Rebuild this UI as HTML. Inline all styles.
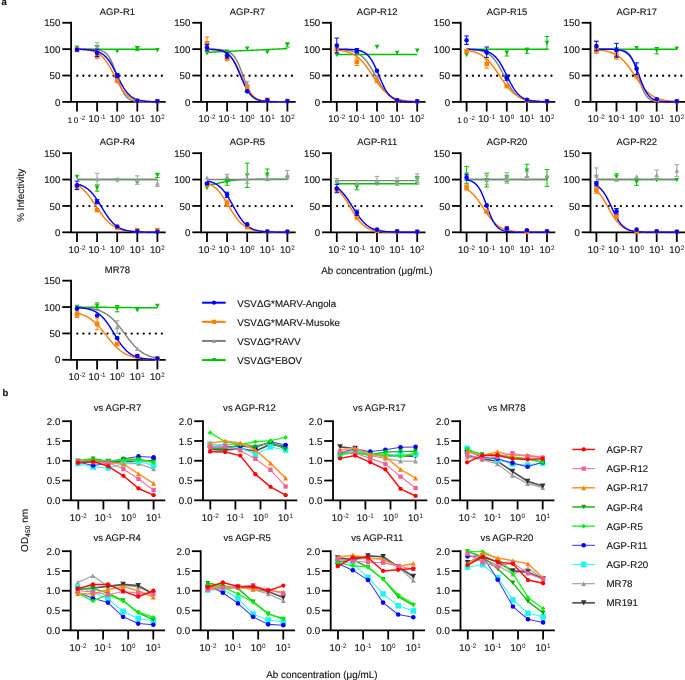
<!DOCTYPE html>
<html><head><meta charset="utf-8"><style>
html,body{margin:0;padding:0;background:#fff;width:685px;height:680px;overflow:hidden}
svg{display:block;font-family:"Liberation Sans", sans-serif;will-change:transform} text{fill:#111}
</style></head><body>
<svg width="685" height="680" viewBox="0 0 685 680">
<rect width="685" height="680" fill="#fff"/>
<g>
<text transform="translate(117.40,14.70) skewX(0.5)" text-anchor="middle" font-size="9.5" stroke="#111" stroke-width="0.12">AGP-R1</text>
<path d="M71.10,21.80V101.90H165.70" stroke="#000" stroke-width="1.8" fill="none"/>
<path d="M62.30,101.90H71.10" stroke="#000" stroke-width="1.8"/>
<text transform="translate(60.50,105.50) skewX(0.5)" text-anchor="end" font-size="9.8" stroke="#111" stroke-width="0.12">0</text>
<path d="M62.30,75.53H71.10" stroke="#000" stroke-width="1.8"/>
<text transform="translate(60.50,79.12) skewX(0.5)" text-anchor="end" font-size="9.8" stroke="#111" stroke-width="0.12">50</text>
<path d="M62.30,49.15H71.10" stroke="#000" stroke-width="1.8"/>
<text transform="translate(60.50,52.75) skewX(0.5)" text-anchor="end" font-size="9.8" stroke="#111" stroke-width="0.12">100</text>
<path d="M62.30,22.78H71.10" stroke="#000" stroke-width="1.8"/>
<text transform="translate(60.50,26.38) skewX(0.5)" text-anchor="end" font-size="9.8" stroke="#111" stroke-width="0.12">150</text>
<path d="M77.00,101.90V111.50" stroke="#000" stroke-width="1.8"/>
<text transform="translate(76.50,123.10) skewX(0.5)" text-anchor="middle" font-size="8.0" stroke="#111" stroke-width="0.12">1<tspan dx="1.7">0</tspan><tspan font-size="6.2" dx="1.6" dy="-3.6" stroke-width="0">-2</tspan></text>
<path d="M97.10,101.90V111.50" stroke="#000" stroke-width="1.8"/>
<text transform="translate(97.10,122.40) skewX(0.5)" text-anchor="middle" font-size="9.8" stroke="#111" stroke-width="0.12">10<tspan font-size="6.4" dx="0.5" dy="-3.2" stroke-width="0">-1</tspan></text>
<path d="M117.20,101.90V111.50" stroke="#000" stroke-width="1.8"/>
<text transform="translate(117.20,122.40) skewX(0.5)" text-anchor="middle" font-size="9.8" stroke="#111" stroke-width="0.12">10<tspan font-size="6.4" dx="0.5" dy="-3.2" stroke-width="0">0</tspan></text>
<path d="M137.30,101.90V111.50" stroke="#000" stroke-width="1.8"/>
<text transform="translate(137.30,122.40) skewX(0.5)" text-anchor="middle" font-size="9.8" stroke="#111" stroke-width="0.12">10<tspan font-size="6.4" dx="0.5" dy="-3.2" stroke-width="0">1</tspan></text>
<path d="M157.40,101.90V111.50" stroke="#000" stroke-width="1.8"/>
<text transform="translate(157.40,122.40) skewX(0.5)" text-anchor="middle" font-size="9.8" stroke="#111" stroke-width="0.12">10<tspan font-size="6.4" dx="0.5" dy="-3.2" stroke-width="0">2</tspan></text>
<circle cx="77.30" cy="75.73" r="1.15" fill="#000"/>
<circle cx="83.34" cy="75.73" r="1.15" fill="#000"/>
<circle cx="89.38" cy="75.73" r="1.15" fill="#000"/>
<circle cx="95.42" cy="75.73" r="1.15" fill="#000"/>
<circle cx="101.46" cy="75.73" r="1.15" fill="#000"/>
<circle cx="107.50" cy="75.73" r="1.15" fill="#000"/>
<circle cx="113.54" cy="75.73" r="1.15" fill="#000"/>
<circle cx="119.58" cy="75.73" r="1.15" fill="#000"/>
<circle cx="125.62" cy="75.73" r="1.15" fill="#000"/>
<circle cx="131.66" cy="75.73" r="1.15" fill="#000"/>
<circle cx="137.70" cy="75.73" r="1.15" fill="#000"/>
<circle cx="143.74" cy="75.73" r="1.15" fill="#000"/>
<circle cx="149.78" cy="75.73" r="1.15" fill="#000"/>
<circle cx="155.82" cy="75.73" r="1.15" fill="#000"/>
<circle cx="161.86" cy="75.73" r="1.15" fill="#000"/>
<polyline points="77.00,49.15 77.67,49.15 78.34,49.15 79.01,49.15 79.68,49.15 80.35,49.15 81.02,49.15 81.69,49.15 82.36,49.15 83.03,49.15 83.70,49.15 84.37,49.15 85.04,49.15 85.71,49.15 86.38,49.15 87.05,49.15 87.72,49.15 88.39,49.15 89.06,49.15 89.73,49.15 90.40,49.15 91.07,49.15 91.74,49.15 92.41,49.15 93.08,49.15 93.75,49.15 94.42,49.15 95.09,49.15 95.76,49.15 96.43,49.15 97.10,49.15 97.77,49.15 98.44,49.15 99.11,49.15 99.78,49.15 100.45,49.15 101.12,49.15 101.79,49.15 102.46,49.15 103.13,49.15 103.80,49.15 104.47,49.15 105.14,49.15 105.81,49.15 106.48,49.15 107.15,49.15 107.82,49.15 108.49,49.15 109.16,49.15 109.83,49.15 110.50,49.15 111.17,49.15 111.84,49.15 112.51,49.15 113.18,49.15 113.85,49.15 114.52,49.15 115.19,49.15 115.86,49.15 116.53,49.15 117.20,49.15 117.87,49.15 118.54,49.15 119.21,49.15 119.88,49.15 120.55,49.15 121.22,49.15 121.89,49.15 122.56,49.15 123.23,49.15 123.90,49.15 124.57,49.15 125.24,49.15 125.91,49.15 126.58,49.15 127.25,49.15 127.92,49.15 128.59,49.15 129.26,49.15 129.93,49.15 130.60,49.15 131.27,49.15 131.94,49.15 132.61,49.15 133.28,49.15 133.95,49.15 134.62,49.15 135.29,49.15 135.96,49.15 136.63,49.15 137.30,49.15 137.97,49.15 138.64,49.15 139.31,49.15 139.98,49.15 140.65,49.15 141.32,49.15 141.99,49.15 142.66,49.15 143.33,49.15 144.00,49.15 144.67,49.15 145.34,49.15 146.01,49.15 146.68,49.15 147.35,49.15 148.02,49.15 148.69,49.15 149.36,49.15 150.03,49.15 150.70,49.15 151.37,49.15 152.04,49.15 152.71,49.15 153.38,49.15 154.05,49.15 154.72,49.15 155.39,49.15 156.06,49.15 156.73,49.15 157.40,49.15" fill="none" stroke="#00c000" stroke-width="1.45"/>
<polyline points="77.00,49.16 77.67,49.16 78.34,49.16 79.01,49.16 79.68,49.16 80.35,49.16 81.02,49.16 81.69,49.17 82.36,49.17 83.03,49.17 83.70,49.18 84.37,49.18 85.04,49.19 85.71,49.19 86.38,49.20 87.05,49.21 87.72,49.22 88.39,49.23 89.06,49.24 89.73,49.26 90.40,49.28 91.07,49.30 91.74,49.32 92.41,49.35 93.08,49.38 93.75,49.42 94.42,49.46 95.09,49.52 95.76,49.58 96.43,49.65 97.10,49.73 97.77,49.82 98.44,49.93 99.11,50.06 99.78,50.21 100.45,50.38 101.12,50.58 101.79,50.81 102.46,51.07 103.13,51.38 103.80,51.73 104.47,52.13 105.14,52.60 105.81,53.13 106.48,53.73 107.15,54.41 107.82,55.18 108.49,56.06 109.16,57.03 109.83,58.11 110.50,59.32 111.17,60.64 111.84,62.07 112.51,63.63 113.18,65.30 113.85,67.07 114.52,68.92 115.19,70.85 115.86,72.84 116.53,74.85 117.20,76.88 117.87,78.88 118.54,80.85 119.21,82.76 119.88,84.59 120.55,86.33 121.22,87.96 121.89,89.47 122.56,90.87 123.23,92.15 123.90,93.31 124.57,94.36 125.24,95.30 125.91,96.14 126.58,96.88 127.25,97.53 127.92,98.11 128.59,98.62 129.26,99.06 129.93,99.44 130.60,99.78 131.27,100.07 131.94,100.32 132.61,100.54 133.28,100.73 133.95,100.89 134.62,101.03 135.29,101.16 135.96,101.26 136.63,101.35 137.30,101.43 137.97,101.49 138.64,101.55 139.31,101.60 139.98,101.64 140.65,101.68 141.32,101.71 141.99,101.74 142.66,101.76 143.33,101.78 144.00,101.80 144.67,101.81 145.34,101.82 146.01,101.84 146.68,101.84 147.35,101.85 148.02,101.86 148.69,101.87 149.36,101.87 150.03,101.87 150.70,101.88 151.37,101.88 152.04,101.88 152.71,101.89 153.38,101.89 154.05,101.89 154.72,101.89 155.39,101.89 156.06,101.89 156.73,101.89 157.40,101.90" fill="none" stroke="#808080" stroke-width="1.45"/>
<polyline points="77.00,49.35 77.67,49.37 78.34,49.40 79.01,49.42 79.68,49.45 80.35,49.48 81.02,49.52 81.69,49.56 82.36,49.60 83.03,49.64 83.70,49.70 84.37,49.75 85.04,49.81 85.71,49.88 86.38,49.96 87.05,50.04 87.72,50.13 88.39,50.23 89.06,50.35 89.73,50.47 90.40,50.60 91.07,50.75 91.74,50.91 92.41,51.09 93.08,51.29 93.75,51.50 94.42,51.74 95.09,51.99 95.76,52.27 96.43,52.58 97.10,52.91 97.77,53.28 98.44,53.67 99.11,54.10 99.78,54.57 100.45,55.07 101.12,55.62 101.79,56.21 102.46,56.84 103.13,57.52 103.80,58.25 104.47,59.02 105.14,59.85 105.81,60.72 106.48,61.65 107.15,62.63 107.82,63.65 108.49,64.72 109.16,65.84 109.83,67.00 110.50,68.20 111.17,69.43 111.84,70.69 112.51,71.97 113.18,73.27 113.85,74.58 114.52,75.89 115.19,77.21 115.86,78.51 116.53,79.80 117.20,81.07 117.87,82.32 118.54,83.53 119.21,84.70 119.88,85.84 120.55,86.93 121.22,87.98 121.89,88.98 122.56,89.93 123.23,90.82 123.90,91.67 124.57,92.47 125.24,93.22 125.91,93.92 126.58,94.57 127.25,95.18 127.92,95.74 128.59,96.26 129.26,96.75 129.93,97.19 130.60,97.60 131.27,97.98 131.94,98.33 132.61,98.65 133.28,98.94 133.95,99.20 134.62,99.45 135.29,99.67 135.96,99.88 136.63,100.06 137.30,100.23 137.97,100.38 138.64,100.52 139.31,100.65 139.98,100.77 140.65,100.87 141.32,100.97 141.99,101.06 142.66,101.13 143.33,101.21 144.00,101.27 144.67,101.33 145.34,101.38 146.01,101.43 146.68,101.48 147.35,101.52 148.02,101.55 148.69,101.59 149.36,101.62 150.03,101.64 150.70,101.67 151.37,101.69 152.04,101.71 152.71,101.73 153.38,101.74 154.05,101.76 154.72,101.77 155.39,101.78 156.06,101.79 156.73,101.80 157.40,101.81" fill="none" stroke="#ff7f00" stroke-width="1.45"/>
<polyline points="77.00,49.26 77.67,49.27 78.34,49.28 79.01,49.29 79.68,49.31 80.35,49.33 81.02,49.35 81.69,49.37 82.36,49.39 83.03,49.42 83.70,49.44 84.37,49.48 85.04,49.51 85.71,49.55 86.38,49.60 87.05,49.64 87.72,49.70 88.39,49.76 89.06,49.82 89.73,49.89 90.40,49.97 91.07,50.06 91.74,50.16 92.41,50.27 93.08,50.39 93.75,50.52 94.42,50.66 95.09,50.82 95.76,51.00 96.43,51.19 97.10,51.41 97.77,51.64 98.44,51.90 99.11,52.18 99.78,52.49 100.45,52.83 101.12,53.20 101.79,53.61 102.46,54.05 103.13,54.53 103.80,55.05 104.47,55.61 105.14,56.22 105.81,56.88 106.48,57.59 107.15,58.35 107.82,59.17 108.49,60.04 109.16,60.96 109.83,61.93 110.50,62.96 111.17,64.05 111.84,65.18 112.51,66.36 113.18,67.58 113.85,68.84 114.52,70.14 115.19,71.46 115.86,72.80 116.53,74.16 117.20,75.53 117.87,76.89 118.54,78.25 119.21,79.59 119.88,80.91 120.55,82.21 121.22,83.47 121.89,84.69 122.56,85.87 123.23,87.00 123.90,88.09 124.57,89.12 125.24,90.09 125.91,91.01 126.58,91.88 127.25,92.70 127.92,93.46 128.59,94.17 129.26,94.83 129.93,95.44 130.60,96.00 131.27,96.52 131.94,97.00 132.61,97.44 133.28,97.85 133.95,98.22 134.62,98.56 135.29,98.87 135.96,99.15 136.63,99.41 137.30,99.64 137.97,99.86 138.64,100.05 139.31,100.23 139.98,100.39 140.65,100.53 141.32,100.66 141.99,100.78 142.66,100.89 143.33,100.99 144.00,101.08 144.67,101.16 145.34,101.23 146.01,101.29 146.68,101.35 147.35,101.41 148.02,101.45 148.69,101.50 149.36,101.54 150.03,101.57 150.70,101.61 151.37,101.63 152.04,101.66 152.71,101.68 153.38,101.70 154.05,101.72 154.72,101.74 155.39,101.76 156.06,101.77 156.73,101.78 157.40,101.79" fill="none" stroke="#0000ff" stroke-width="1.45"/>
<path d="M74.70,45.38L79.30,45.38L77.00,49.75Z" fill="#00c000"/>
<path d="M97.10,45.46V49.68M94.80,45.46H99.40M94.80,49.68H99.40" stroke="#00c000" stroke-width="1" fill="none"/>
<path d="M94.80,45.38L99.40,45.38L97.10,49.75Z" fill="#00c000"/>
<path d="M114.90,49.08L119.50,49.08L117.20,53.45Z" fill="#00c000"/>
<path d="M137.30,46.51V50.73M135.00,46.51H139.60M135.00,50.73H139.60" stroke="#00c000" stroke-width="1" fill="none"/>
<path d="M135.00,46.44L139.60,46.44L137.30,50.81Z" fill="#00c000"/>
<path d="M155.10,48.02L159.70,48.02L157.40,52.39Z" fill="#00c000"/>
<path d="M77.00,47.57V51.79M74.70,47.57H79.30M74.70,51.79H79.30" stroke="#a0a0a0" stroke-width="1" fill="none"/>
<path d="M74.70,51.86L79.30,51.86L77.00,47.49Z" fill="#a0a0a0"/>
<path d="M97.10,42.82V51.26M94.80,42.82H99.40M94.80,51.26H99.40" stroke="#a0a0a0" stroke-width="1" fill="none"/>
<path d="M94.80,49.23L99.40,49.23L97.10,44.86Z" fill="#a0a0a0"/>
<rect x="74.70" y="47.38" width="4.60" height="4.60" fill="#ff7f00"/>
<path d="M97.10,52.32V58.65M94.80,52.32H99.40M94.80,58.65H99.40" stroke="#ff7f00" stroke-width="1" fill="none"/>
<rect x="94.80" y="53.18" width="4.60" height="4.60" fill="#ff7f00"/>
<rect x="114.90" y="78.50" width="4.60" height="4.60" fill="#ff7f00"/>
<rect x="135.00" y="98.55" width="4.60" height="4.60" fill="#ff7f00"/>
<rect x="155.10" y="99.07" width="4.60" height="4.60" fill="#ff7f00"/>
<circle cx="77.00" cy="49.68" r="2.30" fill="#0000ff"/>
<path d="M97.10,49.15V56.54M94.80,49.15H99.40M94.80,56.54H99.40" stroke="#0000ff" stroke-width="1" fill="none"/>
<circle cx="97.10" cy="52.84" r="2.30" fill="#0000ff"/>
<path d="M117.20,73.42V77.64M114.90,73.42H119.50M114.90,77.64H119.50" stroke="#0000ff" stroke-width="1" fill="none"/>
<circle cx="117.20" cy="75.53" r="2.30" fill="#0000ff"/>
<circle cx="137.30" cy="100.84" r="2.30" fill="#0000ff"/>
<circle cx="157.40" cy="101.37" r="2.30" fill="#0000ff"/>
</g>
<g>
<text transform="translate(247.40,14.70) skewX(0.5)" text-anchor="middle" font-size="9.5" stroke="#111" stroke-width="0.12">AGP-R7</text>
<path d="M201.10,21.80V101.90H295.70" stroke="#000" stroke-width="1.8" fill="none"/>
<path d="M192.30,101.90H201.10" stroke="#000" stroke-width="1.8"/>
<text transform="translate(190.50,105.50) skewX(0.5)" text-anchor="end" font-size="9.8" stroke="#111" stroke-width="0.12">0</text>
<path d="M192.30,75.53H201.10" stroke="#000" stroke-width="1.8"/>
<text transform="translate(190.50,79.12) skewX(0.5)" text-anchor="end" font-size="9.8" stroke="#111" stroke-width="0.12">50</text>
<path d="M192.30,49.15H201.10" stroke="#000" stroke-width="1.8"/>
<text transform="translate(190.50,52.75) skewX(0.5)" text-anchor="end" font-size="9.8" stroke="#111" stroke-width="0.12">100</text>
<path d="M192.30,22.78H201.10" stroke="#000" stroke-width="1.8"/>
<text transform="translate(190.50,26.38) skewX(0.5)" text-anchor="end" font-size="9.8" stroke="#111" stroke-width="0.12">150</text>
<path d="M207.00,101.90V111.50" stroke="#000" stroke-width="1.8"/>
<text transform="translate(207.00,122.40) skewX(0.5)" text-anchor="middle" font-size="9.8" stroke="#111" stroke-width="0.12">10<tspan font-size="6.4" dx="0.5" dy="-3.2" stroke-width="0">-2</tspan></text>
<path d="M227.10,101.90V111.50" stroke="#000" stroke-width="1.8"/>
<text transform="translate(227.10,122.40) skewX(0.5)" text-anchor="middle" font-size="9.8" stroke="#111" stroke-width="0.12">10<tspan font-size="6.4" dx="0.5" dy="-3.2" stroke-width="0">-1</tspan></text>
<path d="M247.20,101.90V111.50" stroke="#000" stroke-width="1.8"/>
<text transform="translate(247.20,122.40) skewX(0.5)" text-anchor="middle" font-size="9.8" stroke="#111" stroke-width="0.12">10<tspan font-size="6.4" dx="0.5" dy="-3.2" stroke-width="0">0</tspan></text>
<path d="M267.30,101.90V111.50" stroke="#000" stroke-width="1.8"/>
<text transform="translate(267.30,122.40) skewX(0.5)" text-anchor="middle" font-size="9.8" stroke="#111" stroke-width="0.12">10<tspan font-size="6.4" dx="0.5" dy="-3.2" stroke-width="0">1</tspan></text>
<path d="M287.40,101.90V111.50" stroke="#000" stroke-width="1.8"/>
<text transform="translate(287.40,122.40) skewX(0.5)" text-anchor="middle" font-size="9.8" stroke="#111" stroke-width="0.12">10<tspan font-size="6.4" dx="0.5" dy="-3.2" stroke-width="0">2</tspan></text>
<circle cx="207.30" cy="75.73" r="1.15" fill="#000"/>
<circle cx="213.34" cy="75.73" r="1.15" fill="#000"/>
<circle cx="219.38" cy="75.73" r="1.15" fill="#000"/>
<circle cx="225.42" cy="75.73" r="1.15" fill="#000"/>
<circle cx="231.46" cy="75.73" r="1.15" fill="#000"/>
<circle cx="237.50" cy="75.73" r="1.15" fill="#000"/>
<circle cx="243.54" cy="75.73" r="1.15" fill="#000"/>
<circle cx="249.58" cy="75.73" r="1.15" fill="#000"/>
<circle cx="255.62" cy="75.73" r="1.15" fill="#000"/>
<circle cx="261.66" cy="75.73" r="1.15" fill="#000"/>
<circle cx="267.70" cy="75.73" r="1.15" fill="#000"/>
<circle cx="273.74" cy="75.73" r="1.15" fill="#000"/>
<circle cx="279.78" cy="75.73" r="1.15" fill="#000"/>
<circle cx="285.82" cy="75.73" r="1.15" fill="#000"/>
<circle cx="291.86" cy="75.73" r="1.15" fill="#000"/>
<polyline points="207.00,52.32 207.67,52.28 208.34,52.25 209.01,52.22 209.68,52.19 210.35,52.16 211.02,52.13 211.69,52.10 212.36,52.07 213.03,52.04 213.70,52.01 214.37,51.98 215.04,51.95 215.71,51.91 216.38,51.88 217.05,51.85 217.72,51.82 218.39,51.79 219.06,51.76 219.73,51.73 220.40,51.70 221.07,51.67 221.74,51.64 222.41,51.61 223.08,51.58 223.75,51.55 224.42,51.51 225.09,51.48 225.76,51.45 226.43,51.42 227.10,51.39 227.77,51.36 228.44,51.33 229.11,51.30 229.78,51.27 230.45,51.24 231.12,51.21 231.79,51.18 232.46,51.15 233.13,51.11 233.80,51.08 234.47,51.05 235.14,51.02 235.81,50.99 236.48,50.96 237.15,50.93 237.82,50.90 238.49,50.87 239.16,50.84 239.83,50.81 240.50,50.78 241.17,50.75 241.84,50.71 242.51,50.68 243.18,50.65 243.85,50.62 244.52,50.59 245.19,50.56 245.86,50.53 246.53,50.50 247.20,50.47 247.87,50.44 248.54,50.41 249.21,50.38 249.88,50.35 250.55,50.31 251.22,50.28 251.89,50.25 252.56,50.22 253.23,50.19 253.90,50.16 254.57,50.13 255.24,50.10 255.91,50.07 256.58,50.04 257.25,50.01 257.92,49.98 258.59,49.95 259.26,49.91 259.93,49.88 260.60,49.85 261.27,49.82 261.94,49.79 262.61,49.76 263.28,49.73 263.95,49.70 264.62,49.67 265.29,49.64 265.96,49.61 266.63,49.58 267.30,49.55 267.97,49.51 268.64,49.48 269.31,49.45 269.98,49.42 270.65,49.39 271.32,49.36 271.99,49.33 272.66,49.30 273.33,49.27 274.00,49.24 274.67,49.21 275.34,49.18 276.01,49.15 276.68,49.11 277.35,49.08 278.02,49.05 278.69,49.02 279.36,48.99 280.03,48.96 280.70,48.93 281.37,48.90 282.04,48.87 282.71,48.84 283.38,48.81 284.05,48.78 284.72,48.75 285.39,48.71 286.06,48.68 286.73,48.65 287.40,48.62" fill="none" stroke="#00c000" stroke-width="1.45"/>
<polyline points="207.00,49.18 207.67,49.19 208.34,49.19 209.01,49.20 209.68,49.20 210.35,49.21 211.02,49.22 211.69,49.23 212.36,49.24 213.03,49.26 213.70,49.27 214.37,49.29 215.04,49.31 215.71,49.34 216.38,49.37 217.05,49.40 217.72,49.43 218.39,49.48 219.06,49.52 219.73,49.58 220.40,49.64 221.07,49.71 221.74,49.80 222.41,49.89 223.08,50.00 223.75,50.12 224.42,50.26 225.09,50.42 225.76,50.61 226.43,50.82 227.10,51.06 227.77,51.33 228.44,51.63 229.11,51.98 229.78,52.37 230.45,52.82 231.12,53.32 231.79,53.88 232.46,54.51 233.13,55.22 233.80,56.00 234.47,56.86 235.14,57.82 235.81,58.87 236.48,60.01 237.15,61.25 237.82,62.59 238.49,64.01 239.16,65.53 239.83,67.13 240.50,68.80 241.17,70.54 241.84,72.31 242.51,74.12 243.18,75.94 243.85,77.76 244.52,79.55 245.19,81.31 245.86,83.02 246.53,84.66 247.20,86.22 247.87,87.70 248.54,89.09 249.21,90.38 249.88,91.57 250.55,92.67 251.22,93.68 251.89,94.59 252.56,95.42 253.23,96.16 253.90,96.83 254.57,97.43 255.24,97.97 255.91,98.44 256.58,98.86 257.25,99.23 257.92,99.56 258.59,99.85 259.26,100.11 259.93,100.33 260.60,100.53 261.27,100.70 261.94,100.85 262.61,100.99 263.28,101.10 263.95,101.20 264.62,101.29 265.29,101.37 265.96,101.44 266.63,101.50 267.30,101.55 267.97,101.59 268.64,101.63 269.31,101.67 269.98,101.70 270.65,101.72 271.32,101.75 271.99,101.77 272.66,101.78 273.33,101.80 274.00,101.81 274.67,101.82 275.34,101.83 276.01,101.84 276.68,101.85 277.35,101.86 278.02,101.86 278.69,101.87 279.36,101.87 280.03,101.87 280.70,101.88 281.37,101.88 282.04,101.88 282.71,101.89 283.38,101.89 284.05,101.89 284.72,101.89 285.39,101.89 286.06,101.89 286.73,101.89 287.40,101.89" fill="none" stroke="#808080" stroke-width="1.45"/>
<polyline points="207.00,49.30 207.67,49.32 208.34,49.34 209.01,49.36 209.68,49.39 210.35,49.41 211.02,49.45 211.69,49.48 212.36,49.52 213.03,49.57 213.70,49.62 214.37,49.67 215.04,49.74 215.71,49.81 216.38,49.89 217.05,49.98 217.72,50.07 218.39,50.19 219.06,50.31 219.73,50.45 220.40,50.60 221.07,50.77 221.74,50.96 222.41,51.18 223.08,51.41 223.75,51.68 224.42,51.97 225.09,52.29 225.76,52.65 226.43,53.04 227.10,53.48 227.77,53.96 228.44,54.49 229.11,55.07 229.78,55.70 230.45,56.39 231.12,57.14 231.79,57.95 232.46,58.83 233.13,59.77 233.80,60.78 234.47,61.86 235.14,63.00 235.81,64.21 236.48,65.48 237.15,66.80 237.82,68.18 238.49,69.60 239.16,71.06 239.83,72.55 240.50,74.06 241.17,75.57 241.84,77.09 242.51,78.59 243.18,80.08 243.85,81.54 244.52,82.96 245.19,84.33 245.86,85.65 246.53,86.92 247.20,88.12 247.87,89.26 248.54,90.33 249.21,91.34 249.88,92.28 250.55,93.15 251.22,93.96 251.89,94.71 252.56,95.39 253.23,96.02 253.90,96.60 254.57,97.12 255.24,97.60 255.91,98.03 256.58,98.42 257.25,98.78 257.92,99.10 258.59,99.39 259.26,99.65 259.93,99.89 260.60,100.10 261.27,100.29 261.94,100.46 262.61,100.61 263.28,100.75 263.95,100.87 264.62,100.98 265.29,101.08 265.96,101.17 266.63,101.25 267.30,101.32 267.97,101.38 268.64,101.44 269.31,101.49 269.98,101.53 270.65,101.57 271.32,101.61 271.99,101.64 272.66,101.67 273.33,101.69 274.00,101.71 274.67,101.73 275.34,101.75 276.01,101.77 276.68,101.78 277.35,101.80 278.02,101.81 278.69,101.82 279.36,101.83 280.03,101.83 280.70,101.84 281.37,101.85 282.04,101.85 282.71,101.86 283.38,101.86 284.05,101.87 284.72,101.87 285.39,101.87 286.06,101.88 286.73,101.88 287.40,101.88" fill="none" stroke="#ff7f00" stroke-width="1.45"/>
<polyline points="207.00,49.27 207.67,49.28 208.34,49.30 209.01,49.32 209.68,49.34 210.35,49.36 211.02,49.39 211.69,49.42 212.36,49.46 213.03,49.50 213.70,49.54 214.37,49.59 215.04,49.65 215.71,49.71 216.38,49.79 217.05,49.87 217.72,49.96 218.39,50.06 219.06,50.18 219.73,50.31 220.40,50.46 221.07,50.63 221.74,50.81 222.41,51.02 223.08,51.26 223.75,51.52 224.42,51.82 225.09,52.15 225.76,52.51 226.43,52.92 227.10,53.37 227.77,53.87 228.44,54.43 229.11,55.04 229.78,55.72 230.45,56.46 231.12,57.26 231.79,58.14 232.46,59.10 233.13,60.13 233.80,61.23 234.47,62.41 235.14,63.67 235.81,65.00 236.48,66.39 237.15,67.85 237.82,69.35 238.49,70.90 239.16,72.49 239.83,74.10 240.50,75.71 241.17,77.33 241.84,78.93 242.51,80.51 243.18,82.05 243.85,83.55 244.52,84.99 245.19,86.37 245.86,87.68 246.53,88.92 247.20,90.08 247.87,91.17 248.54,92.18 249.21,93.12 249.88,93.98 250.55,94.77 251.22,95.50 251.89,96.16 252.56,96.75 253.23,97.30 253.90,97.79 254.57,98.23 255.24,98.63 255.91,98.99 256.58,99.31 257.25,99.59 257.92,99.85 258.59,100.08 259.26,100.28 259.93,100.46 260.60,100.63 261.27,100.77 261.94,100.90 262.61,101.01 263.28,101.11 263.95,101.20 264.62,101.28 265.29,101.35 265.96,101.42 266.63,101.47 267.30,101.52 267.97,101.56 268.64,101.60 269.31,101.64 269.98,101.67 270.65,101.69 271.32,101.72 271.99,101.74 272.66,101.76 273.33,101.77 274.00,101.79 274.67,101.80 275.34,101.81 276.01,101.82 276.68,101.83 277.35,101.84 278.02,101.85 278.69,101.85 279.36,101.86 280.03,101.86 280.70,101.87 281.37,101.87 282.04,101.87 282.71,101.88 283.38,101.88 284.05,101.88 284.72,101.88 285.39,101.89 286.06,101.89 286.73,101.89 287.40,101.89" fill="none" stroke="#0000ff" stroke-width="1.45"/>
<path d="M204.70,51.19L209.30,51.19L207.00,55.56Z" fill="#00c000"/>
<path d="M224.80,49.60L229.40,49.60L227.10,53.97Z" fill="#00c000"/>
<path d="M244.90,46.44L249.50,46.44L247.20,50.81Z" fill="#00c000"/>
<path d="M265.00,50.13L269.60,50.13L267.30,54.50Z" fill="#00c000"/>
<path d="M287.40,42.82V47.04M285.10,42.82H289.70M285.10,47.04H289.70" stroke="#00c000" stroke-width="1" fill="none"/>
<path d="M285.10,42.75L289.70,42.75L287.40,47.12Z" fill="#00c000"/>
<path d="M247.20,81.33V85.55M244.90,81.33H249.50M244.90,85.55H249.50" stroke="#a0a0a0" stroke-width="1" fill="none"/>
<path d="M244.90,85.62L249.50,85.62L247.20,81.25Z" fill="#a0a0a0"/>
<path d="M207.00,37.02V49.68M204.70,37.02H209.30M204.70,49.68H209.30" stroke="#ff7f00" stroke-width="1" fill="none"/>
<rect x="204.70" y="41.05" width="4.60" height="4.60" fill="#ff7f00"/>
<path d="M227.10,55.48V60.76M224.80,55.48H229.40M224.80,60.76H229.40" stroke="#ff7f00" stroke-width="1" fill="none"/>
<rect x="224.80" y="55.82" width="4.60" height="4.60" fill="#ff7f00"/>
<rect x="244.90" y="85.36" width="4.60" height="4.60" fill="#ff7f00"/>
<rect x="265.00" y="97.49" width="4.60" height="4.60" fill="#ff7f00"/>
<rect x="285.10" y="98.55" width="4.60" height="4.60" fill="#ff7f00"/>
<path d="M207.00,44.40V50.73M204.70,44.40H209.30M204.70,50.73H209.30" stroke="#0000ff" stroke-width="1" fill="none"/>
<circle cx="207.00" cy="47.57" r="2.30" fill="#0000ff"/>
<path d="M227.10,52.84V58.12M224.80,52.84H229.40M224.80,58.12H229.40" stroke="#0000ff" stroke-width="1" fill="none"/>
<circle cx="227.10" cy="55.48" r="2.30" fill="#0000ff"/>
<circle cx="247.20" cy="91.35" r="2.30" fill="#0000ff"/>
<circle cx="267.30" cy="100.32" r="2.30" fill="#0000ff"/>
<circle cx="287.40" cy="101.37" r="2.30" fill="#0000ff"/>
</g>
<g>
<text transform="translate(377.20,14.70) skewX(0.5)" text-anchor="middle" font-size="9.5" stroke="#111" stroke-width="0.12">AGP-R12</text>
<path d="M330.90,21.80V101.90H425.50" stroke="#000" stroke-width="1.8" fill="none"/>
<path d="M322.10,101.90H330.90" stroke="#000" stroke-width="1.8"/>
<text transform="translate(320.30,105.50) skewX(0.5)" text-anchor="end" font-size="9.8" stroke="#111" stroke-width="0.12">0</text>
<path d="M322.10,75.53H330.90" stroke="#000" stroke-width="1.8"/>
<text transform="translate(320.30,79.12) skewX(0.5)" text-anchor="end" font-size="9.8" stroke="#111" stroke-width="0.12">50</text>
<path d="M322.10,49.15H330.90" stroke="#000" stroke-width="1.8"/>
<text transform="translate(320.30,52.75) skewX(0.5)" text-anchor="end" font-size="9.8" stroke="#111" stroke-width="0.12">100</text>
<path d="M322.10,22.78H330.90" stroke="#000" stroke-width="1.8"/>
<text transform="translate(320.30,26.38) skewX(0.5)" text-anchor="end" font-size="9.8" stroke="#111" stroke-width="0.12">150</text>
<path d="M336.80,101.90V111.50" stroke="#000" stroke-width="1.8"/>
<text transform="translate(336.80,122.40) skewX(0.5)" text-anchor="middle" font-size="9.8" stroke="#111" stroke-width="0.12">10<tspan font-size="6.4" dx="0.5" dy="-3.2" stroke-width="0">-2</tspan></text>
<path d="M356.90,101.90V111.50" stroke="#000" stroke-width="1.8"/>
<text transform="translate(356.90,122.40) skewX(0.5)" text-anchor="middle" font-size="9.8" stroke="#111" stroke-width="0.12">10<tspan font-size="6.4" dx="0.5" dy="-3.2" stroke-width="0">-1</tspan></text>
<path d="M377.00,101.90V111.50" stroke="#000" stroke-width="1.8"/>
<text transform="translate(377.00,122.40) skewX(0.5)" text-anchor="middle" font-size="9.8" stroke="#111" stroke-width="0.12">10<tspan font-size="6.4" dx="0.5" dy="-3.2" stroke-width="0">0</tspan></text>
<path d="M397.10,101.90V111.50" stroke="#000" stroke-width="1.8"/>
<text transform="translate(397.10,122.40) skewX(0.5)" text-anchor="middle" font-size="9.8" stroke="#111" stroke-width="0.12">10<tspan font-size="6.4" dx="0.5" dy="-3.2" stroke-width="0">1</tspan></text>
<path d="M417.20,101.90V111.50" stroke="#000" stroke-width="1.8"/>
<text transform="translate(417.20,122.40) skewX(0.5)" text-anchor="middle" font-size="9.8" stroke="#111" stroke-width="0.12">10<tspan font-size="6.4" dx="0.5" dy="-3.2" stroke-width="0">2</tspan></text>
<circle cx="337.10" cy="75.73" r="1.15" fill="#000"/>
<circle cx="343.14" cy="75.73" r="1.15" fill="#000"/>
<circle cx="349.18" cy="75.73" r="1.15" fill="#000"/>
<circle cx="355.22" cy="75.73" r="1.15" fill="#000"/>
<circle cx="361.26" cy="75.73" r="1.15" fill="#000"/>
<circle cx="367.30" cy="75.73" r="1.15" fill="#000"/>
<circle cx="373.34" cy="75.73" r="1.15" fill="#000"/>
<circle cx="379.38" cy="75.73" r="1.15" fill="#000"/>
<circle cx="385.42" cy="75.73" r="1.15" fill="#000"/>
<circle cx="391.46" cy="75.73" r="1.15" fill="#000"/>
<circle cx="397.50" cy="75.73" r="1.15" fill="#000"/>
<circle cx="403.54" cy="75.73" r="1.15" fill="#000"/>
<circle cx="409.58" cy="75.73" r="1.15" fill="#000"/>
<circle cx="415.62" cy="75.73" r="1.15" fill="#000"/>
<circle cx="421.66" cy="75.73" r="1.15" fill="#000"/>
<polyline points="336.80,54.43 337.47,54.43 338.14,54.43 338.81,54.43 339.48,54.43 340.15,54.43 340.82,54.43 341.49,54.43 342.16,54.43 342.83,54.43 343.50,54.43 344.17,54.43 344.84,54.43 345.51,54.43 346.18,54.43 346.85,54.43 347.52,54.43 348.19,54.43 348.86,54.43 349.53,54.43 350.20,54.43 350.87,54.43 351.54,54.43 352.21,54.43 352.88,54.43 353.55,54.43 354.22,54.43 354.89,54.43 355.56,54.43 356.23,54.43 356.90,54.43 357.57,54.43 358.24,54.43 358.91,54.43 359.58,54.43 360.25,54.43 360.92,54.43 361.59,54.43 362.26,54.43 362.93,54.43 363.60,54.43 364.27,54.43 364.94,54.43 365.61,54.43 366.28,54.43 366.95,54.43 367.62,54.43 368.29,54.43 368.96,54.43 369.63,54.43 370.30,54.43 370.97,54.43 371.64,54.43 372.31,54.43 372.98,54.43 373.65,54.43 374.32,54.43 374.99,54.43 375.66,54.43 376.33,54.43 377.00,54.43 377.67,54.43 378.34,54.43 379.01,54.43 379.68,54.43 380.35,54.43 381.02,54.43 381.69,54.43 382.36,54.43 383.03,54.43 383.70,54.43 384.37,54.43 385.04,54.43 385.71,54.43 386.38,54.43 387.05,54.43 387.72,54.43 388.39,54.43 389.06,54.43 389.73,54.43 390.40,54.43 391.07,54.43 391.74,54.43 392.41,54.43 393.08,54.43 393.75,54.43 394.42,54.43 395.09,54.43 395.76,54.43 396.43,54.43 397.10,54.43 397.77,54.43 398.44,54.43 399.11,54.43 399.78,54.43 400.45,54.43 401.12,54.43 401.79,54.43 402.46,54.43 403.13,54.43 403.80,54.43 404.47,54.43 405.14,54.43 405.81,54.43 406.48,54.43 407.15,54.43 407.82,54.43 408.49,54.43 409.16,54.43 409.83,54.43 410.50,54.43 411.17,54.43 411.84,54.43 412.51,54.43 413.18,54.43 413.85,54.43 414.52,54.43 415.19,54.43 415.86,54.43 416.53,54.43 417.20,54.43" fill="none" stroke="#00c000" stroke-width="1.45"/>
<polyline points="336.80,49.41 337.47,49.44 338.14,49.46 338.81,49.49 339.48,49.53 340.15,49.56 340.82,49.60 341.49,49.65 342.16,49.69 342.83,49.74 343.50,49.80 344.17,49.86 344.84,49.93 345.51,50.01 346.18,50.09 346.85,50.18 347.52,50.27 348.19,50.38 348.86,50.49 349.53,50.62 350.20,50.76 350.87,50.91 351.54,51.07 352.21,51.25 352.88,51.44 353.55,51.65 354.22,51.88 354.89,52.13 355.56,52.40 356.23,52.69 356.90,53.01 357.57,53.35 358.24,53.72 358.91,54.12 359.58,54.55 360.25,55.01 360.92,55.51 361.59,56.04 362.26,56.62 362.93,57.23 363.60,57.88 364.27,58.57 364.94,59.30 365.61,60.08 366.28,60.90 366.95,61.76 367.62,62.66 368.29,63.61 368.96,64.60 369.63,65.62 370.30,66.68 370.97,67.78 371.64,68.90 372.31,70.05 372.98,71.22 373.65,72.42 374.32,73.62 374.99,74.83 375.66,76.04 376.33,77.26 377.00,78.46 377.67,79.65 378.34,80.83 379.01,81.98 379.68,83.11 380.35,84.21 381.02,85.28 381.69,86.31 382.36,87.30 383.03,88.25 383.70,89.16 384.37,90.03 385.04,90.86 385.71,91.64 386.38,92.38 387.05,93.08 387.72,93.73 388.39,94.35 389.06,94.93 389.73,95.46 390.40,95.97 391.07,96.43 391.74,96.87 392.41,97.27 393.08,97.65 393.75,97.99 394.42,98.31 395.09,98.61 395.76,98.88 396.43,99.13 397.10,99.37 397.77,99.58 398.44,99.78 399.11,99.96 399.78,100.12 400.45,100.27 401.12,100.41 401.79,100.54 402.46,100.66 403.13,100.76 403.80,100.86 404.47,100.95 405.14,101.03 405.81,101.11 406.48,101.18 407.15,101.24 407.82,101.30 408.49,101.35 409.16,101.40 409.83,101.44 410.50,101.48 411.17,101.52 411.84,101.55 412.51,101.58 413.18,101.61 413.85,101.64 414.52,101.66 415.19,101.68 415.86,101.70 416.53,101.72 417.20,101.73" fill="none" stroke="#808080" stroke-width="1.45"/>
<polyline points="336.80,50.01 337.47,50.08 338.14,50.16 338.81,50.23 339.48,50.32 340.15,50.41 340.82,50.51 341.49,50.61 342.16,50.73 342.83,50.85 343.50,50.98 344.17,51.12 344.84,51.27 345.51,51.43 346.18,51.60 346.85,51.79 347.52,51.99 348.19,52.20 348.86,52.43 349.53,52.68 350.20,52.94 350.87,53.22 351.54,53.51 352.21,53.83 352.88,54.17 353.55,54.53 354.22,54.91 354.89,55.32 355.56,55.75 356.23,56.20 356.90,56.69 357.57,57.20 358.24,57.73 358.91,58.30 359.58,58.89 360.25,59.52 360.92,60.17 361.59,60.86 362.26,61.57 362.93,62.31 363.60,63.09 364.27,63.89 364.94,64.72 365.61,65.57 366.28,66.45 366.95,67.36 367.62,68.28 368.29,69.23 368.96,70.19 369.63,71.17 370.30,72.16 370.97,73.16 371.64,74.17 372.31,75.18 372.98,76.19 373.65,77.20 374.32,78.20 374.99,79.20 375.66,80.19 376.33,81.16 377.00,82.12 377.67,83.06 378.34,83.98 379.01,84.87 379.68,85.75 380.35,86.59 381.02,87.41 381.69,88.21 382.36,88.97 383.03,89.70 383.70,90.41 384.37,91.08 385.04,91.73 385.71,92.34 386.38,92.93 387.05,93.49 387.72,94.02 388.39,94.52 389.06,94.99 389.73,95.44 390.40,95.86 391.07,96.26 391.74,96.64 392.41,96.99 393.08,97.32 393.75,97.63 394.42,97.92 395.09,98.20 395.76,98.45 396.43,98.69 397.10,98.91 397.77,99.12 398.44,99.32 399.11,99.50 399.78,99.67 400.45,99.83 401.12,99.98 401.79,100.11 402.46,100.24 403.13,100.36 403.80,100.47 404.47,100.57 405.14,100.67 405.81,100.76 406.48,100.84 407.15,100.92 407.82,100.99 408.49,101.06 409.16,101.12 409.83,101.17 410.50,101.23 411.17,101.28 411.84,101.32 412.51,101.36 413.18,101.40 413.85,101.44 414.52,101.47 415.19,101.50 415.86,101.53 416.53,101.56 417.20,101.59" fill="none" stroke="#ff7f00" stroke-width="1.45"/>
<polyline points="336.80,49.17 337.47,49.18 338.14,49.18 338.81,49.18 339.48,49.19 340.15,49.19 340.82,49.20 341.49,49.20 342.16,49.21 342.83,49.22 343.50,49.23 344.17,49.24 344.84,49.25 345.51,49.26 346.18,49.28 346.85,49.30 347.52,49.32 348.19,49.34 348.86,49.36 349.53,49.39 350.20,49.42 350.87,49.46 351.54,49.49 352.21,49.54 352.88,49.59 353.55,49.65 354.22,49.71 354.89,49.78 355.56,49.87 356.23,49.96 356.90,50.06 357.57,50.18 358.24,50.31 358.91,50.46 359.58,50.62 360.25,50.81 360.92,51.02 361.59,51.25 362.26,51.52 362.93,51.81 363.60,52.14 364.27,52.50 364.94,52.91 365.61,53.36 366.28,53.86 366.95,54.42 367.62,55.03 368.29,55.70 368.96,56.44 369.63,57.24 370.30,58.12 370.97,59.07 371.64,60.10 372.31,61.20 372.98,62.38 373.65,63.64 374.32,64.96 374.99,66.36 375.66,67.81 376.33,69.32 377.00,70.87 377.67,72.45 378.34,74.06 379.01,75.68 379.68,77.29 380.35,78.90 381.02,80.47 381.69,82.02 382.36,83.51 383.03,84.96 383.70,86.34 384.37,87.65 385.04,88.89 385.71,90.06 386.38,91.15 387.05,92.16 387.72,93.10 388.39,93.96 389.06,94.75 389.73,95.48 390.40,96.14 391.07,96.74 391.74,97.28 392.41,97.78 393.08,98.22 393.75,98.62 394.42,98.98 395.09,99.30 395.76,99.59 396.43,99.84 397.10,100.07 397.77,100.28 398.44,100.46 399.11,100.62 399.78,100.77 400.45,100.89 401.12,101.01 401.79,101.11 402.46,101.20 403.13,101.28 403.80,101.35 404.47,101.41 405.14,101.47 405.81,101.52 406.48,101.56 407.15,101.60 407.82,101.64 408.49,101.67 409.16,101.69 409.83,101.72 410.50,101.74 411.17,101.76 411.84,101.77 412.51,101.79 413.18,101.80 413.85,101.81 414.52,101.82 415.19,101.83 415.86,101.84 416.53,101.85 417.20,101.85" fill="none" stroke="#0000ff" stroke-width="1.45"/>
<path d="M334.50,52.77L339.10,52.77L336.80,57.14Z" fill="#00c000"/>
<path d="M354.60,52.24L359.20,52.24L356.90,56.61Z" fill="#00c000"/>
<path d="M374.70,44.86L379.30,44.86L377.00,49.23Z" fill="#00c000"/>
<path d="M394.80,50.66L399.40,50.66L397.10,55.03Z" fill="#00c000"/>
<path d="M414.90,48.55L419.50,48.55L417.20,52.92Z" fill="#00c000"/>
<path d="M374.70,78.24L379.30,78.24L377.00,73.87Z" fill="#a0a0a0"/>
<rect x="334.50" y="46.85" width="4.60" height="4.60" fill="#ff7f00"/>
<path d="M356.90,58.12V65.50M354.60,58.12H359.20M354.60,65.50H359.20" stroke="#ff7f00" stroke-width="1" fill="none"/>
<rect x="354.60" y="59.51" width="4.60" height="4.60" fill="#ff7f00"/>
<rect x="374.70" y="78.50" width="4.60" height="4.60" fill="#ff7f00"/>
<rect x="394.80" y="98.02" width="4.60" height="4.60" fill="#ff7f00"/>
<rect x="414.90" y="99.07" width="4.60" height="4.60" fill="#ff7f00"/>
<path d="M336.80,38.07V52.84M334.50,38.07H339.10M334.50,52.84H339.10" stroke="#0000ff" stroke-width="1" fill="none"/>
<circle cx="336.80" cy="45.46" r="2.30" fill="#0000ff"/>
<path d="M356.90,48.62V52.84M354.60,48.62H359.20M354.60,52.84H359.20" stroke="#0000ff" stroke-width="1" fill="none"/>
<circle cx="356.90" cy="50.73" r="2.30" fill="#0000ff"/>
<circle cx="377.00" cy="70.78" r="2.30" fill="#0000ff"/>
<circle cx="397.10" cy="100.32" r="2.30" fill="#0000ff"/>
<circle cx="417.20" cy="101.37" r="2.30" fill="#0000ff"/>
</g>
<g>
<text transform="translate(507.00,14.70) skewX(0.5)" text-anchor="middle" font-size="9.5" stroke="#111" stroke-width="0.12">AGP-R15</text>
<path d="M460.70,21.80V101.90H555.30" stroke="#000" stroke-width="1.8" fill="none"/>
<path d="M451.90,101.90H460.70" stroke="#000" stroke-width="1.8"/>
<text transform="translate(450.10,105.50) skewX(0.5)" text-anchor="end" font-size="9.8" stroke="#111" stroke-width="0.12">0</text>
<path d="M451.90,75.53H460.70" stroke="#000" stroke-width="1.8"/>
<text transform="translate(450.10,79.12) skewX(0.5)" text-anchor="end" font-size="9.8" stroke="#111" stroke-width="0.12">50</text>
<path d="M451.90,49.15H460.70" stroke="#000" stroke-width="1.8"/>
<text transform="translate(450.10,52.75) skewX(0.5)" text-anchor="end" font-size="9.8" stroke="#111" stroke-width="0.12">100</text>
<path d="M451.90,22.78H460.70" stroke="#000" stroke-width="1.8"/>
<text transform="translate(450.10,26.38) skewX(0.5)" text-anchor="end" font-size="9.8" stroke="#111" stroke-width="0.12">150</text>
<path d="M466.60,101.90V111.50" stroke="#000" stroke-width="1.8"/>
<text transform="translate(466.10,123.10) skewX(0.5)" text-anchor="middle" font-size="8.0" stroke="#111" stroke-width="0.12">1<tspan dx="1.7">0</tspan><tspan font-size="6.2" dx="1.6" dy="-3.6" stroke-width="0">-2</tspan></text>
<path d="M486.70,101.90V111.50" stroke="#000" stroke-width="1.8"/>
<text transform="translate(486.70,122.40) skewX(0.5)" text-anchor="middle" font-size="9.8" stroke="#111" stroke-width="0.12">10<tspan font-size="6.4" dx="0.5" dy="-3.2" stroke-width="0">-1</tspan></text>
<path d="M506.80,101.90V111.50" stroke="#000" stroke-width="1.8"/>
<text transform="translate(506.80,122.40) skewX(0.5)" text-anchor="middle" font-size="9.8" stroke="#111" stroke-width="0.12">10<tspan font-size="6.4" dx="0.5" dy="-3.2" stroke-width="0">0</tspan></text>
<path d="M526.90,101.90V111.50" stroke="#000" stroke-width="1.8"/>
<text transform="translate(526.90,122.40) skewX(0.5)" text-anchor="middle" font-size="9.8" stroke="#111" stroke-width="0.12">10<tspan font-size="6.4" dx="0.5" dy="-3.2" stroke-width="0">1</tspan></text>
<path d="M547.00,101.90V111.50" stroke="#000" stroke-width="1.8"/>
<text transform="translate(547.00,122.40) skewX(0.5)" text-anchor="middle" font-size="9.8" stroke="#111" stroke-width="0.12">10<tspan font-size="6.4" dx="0.5" dy="-3.2" stroke-width="0">2</tspan></text>
<circle cx="466.90" cy="75.73" r="1.15" fill="#000"/>
<circle cx="472.94" cy="75.73" r="1.15" fill="#000"/>
<circle cx="478.98" cy="75.73" r="1.15" fill="#000"/>
<circle cx="485.02" cy="75.73" r="1.15" fill="#000"/>
<circle cx="491.06" cy="75.73" r="1.15" fill="#000"/>
<circle cx="497.10" cy="75.73" r="1.15" fill="#000"/>
<circle cx="503.14" cy="75.73" r="1.15" fill="#000"/>
<circle cx="509.18" cy="75.73" r="1.15" fill="#000"/>
<circle cx="515.22" cy="75.73" r="1.15" fill="#000"/>
<circle cx="521.26" cy="75.73" r="1.15" fill="#000"/>
<circle cx="527.30" cy="75.73" r="1.15" fill="#000"/>
<circle cx="533.34" cy="75.73" r="1.15" fill="#000"/>
<circle cx="539.38" cy="75.73" r="1.15" fill="#000"/>
<circle cx="545.42" cy="75.73" r="1.15" fill="#000"/>
<circle cx="551.46" cy="75.73" r="1.15" fill="#000"/>
<polyline points="466.60,49.15 467.27,49.15 467.94,49.15 468.61,49.15 469.28,49.15 469.95,49.15 470.62,49.15 471.29,49.15 471.96,49.15 472.63,49.15 473.30,49.15 473.97,49.15 474.64,49.15 475.31,49.15 475.98,49.15 476.65,49.15 477.32,49.15 477.99,49.15 478.66,49.15 479.33,49.15 480.00,49.15 480.67,49.15 481.34,49.15 482.01,49.15 482.68,49.15 483.35,49.15 484.02,49.15 484.69,49.15 485.36,49.15 486.03,49.15 486.70,49.15 487.37,49.15 488.04,49.15 488.71,49.15 489.38,49.15 490.05,49.15 490.72,49.15 491.39,49.15 492.06,49.15 492.73,49.15 493.40,49.15 494.07,49.15 494.74,49.15 495.41,49.15 496.08,49.15 496.75,49.15 497.42,49.15 498.09,49.15 498.76,49.15 499.43,49.15 500.10,49.15 500.77,49.15 501.44,49.15 502.11,49.15 502.78,49.15 503.45,49.15 504.12,49.15 504.79,49.15 505.46,49.15 506.13,49.15 506.80,49.15 507.47,49.15 508.14,49.15 508.81,49.15 509.48,49.15 510.15,49.15 510.82,49.15 511.49,49.15 512.16,49.15 512.83,49.15 513.50,49.15 514.17,49.15 514.84,49.15 515.51,49.15 516.18,49.15 516.85,49.15 517.52,49.15 518.19,49.15 518.86,49.15 519.53,49.15 520.20,49.15 520.87,49.15 521.54,49.15 522.21,49.15 522.88,49.15 523.55,49.15 524.22,49.15 524.89,49.15 525.56,49.15 526.23,49.15 526.90,49.15 527.57,49.15 528.24,49.15 528.91,49.15 529.58,49.15 530.25,49.15 530.92,49.15 531.59,49.15 532.26,49.15 532.93,49.15 533.60,49.15 534.27,49.15 534.94,49.15 535.61,49.15 536.28,49.15 536.95,49.15 537.62,49.15 538.29,49.15 538.96,49.15 539.63,49.15 540.30,49.15 540.97,49.15 541.64,49.15 542.31,49.15 542.98,49.15 543.65,49.15 544.32,49.15 544.99,49.15 545.66,49.15 546.33,49.15 547.00,49.15" fill="none" stroke="#00c000" stroke-width="1.45"/>
<polyline points="466.60,49.35 467.27,49.37 467.94,49.40 468.61,49.42 469.28,49.45 469.95,49.48 470.62,49.52 471.29,49.56 471.96,49.60 472.63,49.64 473.30,49.70 473.97,49.75 474.64,49.81 475.31,49.88 475.98,49.96 476.65,50.04 477.32,50.13 477.99,50.23 478.66,50.35 479.33,50.47 480.00,50.60 480.67,50.75 481.34,50.91 482.01,51.09 482.68,51.29 483.35,51.50 484.02,51.74 484.69,51.99 485.36,52.27 486.03,52.58 486.70,52.91 487.37,53.28 488.04,53.67 488.71,54.10 489.38,54.57 490.05,55.07 490.72,55.62 491.39,56.21 492.06,56.84 492.73,57.52 493.40,58.25 494.07,59.02 494.74,59.85 495.41,60.72 496.08,61.65 496.75,62.63 497.42,63.65 498.09,64.72 498.76,65.84 499.43,67.00 500.10,68.20 500.77,69.43 501.44,70.69 502.11,71.97 502.78,73.27 503.45,74.58 504.12,75.89 504.79,77.21 505.46,78.51 506.13,79.80 506.80,81.07 507.47,82.32 508.14,83.53 508.81,84.70 509.48,85.84 510.15,86.93 510.82,87.98 511.49,88.98 512.16,89.93 512.83,90.82 513.50,91.67 514.17,92.47 514.84,93.22 515.51,93.92 516.18,94.57 516.85,95.18 517.52,95.74 518.19,96.26 518.86,96.75 519.53,97.19 520.20,97.60 520.87,97.98 521.54,98.33 522.21,98.65 522.88,98.94 523.55,99.20 524.22,99.45 524.89,99.67 525.56,99.88 526.23,100.06 526.90,100.23 527.57,100.38 528.24,100.52 528.91,100.65 529.58,100.77 530.25,100.87 530.92,100.97 531.59,101.06 532.26,101.13 532.93,101.21 533.60,101.27 534.27,101.33 534.94,101.38 535.61,101.43 536.28,101.48 536.95,101.52 537.62,101.55 538.29,101.59 538.96,101.62 539.63,101.64 540.30,101.67 540.97,101.69 541.64,101.71 542.31,101.73 542.98,101.74 543.65,101.76 544.32,101.77 544.99,101.78 545.66,101.79 546.33,101.80 547.00,101.81" fill="none" stroke="#808080" stroke-width="1.45"/>
<polyline points="466.60,50.35 467.27,50.44 467.94,50.54 468.61,50.65 469.28,50.77 469.95,50.89 470.62,51.03 471.29,51.17 471.96,51.32 472.63,51.49 473.30,51.67 473.97,51.86 474.64,52.06 475.31,52.28 475.98,52.51 476.65,52.76 477.32,53.03 477.99,53.32 478.66,53.62 479.33,53.94 480.00,54.29 480.67,54.66 481.34,55.05 482.01,55.46 482.68,55.90 483.35,56.36 484.02,56.86 484.69,57.37 485.36,57.92 486.03,58.50 486.70,59.10 487.37,59.74 488.04,60.40 488.71,61.10 489.38,61.82 490.05,62.57 490.72,63.36 491.39,64.17 492.06,65.00 492.73,65.87 493.40,66.76 494.07,67.67 494.74,68.60 495.41,69.55 496.08,70.52 496.75,71.50 497.42,72.50 498.09,73.50 498.76,74.51 499.43,75.52 500.10,76.53 500.77,77.54 501.44,78.54 502.11,79.54 502.78,80.52 503.45,81.49 504.12,82.44 504.79,83.37 505.46,84.29 506.13,85.17 506.80,86.04 507.47,86.88 508.14,87.69 508.81,88.47 509.48,89.22 510.15,89.95 510.82,90.64 511.49,91.31 512.16,91.94 512.83,92.55 513.50,93.12 514.17,93.67 514.84,94.19 515.51,94.68 516.18,95.15 516.85,95.59 517.52,96.00 518.19,96.39 518.86,96.76 519.53,97.10 520.20,97.43 520.87,97.73 521.54,98.02 522.21,98.28 522.88,98.53 523.55,98.77 524.22,98.99 524.89,99.19 525.56,99.38 526.23,99.56 526.90,99.73 527.57,99.88 528.24,100.02 528.91,100.16 529.58,100.28 530.25,100.40 530.92,100.51 531.59,100.61 532.26,100.70 532.93,100.79 533.60,100.87 534.27,100.94 534.94,101.01 535.61,101.08 536.28,101.14 536.95,101.19 537.62,101.24 538.29,101.29 538.96,101.34 539.63,101.38 540.30,101.42 540.97,101.45 541.64,101.48 542.31,101.51 542.98,101.54 543.65,101.57 544.32,101.59 544.99,101.62 545.66,101.64 546.33,101.66 547.00,101.67" fill="none" stroke="#ff7f00" stroke-width="1.45"/>
<polyline points="466.60,49.26 467.27,49.27 467.94,49.28 468.61,49.29 469.28,49.31 469.95,49.33 470.62,49.35 471.29,49.37 471.96,49.39 472.63,49.42 473.30,49.44 473.97,49.48 474.64,49.51 475.31,49.55 475.98,49.60 476.65,49.64 477.32,49.70 477.99,49.76 478.66,49.82 479.33,49.89 480.00,49.97 480.67,50.06 481.34,50.16 482.01,50.27 482.68,50.39 483.35,50.52 484.02,50.66 484.69,50.82 485.36,51.00 486.03,51.19 486.70,51.41 487.37,51.64 488.04,51.90 488.71,52.18 489.38,52.49 490.05,52.83 490.72,53.20 491.39,53.61 492.06,54.05 492.73,54.53 493.40,55.05 494.07,55.61 494.74,56.22 495.41,56.88 496.08,57.59 496.75,58.35 497.42,59.17 498.09,60.04 498.76,60.96 499.43,61.93 500.10,62.96 500.77,64.05 501.44,65.18 502.11,66.36 502.78,67.58 503.45,68.84 504.12,70.14 504.79,71.46 505.46,72.80 506.13,74.16 506.80,75.53 507.47,76.89 508.14,78.25 508.81,79.59 509.48,80.91 510.15,82.21 510.82,83.47 511.49,84.69 512.16,85.87 512.83,87.00 513.50,88.09 514.17,89.12 514.84,90.09 515.51,91.01 516.18,91.88 516.85,92.70 517.52,93.46 518.19,94.17 518.86,94.83 519.53,95.44 520.20,96.00 520.87,96.52 521.54,97.00 522.21,97.44 522.88,97.85 523.55,98.22 524.22,98.56 524.89,98.87 525.56,99.15 526.23,99.41 526.90,99.64 527.57,99.86 528.24,100.05 528.91,100.23 529.58,100.39 530.25,100.53 530.92,100.66 531.59,100.78 532.26,100.89 532.93,100.99 533.60,101.08 534.27,101.16 534.94,101.23 535.61,101.29 536.28,101.35 536.95,101.41 537.62,101.45 538.29,101.50 538.96,101.54 539.63,101.57 540.30,101.61 540.97,101.63 541.64,101.66 542.31,101.68 542.98,101.70 543.65,101.72 544.32,101.74 544.99,101.76 545.66,101.77 546.33,101.78 547.00,101.79" fill="none" stroke="#0000ff" stroke-width="1.45"/>
<path d="M464.30,52.77L468.90,52.77L466.60,57.14Z" fill="#00c000"/>
<path d="M484.40,52.24L489.00,52.24L486.70,56.61Z" fill="#00c000"/>
<path d="M506.80,49.68V56.01M504.50,49.68H509.10M504.50,56.01H509.10" stroke="#00c000" stroke-width="1" fill="none"/>
<path d="M504.50,50.66L509.10,50.66L506.80,55.03Z" fill="#00c000"/>
<path d="M526.90,48.10V53.37M524.60,48.10H529.20M524.60,53.37H529.20" stroke="#00c000" stroke-width="1" fill="none"/>
<path d="M524.60,48.55L529.20,48.55L526.90,52.92Z" fill="#00c000"/>
<path d="M547.00,36.49V49.15M544.70,36.49H549.30M544.70,49.15H549.30" stroke="#00c000" stroke-width="1" fill="none"/>
<path d="M544.70,40.64L549.30,40.64L547.00,45.01Z" fill="#00c000"/>
<rect x="464.30" y="48.96" width="4.60" height="4.60" fill="#ff7f00"/>
<path d="M486.70,59.70V68.14M484.40,59.70H489.00M484.40,68.14H489.00" stroke="#ff7f00" stroke-width="1" fill="none"/>
<rect x="484.40" y="61.62" width="4.60" height="4.60" fill="#ff7f00"/>
<rect x="504.50" y="83.78" width="4.60" height="4.60" fill="#ff7f00"/>
<rect x="524.60" y="98.02" width="4.60" height="4.60" fill="#ff7f00"/>
<rect x="544.70" y="99.07" width="4.60" height="4.60" fill="#ff7f00"/>
<path d="M466.60,35.96V44.40M464.30,35.96H468.90M464.30,44.40H468.90" stroke="#0000ff" stroke-width="1" fill="none"/>
<circle cx="466.60" cy="40.18" r="2.30" fill="#0000ff"/>
<path d="M486.70,47.04V57.59M484.40,47.04H489.00M484.40,57.59H489.00" stroke="#0000ff" stroke-width="1" fill="none"/>
<circle cx="486.70" cy="52.32" r="2.30" fill="#0000ff"/>
<path d="M506.80,75.00V80.27M504.50,75.00H509.10M504.50,80.27H509.10" stroke="#0000ff" stroke-width="1" fill="none"/>
<circle cx="506.80" cy="77.64" r="2.30" fill="#0000ff"/>
<circle cx="526.90" cy="99.79" r="2.30" fill="#0000ff"/>
<circle cx="547.00" cy="101.37" r="2.30" fill="#0000ff"/>
</g>
<g>
<text transform="translate(636.80,14.70) skewX(0.5)" text-anchor="middle" font-size="9.5" stroke="#111" stroke-width="0.12">AGP-R17</text>
<path d="M590.50,21.80V101.90H685.10" stroke="#000" stroke-width="1.8" fill="none"/>
<path d="M581.70,101.90H590.50" stroke="#000" stroke-width="1.8"/>
<text transform="translate(579.90,105.50) skewX(0.5)" text-anchor="end" font-size="9.8" stroke="#111" stroke-width="0.12">0</text>
<path d="M581.70,75.53H590.50" stroke="#000" stroke-width="1.8"/>
<text transform="translate(579.90,79.12) skewX(0.5)" text-anchor="end" font-size="9.8" stroke="#111" stroke-width="0.12">50</text>
<path d="M581.70,49.15H590.50" stroke="#000" stroke-width="1.8"/>
<text transform="translate(579.90,52.75) skewX(0.5)" text-anchor="end" font-size="9.8" stroke="#111" stroke-width="0.12">100</text>
<path d="M581.70,22.78H590.50" stroke="#000" stroke-width="1.8"/>
<text transform="translate(579.90,26.38) skewX(0.5)" text-anchor="end" font-size="9.8" stroke="#111" stroke-width="0.12">150</text>
<path d="M596.40,101.90V111.50" stroke="#000" stroke-width="1.8"/>
<text transform="translate(596.40,122.40) skewX(0.5)" text-anchor="middle" font-size="9.8" stroke="#111" stroke-width="0.12">10<tspan font-size="6.4" dx="0.5" dy="-3.2" stroke-width="0">-2</tspan></text>
<path d="M616.50,101.90V111.50" stroke="#000" stroke-width="1.8"/>
<text transform="translate(616.50,122.40) skewX(0.5)" text-anchor="middle" font-size="9.8" stroke="#111" stroke-width="0.12">10<tspan font-size="6.4" dx="0.5" dy="-3.2" stroke-width="0">-1</tspan></text>
<path d="M636.60,101.90V111.50" stroke="#000" stroke-width="1.8"/>
<text transform="translate(636.60,122.40) skewX(0.5)" text-anchor="middle" font-size="9.8" stroke="#111" stroke-width="0.12">10<tspan font-size="6.4" dx="0.5" dy="-3.2" stroke-width="0">0</tspan></text>
<path d="M656.70,101.90V111.50" stroke="#000" stroke-width="1.8"/>
<text transform="translate(656.70,122.40) skewX(0.5)" text-anchor="middle" font-size="9.8" stroke="#111" stroke-width="0.12">10<tspan font-size="6.4" dx="0.5" dy="-3.2" stroke-width="0">1</tspan></text>
<path d="M676.80,101.90V111.50" stroke="#000" stroke-width="1.8"/>
<text transform="translate(676.80,122.40) skewX(0.5)" text-anchor="middle" font-size="9.8" stroke="#111" stroke-width="0.12">10<tspan font-size="6.4" dx="0.5" dy="-3.2" stroke-width="0">2</tspan></text>
<circle cx="596.70" cy="75.73" r="1.15" fill="#000"/>
<circle cx="602.74" cy="75.73" r="1.15" fill="#000"/>
<circle cx="608.78" cy="75.73" r="1.15" fill="#000"/>
<circle cx="614.82" cy="75.73" r="1.15" fill="#000"/>
<circle cx="620.86" cy="75.73" r="1.15" fill="#000"/>
<circle cx="626.90" cy="75.73" r="1.15" fill="#000"/>
<circle cx="632.94" cy="75.73" r="1.15" fill="#000"/>
<circle cx="638.98" cy="75.73" r="1.15" fill="#000"/>
<circle cx="645.02" cy="75.73" r="1.15" fill="#000"/>
<circle cx="651.06" cy="75.73" r="1.15" fill="#000"/>
<circle cx="657.10" cy="75.73" r="1.15" fill="#000"/>
<circle cx="663.14" cy="75.73" r="1.15" fill="#000"/>
<circle cx="669.18" cy="75.73" r="1.15" fill="#000"/>
<circle cx="675.22" cy="75.73" r="1.15" fill="#000"/>
<circle cx="681.26" cy="75.73" r="1.15" fill="#000"/>
<polyline points="596.40,49.15 597.07,49.15 597.74,49.15 598.41,49.15 599.08,49.15 599.75,49.15 600.42,49.15 601.09,49.15 601.76,49.15 602.43,49.15 603.10,49.15 603.77,49.15 604.44,49.15 605.11,49.15 605.78,49.15 606.45,49.15 607.12,49.15 607.79,49.15 608.46,49.15 609.13,49.15 609.80,49.15 610.47,49.15 611.14,49.15 611.81,49.15 612.48,49.15 613.15,49.15 613.82,49.15 614.49,49.15 615.16,49.15 615.83,49.15 616.50,49.15 617.17,49.15 617.84,49.15 618.51,49.15 619.18,49.15 619.85,49.15 620.52,49.15 621.19,49.15 621.86,49.15 622.53,49.15 623.20,49.15 623.87,49.15 624.54,49.15 625.21,49.15 625.88,49.15 626.55,49.15 627.22,49.15 627.89,49.15 628.56,49.15 629.23,49.15 629.90,49.15 630.57,49.15 631.24,49.15 631.91,49.15 632.58,49.15 633.25,49.15 633.92,49.15 634.59,49.15 635.26,49.15 635.93,49.15 636.60,49.15 637.27,49.15 637.94,49.15 638.61,49.15 639.28,49.15 639.95,49.15 640.62,49.15 641.29,49.15 641.96,49.15 642.63,49.15 643.30,49.15 643.97,49.15 644.64,49.15 645.31,49.15 645.98,49.15 646.65,49.15 647.32,49.15 647.99,49.15 648.66,49.15 649.33,49.15 650.00,49.15 650.67,49.15 651.34,49.15 652.01,49.15 652.68,49.15 653.35,49.15 654.02,49.15 654.69,49.15 655.36,49.15 656.03,49.15 656.70,49.15 657.37,49.15 658.04,49.15 658.71,49.15 659.38,49.15 660.05,49.15 660.72,49.15 661.39,49.15 662.06,49.15 662.73,49.15 663.40,49.15 664.07,49.15 664.74,49.15 665.41,49.15 666.08,49.15 666.75,49.15 667.42,49.15 668.09,49.15 668.76,49.15 669.43,49.15 670.10,49.15 670.77,49.15 671.44,49.15 672.11,49.15 672.78,49.15 673.45,49.15 674.12,49.15 674.79,49.15 675.46,49.15 676.13,49.15 676.80,49.15" fill="none" stroke="#00c000" stroke-width="1.45"/>
<polyline points="596.40,49.15 597.07,49.15 597.74,49.15 598.41,49.15 599.08,49.15 599.75,49.15 600.42,49.15 601.09,49.15 601.76,49.16 602.43,49.16 603.10,49.16 603.77,49.16 604.44,49.16 605.11,49.16 605.78,49.16 606.45,49.17 607.12,49.17 607.79,49.17 608.46,49.18 609.13,49.18 609.80,49.19 610.47,49.20 611.14,49.21 611.81,49.22 612.48,49.23 613.15,49.25 613.82,49.26 614.49,49.28 615.16,49.31 615.83,49.34 616.50,49.37 617.17,49.41 617.84,49.46 618.51,49.52 619.18,49.58 619.85,49.66 620.52,49.76 621.19,49.87 621.86,50.00 622.53,50.15 623.20,50.33 623.87,50.54 624.54,50.79 625.21,51.08 625.88,51.42 626.55,51.81 627.22,52.27 627.89,52.81 628.56,53.43 629.23,54.14 629.90,54.96 630.57,55.89 631.24,56.95 631.91,58.14 632.58,59.47 633.25,60.94 633.92,62.56 634.59,64.31 635.26,66.20 635.93,68.21 636.60,70.31 637.27,72.48 637.94,74.69 638.61,76.91 639.28,79.12 639.95,81.28 640.62,83.35 641.29,85.33 641.96,87.19 642.63,88.91 643.30,90.49 643.97,91.93 644.64,93.22 645.31,94.38 645.98,95.40 646.65,96.31 647.32,97.10 647.99,97.78 648.66,98.38 649.33,98.90 650.00,99.34 650.67,99.72 651.34,100.05 652.01,100.33 652.68,100.57 653.35,100.77 654.02,100.94 654.69,101.09 655.36,101.21 656.03,101.32 656.70,101.41 657.37,101.48 658.04,101.55 658.71,101.60 659.38,101.65 660.05,101.69 660.72,101.72 661.39,101.75 662.06,101.77 662.73,101.79 663.40,101.81 664.07,101.82 664.74,101.83 665.41,101.84 666.08,101.85 666.75,101.86 667.42,101.87 668.09,101.87 668.76,101.88 669.43,101.88 670.10,101.88 670.77,101.89 671.44,101.89 672.11,101.89 672.78,101.89 673.45,101.89 674.12,101.89 674.79,101.89 675.46,101.90 676.13,101.90 676.80,101.90" fill="none" stroke="#808080" stroke-width="1.45"/>
<polyline points="596.40,49.80 597.07,49.85 597.74,49.91 598.41,49.97 599.08,50.03 599.75,50.10 600.42,50.17 601.09,50.25 601.76,50.34 602.43,50.43 603.10,50.53 603.77,50.64 604.44,50.76 605.11,50.88 605.78,51.01 606.45,51.16 607.12,51.31 607.79,51.47 608.46,51.65 609.13,51.84 609.80,52.04 610.47,52.26 611.14,52.49 611.81,52.74 612.48,53.01 613.15,53.29 613.82,53.59 614.49,53.91 615.16,54.26 615.83,54.62 616.50,55.01 617.17,55.42 617.84,55.86 618.51,56.32 619.18,56.81 619.85,57.33 620.52,57.87 621.19,58.45 621.86,59.05 622.53,59.68 623.20,60.34 623.87,61.03 624.54,61.75 625.21,62.51 625.88,63.29 626.55,64.09 627.22,64.93 627.89,65.79 628.56,66.68 629.23,67.59 629.90,68.52 630.57,69.47 631.24,70.43 631.91,71.42 632.58,72.41 633.25,73.41 633.92,74.42 634.59,75.43 635.26,76.44 635.93,77.45 636.60,78.46 637.27,79.45 637.94,80.43 638.61,81.40 639.28,82.36 639.95,83.29 640.62,84.21 641.29,85.10 641.96,85.96 642.63,86.80 643.30,87.62 643.97,88.40 644.64,89.16 645.31,89.88 645.98,90.58 646.65,91.25 647.32,91.89 647.99,92.49 648.66,93.07 649.33,93.62 650.00,94.14 650.67,94.64 651.34,95.11 652.01,95.55 652.68,95.96 653.35,96.36 654.02,96.73 654.69,97.07 655.36,97.40 656.03,97.71 656.70,97.99 657.37,98.26 658.04,98.51 658.71,98.75 659.38,98.97 660.05,99.17 660.72,99.37 661.39,99.54 662.06,99.71 662.73,99.87 663.40,100.01 664.07,100.15 664.74,100.27 665.41,100.39 666.08,100.50 666.75,100.60 667.42,100.69 668.09,100.78 668.76,100.86 669.43,100.94 670.10,101.01 670.77,101.07 671.44,101.13 672.11,101.19 672.78,101.24 673.45,101.29 674.12,101.33 674.79,101.37 675.46,101.41 676.13,101.45 676.80,101.48" fill="none" stroke="#ff7f00" stroke-width="1.45"/>
<polyline points="596.40,49.16 597.07,49.16 597.74,49.16 598.41,49.16 599.08,49.16 599.75,49.17 600.42,49.17 601.09,49.17 601.76,49.17 602.43,49.18 603.10,49.18 603.77,49.19 604.44,49.19 605.11,49.20 605.78,49.20 606.45,49.21 607.12,49.22 607.79,49.23 608.46,49.25 609.13,49.26 609.80,49.28 610.47,49.29 611.14,49.32 611.81,49.34 612.48,49.37 613.15,49.40 613.82,49.44 614.49,49.48 615.16,49.53 615.83,49.58 616.50,49.65 617.17,49.72 617.84,49.80 618.51,49.90 619.18,50.01 619.85,50.13 620.52,50.27 621.19,50.43 621.86,50.62 622.53,50.83 623.20,51.07 623.87,51.34 624.54,51.65 625.21,52.00 625.88,52.40 626.55,52.85 627.22,53.35 627.89,53.92 628.56,54.55 629.23,55.26 629.90,56.04 630.57,56.91 631.24,57.88 631.91,58.93 632.58,60.08 633.25,61.32 633.92,62.66 634.59,64.10 635.26,65.62 635.93,67.23 636.60,68.90 637.27,70.63 637.94,72.41 638.61,74.22 639.28,76.04 639.95,77.86 640.62,79.65 641.29,81.41 641.96,83.11 642.63,84.75 643.30,86.31 643.97,87.78 644.64,89.16 645.31,90.45 645.98,91.64 646.65,92.73 647.32,93.73 647.99,94.64 648.66,95.46 649.33,96.20 650.00,96.87 650.67,97.46 651.34,97.99 652.01,98.47 652.68,98.88 653.35,99.25 654.02,99.58 654.69,99.87 655.36,100.12 656.03,100.34 656.70,100.54 657.37,100.71 658.04,100.86 658.71,100.99 659.38,101.11 660.05,101.21 660.72,101.30 661.39,101.37 662.06,101.44 662.73,101.50 663.40,101.55 664.07,101.60 664.74,101.64 665.41,101.67 666.08,101.70 666.75,101.72 667.42,101.75 668.09,101.77 668.76,101.78 669.43,101.80 670.10,101.81 670.77,101.82 671.44,101.83 672.11,101.84 672.78,101.85 673.45,101.86 674.12,101.86 674.79,101.87 675.46,101.87 676.13,101.87 676.80,101.88" fill="none" stroke="#0000ff" stroke-width="1.45"/>
<path d="M594.10,46.97L598.70,46.97L596.40,51.34Z" fill="#00c000"/>
<path d="M614.20,46.97L618.80,46.97L616.50,51.34Z" fill="#00c000"/>
<path d="M634.30,45.91L638.90,45.91L636.60,50.28Z" fill="#00c000"/>
<path d="M656.70,47.57V53.90M654.40,47.57H659.00M654.40,53.90H659.00" stroke="#00c000" stroke-width="1" fill="none"/>
<path d="M654.40,48.55L659.00,48.55L656.70,52.92Z" fill="#00c000"/>
<path d="M674.50,46.44L679.10,46.44L676.80,50.81Z" fill="#00c000"/>
<path d="M596.40,41.24V52.84M594.10,41.24H598.70M594.10,52.84H598.70" stroke="#a0a0a0" stroke-width="1" fill="none"/>
<path d="M594.10,49.23L598.70,49.23L596.40,44.86Z" fill="#a0a0a0"/>
<path d="M596.40,45.99V53.37M594.10,45.99H598.70M594.10,53.37H598.70" stroke="#ff7f00" stroke-width="1" fill="none"/>
<rect x="594.10" y="47.38" width="4.60" height="4.60" fill="#ff7f00"/>
<path d="M616.50,52.84V59.17M614.20,52.84H618.80M614.20,59.17H618.80" stroke="#ff7f00" stroke-width="1" fill="none"/>
<rect x="614.20" y="53.71" width="4.60" height="4.60" fill="#ff7f00"/>
<rect x="634.30" y="73.75" width="4.60" height="4.60" fill="#ff7f00"/>
<rect x="654.40" y="97.49" width="4.60" height="4.60" fill="#ff7f00"/>
<rect x="674.50" y="99.07" width="4.60" height="4.60" fill="#ff7f00"/>
<path d="M596.40,41.24V50.73M594.10,41.24H598.70M594.10,50.73H598.70" stroke="#0000ff" stroke-width="1" fill="none"/>
<circle cx="596.40" cy="45.99" r="2.30" fill="#0000ff"/>
<path d="M616.50,43.35V57.06M614.20,43.35H618.80M614.20,57.06H618.80" stroke="#0000ff" stroke-width="1" fill="none"/>
<circle cx="616.50" cy="50.21" r="2.30" fill="#0000ff"/>
<path d="M636.60,62.87V74.47M634.30,62.87H638.90M634.30,74.47H638.90" stroke="#0000ff" stroke-width="1" fill="none"/>
<circle cx="636.60" cy="68.67" r="2.30" fill="#0000ff"/>
<circle cx="656.70" cy="99.26" r="2.30" fill="#0000ff"/>
<circle cx="676.80" cy="101.37" r="2.30" fill="#0000ff"/>
</g>
<g>
<text transform="translate(117.40,145.10) skewX(0.5)" text-anchor="middle" font-size="9.5" stroke="#111" stroke-width="0.12">AGP-R4</text>
<path d="M71.10,152.20V232.30H165.70" stroke="#000" stroke-width="1.8" fill="none"/>
<path d="M62.30,232.30H71.10" stroke="#000" stroke-width="1.8"/>
<text transform="translate(60.50,235.90) skewX(0.5)" text-anchor="end" font-size="9.8" stroke="#111" stroke-width="0.12">0</text>
<path d="M62.30,205.93H71.10" stroke="#000" stroke-width="1.8"/>
<text transform="translate(60.50,209.53) skewX(0.5)" text-anchor="end" font-size="9.8" stroke="#111" stroke-width="0.12">50</text>
<path d="M62.30,179.55H71.10" stroke="#000" stroke-width="1.8"/>
<text transform="translate(60.50,183.15) skewX(0.5)" text-anchor="end" font-size="9.8" stroke="#111" stroke-width="0.12">100</text>
<path d="M62.30,153.18H71.10" stroke="#000" stroke-width="1.8"/>
<text transform="translate(60.50,156.78) skewX(0.5)" text-anchor="end" font-size="9.8" stroke="#111" stroke-width="0.12">150</text>
<path d="M77.00,232.30V241.90" stroke="#000" stroke-width="1.8"/>
<text transform="translate(77.00,252.80) skewX(0.5)" text-anchor="middle" font-size="9.8" stroke="#111" stroke-width="0.12">10<tspan font-size="6.4" dx="0.5" dy="-3.2" stroke-width="0">-2</tspan></text>
<path d="M97.10,232.30V241.90" stroke="#000" stroke-width="1.8"/>
<text transform="translate(97.10,252.80) skewX(0.5)" text-anchor="middle" font-size="9.8" stroke="#111" stroke-width="0.12">10<tspan font-size="6.4" dx="0.5" dy="-3.2" stroke-width="0">-1</tspan></text>
<path d="M117.20,232.30V241.90" stroke="#000" stroke-width="1.8"/>
<text transform="translate(117.20,252.80) skewX(0.5)" text-anchor="middle" font-size="9.8" stroke="#111" stroke-width="0.12">10<tspan font-size="6.4" dx="0.5" dy="-3.2" stroke-width="0">0</tspan></text>
<path d="M137.30,232.30V241.90" stroke="#000" stroke-width="1.8"/>
<text transform="translate(137.30,252.80) skewX(0.5)" text-anchor="middle" font-size="9.8" stroke="#111" stroke-width="0.12">10<tspan font-size="6.4" dx="0.5" dy="-3.2" stroke-width="0">1</tspan></text>
<path d="M157.40,232.30V241.90" stroke="#000" stroke-width="1.8"/>
<text transform="translate(157.40,252.80) skewX(0.5)" text-anchor="middle" font-size="9.8" stroke="#111" stroke-width="0.12">10<tspan font-size="6.4" dx="0.5" dy="-3.2" stroke-width="0">2</tspan></text>
<circle cx="77.30" cy="206.12" r="1.15" fill="#000"/>
<circle cx="83.34" cy="206.12" r="1.15" fill="#000"/>
<circle cx="89.38" cy="206.12" r="1.15" fill="#000"/>
<circle cx="95.42" cy="206.12" r="1.15" fill="#000"/>
<circle cx="101.46" cy="206.12" r="1.15" fill="#000"/>
<circle cx="107.50" cy="206.12" r="1.15" fill="#000"/>
<circle cx="113.54" cy="206.12" r="1.15" fill="#000"/>
<circle cx="119.58" cy="206.12" r="1.15" fill="#000"/>
<circle cx="125.62" cy="206.12" r="1.15" fill="#000"/>
<circle cx="131.66" cy="206.12" r="1.15" fill="#000"/>
<circle cx="137.70" cy="206.12" r="1.15" fill="#000"/>
<circle cx="143.74" cy="206.12" r="1.15" fill="#000"/>
<circle cx="149.78" cy="206.12" r="1.15" fill="#000"/>
<circle cx="155.82" cy="206.12" r="1.15" fill="#000"/>
<circle cx="161.86" cy="206.12" r="1.15" fill="#000"/>
<polyline points="77.00,179.55 77.67,179.55 78.34,179.55 79.01,179.55 79.68,179.55 80.35,179.55 81.02,179.55 81.69,179.55 82.36,179.55 83.03,179.55 83.70,179.55 84.37,179.55 85.04,179.55 85.71,179.55 86.38,179.55 87.05,179.55 87.72,179.55 88.39,179.55 89.06,179.55 89.73,179.55 90.40,179.55 91.07,179.55 91.74,179.55 92.41,179.55 93.08,179.55 93.75,179.55 94.42,179.55 95.09,179.55 95.76,179.55 96.43,179.55 97.10,179.55 97.77,179.55 98.44,179.55 99.11,179.55 99.78,179.55 100.45,179.55 101.12,179.55 101.79,179.55 102.46,179.55 103.13,179.55 103.80,179.55 104.47,179.55 105.14,179.55 105.81,179.55 106.48,179.55 107.15,179.55 107.82,179.55 108.49,179.55 109.16,179.55 109.83,179.55 110.50,179.55 111.17,179.55 111.84,179.55 112.51,179.55 113.18,179.55 113.85,179.55 114.52,179.55 115.19,179.55 115.86,179.55 116.53,179.55 117.20,179.55 117.87,179.55 118.54,179.55 119.21,179.55 119.88,179.55 120.55,179.55 121.22,179.55 121.89,179.55 122.56,179.55 123.23,179.55 123.90,179.55 124.57,179.55 125.24,179.55 125.91,179.55 126.58,179.55 127.25,179.55 127.92,179.55 128.59,179.55 129.26,179.55 129.93,179.55 130.60,179.55 131.27,179.55 131.94,179.55 132.61,179.55 133.28,179.55 133.95,179.55 134.62,179.55 135.29,179.55 135.96,179.55 136.63,179.55 137.30,179.55 137.97,179.55 138.64,179.55 139.31,179.55 139.98,179.55 140.65,179.55 141.32,179.55 141.99,179.55 142.66,179.55 143.33,179.55 144.00,179.55 144.67,179.55 145.34,179.55 146.01,179.55 146.68,179.55 147.35,179.55 148.02,179.55 148.69,179.55 149.36,179.55 150.03,179.55 150.70,179.55 151.37,179.55 152.04,179.55 152.71,179.55 153.38,179.55 154.05,179.55 154.72,179.55 155.39,179.55 156.06,179.55 156.73,179.55 157.40,179.55" fill="none" stroke="#00c000" stroke-width="1.45"/>
<polyline points="77.00,179.55 77.67,179.55 78.34,179.55 79.01,179.55 79.68,179.55 80.35,179.55 81.02,179.55 81.69,179.55 82.36,179.55 83.03,179.55 83.70,179.55 84.37,179.55 85.04,179.55 85.71,179.55 86.38,179.55 87.05,179.55 87.72,179.55 88.39,179.55 89.06,179.55 89.73,179.55 90.40,179.55 91.07,179.55 91.74,179.55 92.41,179.55 93.08,179.55 93.75,179.55 94.42,179.55 95.09,179.55 95.76,179.55 96.43,179.55 97.10,179.55 97.77,179.55 98.44,179.55 99.11,179.55 99.78,179.55 100.45,179.55 101.12,179.55 101.79,179.55 102.46,179.55 103.13,179.55 103.80,179.55 104.47,179.55 105.14,179.55 105.81,179.55 106.48,179.55 107.15,179.55 107.82,179.55 108.49,179.55 109.16,179.55 109.83,179.55 110.50,179.55 111.17,179.55 111.84,179.55 112.51,179.55 113.18,179.55 113.85,179.55 114.52,179.55 115.19,179.55 115.86,179.55 116.53,179.55 117.20,179.55 117.87,179.55 118.54,179.55 119.21,179.55 119.88,179.55 120.55,179.55 121.22,179.55 121.89,179.55 122.56,179.55 123.23,179.55 123.90,179.55 124.57,179.55 125.24,179.55 125.91,179.55 126.58,179.55 127.25,179.55 127.92,179.55 128.59,179.55 129.26,179.55 129.93,179.55 130.60,179.55 131.27,179.55 131.94,179.55 132.61,179.55 133.28,179.55 133.95,179.55 134.62,179.55 135.29,179.55 135.96,179.55 136.63,179.55 137.30,179.55 137.97,179.55 138.64,179.55 139.31,179.55 139.98,179.55 140.65,179.55 141.32,179.55 141.99,179.55 142.66,179.55 143.33,179.55 144.00,179.55 144.67,179.55 145.34,179.55 146.01,179.55 146.68,179.55 147.35,179.55 148.02,179.55 148.69,179.55 149.36,179.55 150.03,179.55 150.70,179.55 151.37,179.55 152.04,179.55 152.71,179.55 153.38,179.55 154.05,179.55 154.72,179.55 155.39,179.55 156.06,179.55 156.73,179.55 157.40,179.55" fill="none" stroke="#808080" stroke-width="1.45"/>
<polyline points="77.00,184.99 77.67,185.37 78.34,185.78 79.01,186.22 79.68,186.68 80.35,187.16 81.02,187.68 81.69,188.22 82.36,188.79 83.03,189.39 83.70,190.02 84.37,190.68 85.04,191.37 85.71,192.09 86.38,192.83 87.05,193.61 87.72,194.42 88.39,195.25 89.06,196.11 89.73,196.99 90.40,197.90 91.07,198.83 91.74,199.78 92.41,200.74 93.08,201.72 93.75,202.72 94.42,203.72 95.09,204.73 95.76,205.74 96.43,206.75 97.10,207.76 97.77,208.76 98.44,209.76 99.11,210.74 99.78,211.71 100.45,212.67 101.12,213.61 101.79,214.52 102.46,215.41 103.13,216.28 103.80,217.13 104.47,217.94 105.14,218.73 105.81,219.49 106.48,220.22 107.15,220.92 107.82,221.59 108.49,222.23 109.16,222.84 109.83,223.42 110.50,223.97 111.17,224.50 111.84,224.99 112.51,225.46 113.18,225.91 113.85,226.33 114.52,226.72 115.19,227.09 115.86,227.44 116.53,227.77 117.20,228.08 117.87,228.37 118.54,228.64 119.21,228.89 119.88,229.13 120.55,229.35 121.22,229.56 121.89,229.75 122.56,229.93 123.23,230.10 123.90,230.25 124.57,230.40 125.24,230.53 125.91,230.66 126.58,230.78 127.25,230.89 127.92,230.99 128.59,231.08 129.26,231.17 129.93,231.25 130.60,231.33 131.27,231.40 131.94,231.47 132.61,231.53 133.28,231.58 133.95,231.63 134.62,231.68 135.29,231.73 135.96,231.77 136.63,231.81 137.30,231.85 137.97,231.88 138.64,231.91 139.31,231.94 139.98,231.96 140.65,231.99 141.32,232.01 141.99,232.03 142.66,232.05 143.33,232.07 144.00,232.09 144.67,232.10 145.34,232.12 146.01,232.13 146.68,232.14 147.35,232.16 148.02,232.17 148.69,232.18 149.36,232.18 150.03,232.19 150.70,232.20 151.37,232.21 152.04,232.22 152.71,232.22 153.38,232.23 154.05,232.23 154.72,232.24 155.39,232.24 156.06,232.25 156.73,232.25 157.40,232.25" fill="none" stroke="#ff7f00" stroke-width="1.45"/>
<polyline points="77.00,184.04 77.67,184.21 78.34,184.39 79.01,184.58 79.68,184.79 80.35,185.01 81.02,185.26 81.69,185.52 82.36,185.81 83.03,186.12 83.70,186.45 84.37,186.81 85.04,187.19 85.71,187.60 86.38,188.04 87.05,188.52 87.72,189.02 88.39,189.56 89.06,190.13 89.73,190.74 90.40,191.38 91.07,192.06 91.74,192.78 92.41,193.54 93.08,194.33 93.75,195.16 94.42,196.03 95.09,196.93 95.76,197.87 96.43,198.83 97.10,199.83 97.77,200.85 98.44,201.89 99.11,202.96 99.78,204.04 100.45,205.13 101.12,206.23 101.79,207.34 102.46,208.44 103.13,209.54 103.80,210.64 104.47,211.71 105.14,212.78 105.81,213.82 106.48,214.83 107.15,215.82 107.82,216.79 108.49,217.71 109.16,218.61 109.83,219.47 110.50,220.30 111.17,221.08 111.84,221.83 112.51,222.54 113.18,223.22 113.85,223.86 114.52,224.46 115.19,225.02 115.86,225.56 116.53,226.06 117.20,226.52 117.87,226.96 118.54,227.37 119.21,227.74 119.88,228.10 120.55,228.42 121.22,228.73 121.89,229.01 122.56,229.27 123.23,229.51 123.90,229.74 124.57,229.94 125.24,230.13 125.91,230.31 126.58,230.47 127.25,230.62 127.92,230.76 128.59,230.88 129.26,231.00 129.93,231.11 130.60,231.21 131.27,231.30 131.94,231.38 132.61,231.46 133.28,231.53 133.95,231.59 134.62,231.65 135.29,231.70 135.96,231.75 136.63,231.80 137.30,231.84 137.97,231.88 138.64,231.92 139.31,231.95 139.98,231.98 140.65,232.00 141.32,232.03 141.99,232.05 142.66,232.07 143.33,232.09 144.00,232.11 144.67,232.13 145.34,232.14 146.01,232.15 146.68,232.17 147.35,232.18 148.02,232.19 148.69,232.20 149.36,232.21 150.03,232.21 150.70,232.22 151.37,232.23 152.04,232.23 152.71,232.24 153.38,232.24 154.05,232.25 154.72,232.25 155.39,232.26 156.06,232.26 156.73,232.26 157.40,232.27" fill="none" stroke="#0000ff" stroke-width="1.45"/>
<path d="M74.70,174.73L79.30,174.73L77.00,179.10Z" fill="#00c000"/>
<path d="M97.10,184.83V191.16M94.80,184.83H99.40M94.80,191.16H99.40" stroke="#00c000" stroke-width="1" fill="none"/>
<path d="M94.80,185.81L99.40,185.81L97.10,190.18Z" fill="#00c000"/>
<path d="M114.90,178.42L119.50,178.42L117.20,182.79Z" fill="#00c000"/>
<path d="M135.00,180.53L139.60,180.53L137.30,184.90Z" fill="#00c000"/>
<path d="M157.40,173.22V177.44M155.10,173.22H159.70M155.10,177.44H159.70" stroke="#00c000" stroke-width="1" fill="none"/>
<path d="M155.10,173.15L159.70,173.15L157.40,177.52Z" fill="#00c000"/>
<path d="M97.10,173.22V184.83M94.80,173.22H99.40M94.80,184.83H99.40" stroke="#a0a0a0" stroke-width="1" fill="none"/>
<path d="M94.80,181.21L99.40,181.21L97.10,176.84Z" fill="#a0a0a0"/>
<path d="M114.90,181.21L119.50,181.21L117.20,176.84Z" fill="#a0a0a0"/>
<path d="M137.30,175.86V184.30M135.00,175.86H139.60M135.00,184.30H139.60" stroke="#a0a0a0" stroke-width="1" fill="none"/>
<path d="M135.00,182.26L139.60,182.26L137.30,177.89Z" fill="#a0a0a0"/>
<path d="M157.40,180.08V186.41M155.10,180.08H159.70M155.10,186.41H159.70" stroke="#a0a0a0" stroke-width="1" fill="none"/>
<path d="M155.10,185.43L159.70,185.43L157.40,181.06Z" fill="#a0a0a0"/>
<rect x="74.70" y="184.11" width="4.60" height="4.60" fill="#ff7f00"/>
<rect x="94.80" y="207.84" width="4.60" height="4.60" fill="#ff7f00"/>
<rect x="114.90" y="225.25" width="4.60" height="4.60" fill="#ff7f00"/>
<rect x="135.00" y="227.89" width="4.60" height="4.60" fill="#ff7f00"/>
<rect x="155.10" y="227.89" width="4.60" height="4.60" fill="#ff7f00"/>
<path d="M77.00,181.13V189.57M74.70,181.13H79.30M74.70,189.57H79.30" stroke="#0000ff" stroke-width="1" fill="none"/>
<circle cx="77.00" cy="185.35" r="2.30" fill="#0000ff"/>
<path d="M97.10,199.60V203.81M94.80,199.60H99.40M94.80,203.81H99.40" stroke="#0000ff" stroke-width="1" fill="none"/>
<circle cx="97.10" cy="201.71" r="2.30" fill="#0000ff"/>
<circle cx="117.20" cy="226.50" r="2.30" fill="#0000ff"/>
<circle cx="137.30" cy="231.25" r="2.30" fill="#0000ff"/>
<circle cx="157.40" cy="231.77" r="2.30" fill="#0000ff"/>
</g>
<g>
<text transform="translate(247.40,145.10) skewX(0.5)" text-anchor="middle" font-size="9.5" stroke="#111" stroke-width="0.12">AGP-R5</text>
<path d="M201.10,152.20V232.30H295.70" stroke="#000" stroke-width="1.8" fill="none"/>
<path d="M192.30,232.30H201.10" stroke="#000" stroke-width="1.8"/>
<text transform="translate(190.50,235.90) skewX(0.5)" text-anchor="end" font-size="9.8" stroke="#111" stroke-width="0.12">0</text>
<path d="M192.30,205.93H201.10" stroke="#000" stroke-width="1.8"/>
<text transform="translate(190.50,209.53) skewX(0.5)" text-anchor="end" font-size="9.8" stroke="#111" stroke-width="0.12">50</text>
<path d="M192.30,179.55H201.10" stroke="#000" stroke-width="1.8"/>
<text transform="translate(190.50,183.15) skewX(0.5)" text-anchor="end" font-size="9.8" stroke="#111" stroke-width="0.12">100</text>
<path d="M192.30,153.18H201.10" stroke="#000" stroke-width="1.8"/>
<text transform="translate(190.50,156.78) skewX(0.5)" text-anchor="end" font-size="9.8" stroke="#111" stroke-width="0.12">150</text>
<path d="M207.00,232.30V241.90" stroke="#000" stroke-width="1.8"/>
<text transform="translate(207.00,252.80) skewX(0.5)" text-anchor="middle" font-size="9.8" stroke="#111" stroke-width="0.12">10<tspan font-size="6.4" dx="0.5" dy="-3.2" stroke-width="0">-2</tspan></text>
<path d="M227.10,232.30V241.90" stroke="#000" stroke-width="1.8"/>
<text transform="translate(227.10,252.80) skewX(0.5)" text-anchor="middle" font-size="9.8" stroke="#111" stroke-width="0.12">10<tspan font-size="6.4" dx="0.5" dy="-3.2" stroke-width="0">-1</tspan></text>
<path d="M247.20,232.30V241.90" stroke="#000" stroke-width="1.8"/>
<text transform="translate(247.20,252.80) skewX(0.5)" text-anchor="middle" font-size="9.8" stroke="#111" stroke-width="0.12">10<tspan font-size="6.4" dx="0.5" dy="-3.2" stroke-width="0">0</tspan></text>
<path d="M267.30,232.30V241.90" stroke="#000" stroke-width="1.8"/>
<text transform="translate(267.30,252.80) skewX(0.5)" text-anchor="middle" font-size="9.8" stroke="#111" stroke-width="0.12">10<tspan font-size="6.4" dx="0.5" dy="-3.2" stroke-width="0">1</tspan></text>
<path d="M287.40,232.30V241.90" stroke="#000" stroke-width="1.8"/>
<text transform="translate(287.40,252.80) skewX(0.5)" text-anchor="middle" font-size="9.8" stroke="#111" stroke-width="0.12">10<tspan font-size="6.4" dx="0.5" dy="-3.2" stroke-width="0">2</tspan></text>
<circle cx="207.30" cy="206.12" r="1.15" fill="#000"/>
<circle cx="213.34" cy="206.12" r="1.15" fill="#000"/>
<circle cx="219.38" cy="206.12" r="1.15" fill="#000"/>
<circle cx="225.42" cy="206.12" r="1.15" fill="#000"/>
<circle cx="231.46" cy="206.12" r="1.15" fill="#000"/>
<circle cx="237.50" cy="206.12" r="1.15" fill="#000"/>
<circle cx="243.54" cy="206.12" r="1.15" fill="#000"/>
<circle cx="249.58" cy="206.12" r="1.15" fill="#000"/>
<circle cx="255.62" cy="206.12" r="1.15" fill="#000"/>
<circle cx="261.66" cy="206.12" r="1.15" fill="#000"/>
<circle cx="267.70" cy="206.12" r="1.15" fill="#000"/>
<circle cx="273.74" cy="206.12" r="1.15" fill="#000"/>
<circle cx="279.78" cy="206.12" r="1.15" fill="#000"/>
<circle cx="285.82" cy="206.12" r="1.15" fill="#000"/>
<circle cx="291.86" cy="206.12" r="1.15" fill="#000"/>
<polyline points="207.00,185.05 207.67,184.98 208.34,184.90 209.01,184.82 209.68,184.74 210.35,184.65 211.02,184.55 211.69,184.45 212.36,184.35 213.03,184.24 213.70,184.12 214.37,184.00 215.04,183.87 215.71,183.74 216.38,183.61 217.05,183.47 217.72,183.32 218.39,183.18 219.06,183.03 219.73,182.88 220.40,182.73 221.07,182.58 221.74,182.43 222.41,182.28 223.08,182.13 223.75,181.98 224.42,181.83 225.09,181.69 225.76,181.55 226.43,181.42 227.10,181.29 227.77,181.16 228.44,181.04 229.11,180.92 229.78,180.81 230.45,180.71 231.12,180.61 231.79,180.51 232.46,180.42 233.13,180.34 233.80,180.26 234.47,180.19 235.14,180.12 235.81,180.05 236.48,179.99 237.15,179.94 237.82,179.88 238.49,179.84 239.16,179.79 239.83,179.75 240.50,179.71 241.17,179.68 241.84,179.64 242.51,179.61 243.18,179.59 243.85,179.56 244.52,179.54 245.19,179.52 245.86,179.50 246.53,179.48 247.20,179.46 247.87,179.45 248.54,179.43 249.21,179.42 249.88,179.41 250.55,179.40 251.22,179.39 251.89,179.38 252.56,179.37 253.23,179.36 253.90,179.36 254.57,179.35 255.24,179.35 255.91,179.34 256.58,179.34 257.25,179.33 257.92,179.33 258.59,179.32 259.26,179.32 259.93,179.32 260.60,179.31 261.27,179.31 261.94,179.31 262.61,179.31 263.28,179.31 263.95,179.30 264.62,179.30 265.29,179.30 265.96,179.30 266.63,179.30 267.30,179.30 267.97,179.30 268.64,179.30 269.31,179.29 269.98,179.29 270.65,179.29 271.32,179.29 271.99,179.29 272.66,179.29 273.33,179.29 274.00,179.29 274.67,179.29 275.34,179.29 276.01,179.29 276.68,179.29 277.35,179.29 278.02,179.29 278.69,179.29 279.36,179.29 280.03,179.29 280.70,179.29 281.37,179.29 282.04,179.29 282.71,179.29 283.38,179.29 284.05,179.29 284.72,179.29 285.39,179.29 286.06,179.29 286.73,179.29 287.40,179.29" fill="none" stroke="#00c000" stroke-width="1.45"/>
<polyline points="207.00,179.55 207.67,179.55 208.34,179.55 209.01,179.55 209.68,179.55 210.35,179.55 211.02,179.55 211.69,179.55 212.36,179.55 213.03,179.55 213.70,179.55 214.37,179.55 215.04,179.55 215.71,179.55 216.38,179.55 217.05,179.55 217.72,179.55 218.39,179.55 219.06,179.55 219.73,179.55 220.40,179.55 221.07,179.55 221.74,179.55 222.41,179.55 223.08,179.55 223.75,179.55 224.42,179.55 225.09,179.55 225.76,179.55 226.43,179.55 227.10,179.55 227.77,179.55 228.44,179.55 229.11,179.55 229.78,179.55 230.45,179.55 231.12,179.55 231.79,179.55 232.46,179.55 233.13,179.55 233.80,179.55 234.47,179.55 235.14,179.55 235.81,179.55 236.48,179.55 237.15,179.55 237.82,179.55 238.49,179.55 239.16,179.55 239.83,179.55 240.50,179.55 241.17,179.55 241.84,179.55 242.51,179.55 243.18,179.55 243.85,179.55 244.52,179.55 245.19,179.55 245.86,179.55 246.53,179.55 247.20,179.55 247.87,179.55 248.54,179.55 249.21,179.55 249.88,179.55 250.55,179.55 251.22,179.55 251.89,179.55 252.56,179.55 253.23,179.55 253.90,179.55 254.57,179.55 255.24,179.55 255.91,179.55 256.58,179.55 257.25,179.55 257.92,179.55 258.59,179.55 259.26,179.55 259.93,179.55 260.60,179.55 261.27,179.55 261.94,179.55 262.61,179.55 263.28,179.55 263.95,179.55 264.62,179.55 265.29,179.55 265.96,179.55 266.63,179.55 267.30,179.55 267.97,179.55 268.64,179.55 269.31,179.55 269.98,179.55 270.65,179.55 271.32,179.55 271.99,179.55 272.66,179.55 273.33,179.55 274.00,179.55 274.67,179.55 275.34,179.55 276.01,179.55 276.68,179.55 277.35,179.55 278.02,179.55 278.69,179.55 279.36,179.55 280.03,179.55 280.70,179.55 281.37,179.55 282.04,179.55 282.71,179.55 283.38,179.55 284.05,179.55 284.72,179.55 285.39,179.55 286.06,179.55 286.73,179.55 287.40,179.55" fill="none" stroke="#808080" stroke-width="1.45"/>
<polyline points="207.00,182.77 207.67,183.03 208.34,183.32 209.01,183.63 209.68,183.95 210.35,184.31 211.02,184.69 211.69,185.09 212.36,185.52 213.03,185.99 213.70,186.48 214.37,187.00 215.04,187.56 215.71,188.15 216.38,188.78 217.05,189.44 217.72,190.13 218.39,190.86 219.06,191.63 219.73,192.44 220.40,193.28 221.07,194.15 221.74,195.06 222.41,196.00 223.08,196.97 223.75,197.97 224.42,198.99 225.09,200.04 225.76,201.11 226.43,202.19 227.10,203.29 227.77,204.40 228.44,205.51 229.11,206.62 229.78,207.73 230.45,208.84 231.12,209.93 231.79,211.01 232.46,212.07 233.13,213.11 233.80,214.13 234.47,215.12 235.14,216.09 235.81,217.02 236.48,217.92 237.15,218.79 237.82,219.62 238.49,220.41 239.16,221.17 239.83,221.90 240.50,222.58 241.17,223.23 241.84,223.85 242.51,224.43 243.18,224.98 243.85,225.50 244.52,225.98 245.19,226.44 245.86,226.86 246.53,227.26 247.20,227.63 247.87,227.98 248.54,228.30 249.21,228.60 249.88,228.88 250.55,229.14 251.22,229.39 251.89,229.61 252.56,229.82 253.23,230.01 253.90,230.19 254.57,230.35 255.24,230.50 255.91,230.64 256.58,230.78 257.25,230.90 257.92,231.01 258.59,231.11 259.26,231.20 259.93,231.29 260.60,231.37 261.27,231.44 261.94,231.51 262.61,231.58 263.28,231.63 263.95,231.69 264.62,231.74 265.29,231.78 265.96,231.82 266.63,231.86 267.30,231.90 267.97,231.93 268.64,231.96 269.31,231.99 269.98,232.01 270.65,232.03 271.32,232.06 271.99,232.08 272.66,232.09 273.33,232.11 274.00,232.13 274.67,232.14 275.34,232.15 276.01,232.16 276.68,232.18 277.35,232.19 278.02,232.19 278.69,232.20 279.36,232.21 280.03,232.22 280.70,232.22 281.37,232.23 282.04,232.24 282.71,232.24 283.38,232.25 284.05,232.25 284.72,232.25 285.39,232.26 286.06,232.26 286.73,232.26 287.40,232.27" fill="none" stroke="#ff7f00" stroke-width="1.45"/>
<polyline points="207.00,180.96 207.67,181.09 208.34,181.24 209.01,181.39 209.68,181.56 210.35,181.75 211.02,181.95 211.69,182.17 212.36,182.41 213.03,182.67 213.70,182.95 214.37,183.26 215.04,183.59 215.71,183.95 216.38,184.33 217.05,184.75 217.72,185.20 218.39,185.68 219.06,186.20 219.73,186.75 220.40,187.34 221.07,187.97 221.74,188.64 222.41,189.36 223.08,190.12 223.75,190.92 224.42,191.76 225.09,192.64 225.76,193.57 226.43,194.54 227.10,195.55 227.77,196.59 228.44,197.67 229.11,198.78 229.78,199.92 230.45,201.08 231.12,202.27 231.79,203.47 232.46,204.67 233.13,205.89 233.80,207.10 234.47,208.31 235.14,209.51 235.81,210.69 236.48,211.86 237.15,213.00 237.82,214.11 238.49,215.19 239.16,216.24 239.83,217.25 240.50,218.22 241.17,219.15 241.84,220.04 242.51,220.88 243.18,221.69 243.85,222.45 244.52,223.16 245.19,223.84 245.86,224.47 246.53,225.07 247.20,225.62 247.87,226.14 248.54,226.62 249.21,227.07 249.88,227.49 250.55,227.88 251.22,228.24 251.89,228.57 252.56,228.88 253.23,229.16 253.90,229.42 254.57,229.66 255.24,229.88 255.91,230.09 256.58,230.27 257.25,230.45 257.92,230.60 258.59,230.75 259.26,230.88 259.93,231.00 260.60,231.12 261.27,231.22 261.94,231.31 262.61,231.40 263.28,231.47 263.95,231.55 264.62,231.61 265.29,231.67 265.96,231.73 266.63,231.78 267.30,231.82 267.97,231.86 268.64,231.90 269.31,231.94 269.98,231.97 270.65,232.00 271.32,232.02 271.99,232.05 272.66,232.07 273.33,232.09 274.00,232.11 274.67,232.13 275.34,232.14 276.01,232.15 276.68,232.17 277.35,232.18 278.02,232.19 278.69,232.20 279.36,232.21 280.03,232.22 280.70,232.22 281.37,232.23 282.04,232.24 282.71,232.24 283.38,232.25 284.05,232.25 284.72,232.26 285.39,232.26 286.06,232.26 286.73,232.27 287.40,232.27" fill="none" stroke="#0000ff" stroke-width="1.45"/>
<path d="M204.70,185.81L209.30,185.81L207.00,190.18Z" fill="#00c000"/>
<path d="M227.10,179.02V185.35M224.80,179.02H229.40M224.80,185.35H229.40" stroke="#00c000" stroke-width="1" fill="none"/>
<path d="M224.80,180.00L229.40,180.00L227.10,184.37Z" fill="#00c000"/>
<path d="M247.20,163.20V187.46M244.90,163.20H249.50M244.90,187.46H249.50" stroke="#00c000" stroke-width="1" fill="none"/>
<path d="M244.90,173.15L249.50,173.15L247.20,177.52Z" fill="#00c000"/>
<path d="M267.30,169.00V180.61M265.00,169.00H269.60M265.00,180.61H269.60" stroke="#00c000" stroke-width="1" fill="none"/>
<path d="M265.00,172.62L269.60,172.62L267.30,176.99Z" fill="#00c000"/>
<path d="M285.10,175.78L289.70,175.78L287.40,180.15Z" fill="#00c000"/>
<path d="M204.70,179.62L209.30,179.62L207.00,175.25Z" fill="#a0a0a0"/>
<path d="M227.10,174.28V178.50M224.80,174.28H229.40M224.80,178.50H229.40" stroke="#a0a0a0" stroke-width="1" fill="none"/>
<path d="M224.80,178.57L229.40,178.57L227.10,174.20Z" fill="#a0a0a0"/>
<path d="M247.20,173.75V183.24M244.90,173.75H249.50M244.90,183.24H249.50" stroke="#a0a0a0" stroke-width="1" fill="none"/>
<path d="M244.90,180.68L249.50,180.68L247.20,176.31Z" fill="#a0a0a0"/>
<path d="M267.30,175.86V180.08M265.00,175.86H269.60M265.00,180.08H269.60" stroke="#a0a0a0" stroke-width="1" fill="none"/>
<path d="M265.00,180.15L269.60,180.15L267.30,175.78Z" fill="#a0a0a0"/>
<path d="M287.40,170.58V179.02M285.10,170.58H289.70M285.10,179.02H289.70" stroke="#a0a0a0" stroke-width="1" fill="none"/>
<path d="M285.10,176.99L289.70,176.99L287.40,172.62Z" fill="#a0a0a0"/>
<rect x="204.70" y="182.53" width="4.60" height="4.60" fill="#ff7f00"/>
<path d="M227.10,200.12V206.45M224.80,200.12H229.40M224.80,206.45H229.40" stroke="#ff7f00" stroke-width="1" fill="none"/>
<rect x="224.80" y="200.99" width="4.60" height="4.60" fill="#ff7f00"/>
<rect x="244.90" y="224.72" width="4.60" height="4.60" fill="#ff7f00"/>
<rect x="265.00" y="229.47" width="4.60" height="4.60" fill="#ff7f00"/>
<rect x="285.10" y="229.47" width="4.60" height="4.60" fill="#ff7f00"/>
<circle cx="207.00" cy="183.51" r="2.30" fill="#0000ff"/>
<path d="M227.10,192.21V197.49M224.80,192.21H229.40M224.80,197.49H229.40" stroke="#0000ff" stroke-width="1" fill="none"/>
<circle cx="227.10" cy="194.85" r="2.30" fill="#0000ff"/>
<circle cx="247.20" cy="224.39" r="2.30" fill="#0000ff"/>
<circle cx="267.30" cy="231.56" r="2.30" fill="#0000ff"/>
<circle cx="287.40" cy="231.77" r="2.30" fill="#0000ff"/>
</g>
<g>
<text transform="translate(377.20,145.10) skewX(0.5)" text-anchor="middle" font-size="9.5" stroke="#111" stroke-width="0.12">AGP-R11</text>
<path d="M330.90,152.20V232.30H425.50" stroke="#000" stroke-width="1.8" fill="none"/>
<path d="M322.10,232.30H330.90" stroke="#000" stroke-width="1.8"/>
<text transform="translate(320.30,235.90) skewX(0.5)" text-anchor="end" font-size="9.8" stroke="#111" stroke-width="0.12">0</text>
<path d="M322.10,205.93H330.90" stroke="#000" stroke-width="1.8"/>
<text transform="translate(320.30,209.53) skewX(0.5)" text-anchor="end" font-size="9.8" stroke="#111" stroke-width="0.12">50</text>
<path d="M322.10,179.55H330.90" stroke="#000" stroke-width="1.8"/>
<text transform="translate(320.30,183.15) skewX(0.5)" text-anchor="end" font-size="9.8" stroke="#111" stroke-width="0.12">100</text>
<path d="M322.10,153.18H330.90" stroke="#000" stroke-width="1.8"/>
<text transform="translate(320.30,156.78) skewX(0.5)" text-anchor="end" font-size="9.8" stroke="#111" stroke-width="0.12">150</text>
<path d="M336.80,232.30V241.90" stroke="#000" stroke-width="1.8"/>
<text transform="translate(336.80,252.80) skewX(0.5)" text-anchor="middle" font-size="9.8" stroke="#111" stroke-width="0.12">10<tspan font-size="6.4" dx="0.5" dy="-3.2" stroke-width="0">-2</tspan></text>
<path d="M356.90,232.30V241.90" stroke="#000" stroke-width="1.8"/>
<text transform="translate(356.90,252.80) skewX(0.5)" text-anchor="middle" font-size="9.8" stroke="#111" stroke-width="0.12">10<tspan font-size="6.4" dx="0.5" dy="-3.2" stroke-width="0">-1</tspan></text>
<path d="M377.00,232.30V241.90" stroke="#000" stroke-width="1.8"/>
<text transform="translate(377.00,252.80) skewX(0.5)" text-anchor="middle" font-size="9.8" stroke="#111" stroke-width="0.12">10<tspan font-size="6.4" dx="0.5" dy="-3.2" stroke-width="0">0</tspan></text>
<path d="M397.10,232.30V241.90" stroke="#000" stroke-width="1.8"/>
<text transform="translate(397.10,252.80) skewX(0.5)" text-anchor="middle" font-size="9.8" stroke="#111" stroke-width="0.12">10<tspan font-size="6.4" dx="0.5" dy="-3.2" stroke-width="0">1</tspan></text>
<path d="M417.20,232.30V241.90" stroke="#000" stroke-width="1.8"/>
<text transform="translate(417.20,252.80) skewX(0.5)" text-anchor="middle" font-size="9.8" stroke="#111" stroke-width="0.12">10<tspan font-size="6.4" dx="0.5" dy="-3.2" stroke-width="0">2</tspan></text>
<circle cx="337.10" cy="206.12" r="1.15" fill="#000"/>
<circle cx="343.14" cy="206.12" r="1.15" fill="#000"/>
<circle cx="349.18" cy="206.12" r="1.15" fill="#000"/>
<circle cx="355.22" cy="206.12" r="1.15" fill="#000"/>
<circle cx="361.26" cy="206.12" r="1.15" fill="#000"/>
<circle cx="367.30" cy="206.12" r="1.15" fill="#000"/>
<circle cx="373.34" cy="206.12" r="1.15" fill="#000"/>
<circle cx="379.38" cy="206.12" r="1.15" fill="#000"/>
<circle cx="385.42" cy="206.12" r="1.15" fill="#000"/>
<circle cx="391.46" cy="206.12" r="1.15" fill="#000"/>
<circle cx="397.50" cy="206.12" r="1.15" fill="#000"/>
<circle cx="403.54" cy="206.12" r="1.15" fill="#000"/>
<circle cx="409.58" cy="206.12" r="1.15" fill="#000"/>
<circle cx="415.62" cy="206.12" r="1.15" fill="#000"/>
<circle cx="421.66" cy="206.12" r="1.15" fill="#000"/>
<polyline points="336.80,183.77 337.47,183.77 338.14,183.77 338.81,183.77 339.48,183.77 340.15,183.77 340.82,183.77 341.49,183.77 342.16,183.77 342.83,183.77 343.50,183.77 344.17,183.77 344.84,183.77 345.51,183.77 346.18,183.77 346.85,183.77 347.52,183.77 348.19,183.77 348.86,183.77 349.53,183.77 350.20,183.77 350.87,183.77 351.54,183.77 352.21,183.77 352.88,183.77 353.55,183.77 354.22,183.77 354.89,183.77 355.56,183.77 356.23,183.77 356.90,183.77 357.57,183.77 358.24,183.77 358.91,183.77 359.58,183.77 360.25,183.77 360.92,183.77 361.59,183.77 362.26,183.77 362.93,183.77 363.60,183.77 364.27,183.77 364.94,183.77 365.61,183.77 366.28,183.77 366.95,183.77 367.62,183.77 368.29,183.77 368.96,183.77 369.63,183.77 370.30,183.77 370.97,183.77 371.64,183.77 372.31,183.77 372.98,183.77 373.65,183.77 374.32,183.77 374.99,183.77 375.66,183.77 376.33,183.77 377.00,183.77 377.67,183.77 378.34,183.77 379.01,183.77 379.68,183.77 380.35,183.77 381.02,183.77 381.69,183.77 382.36,183.77 383.03,183.77 383.70,183.77 384.37,183.77 385.04,183.77 385.71,183.77 386.38,183.77 387.05,183.77 387.72,183.77 388.39,183.77 389.06,183.77 389.73,183.77 390.40,183.77 391.07,183.77 391.74,183.77 392.41,183.77 393.08,183.77 393.75,183.77 394.42,183.77 395.09,183.77 395.76,183.77 396.43,183.77 397.10,183.77 397.77,183.77 398.44,183.77 399.11,183.77 399.78,183.77 400.45,183.77 401.12,183.77 401.79,183.77 402.46,183.77 403.13,183.77 403.80,183.77 404.47,183.77 405.14,183.77 405.81,183.77 406.48,183.77 407.15,183.77 407.82,183.77 408.49,183.77 409.16,183.77 409.83,183.77 410.50,183.77 411.17,183.77 411.84,183.77 412.51,183.77 413.18,183.77 413.85,183.77 414.52,183.77 415.19,183.77 415.86,183.77 416.53,183.77 417.20,183.77" fill="none" stroke="#00c000" stroke-width="1.45"/>
<polyline points="336.80,180.61 337.47,180.61 338.14,180.61 338.81,180.61 339.48,180.61 340.15,180.61 340.82,180.61 341.49,180.61 342.16,180.61 342.83,180.61 343.50,180.61 344.17,180.61 344.84,180.61 345.51,180.61 346.18,180.61 346.85,180.61 347.52,180.61 348.19,180.61 348.86,180.61 349.53,180.61 350.20,180.61 350.87,180.61 351.54,180.61 352.21,180.61 352.88,180.61 353.55,180.61 354.22,180.61 354.89,180.61 355.56,180.61 356.23,180.61 356.90,180.61 357.57,180.61 358.24,180.61 358.91,180.61 359.58,180.61 360.25,180.61 360.92,180.61 361.59,180.61 362.26,180.61 362.93,180.61 363.60,180.61 364.27,180.61 364.94,180.61 365.61,180.61 366.28,180.61 366.95,180.61 367.62,180.61 368.29,180.61 368.96,180.61 369.63,180.61 370.30,180.61 370.97,180.61 371.64,180.61 372.31,180.61 372.98,180.61 373.65,180.61 374.32,180.61 374.99,180.61 375.66,180.61 376.33,180.61 377.00,180.61 377.67,180.61 378.34,180.61 379.01,180.61 379.68,180.61 380.35,180.61 381.02,180.61 381.69,180.61 382.36,180.61 383.03,180.61 383.70,180.61 384.37,180.61 385.04,180.61 385.71,180.61 386.38,180.61 387.05,180.61 387.72,180.61 388.39,180.61 389.06,180.61 389.73,180.61 390.40,180.61 391.07,180.61 391.74,180.61 392.41,180.61 393.08,180.61 393.75,180.61 394.42,180.61 395.09,180.61 395.76,180.61 396.43,180.61 397.10,180.61 397.77,180.61 398.44,180.61 399.11,180.61 399.78,180.61 400.45,180.61 401.12,180.61 401.79,180.61 402.46,180.61 403.13,180.61 403.80,180.61 404.47,180.61 405.14,180.61 405.81,180.61 406.48,180.61 407.15,180.61 407.82,180.61 408.49,180.61 409.16,180.61 409.83,180.61 410.50,180.61 411.17,180.61 411.84,180.61 412.51,180.61 413.18,180.61 413.85,180.61 414.52,180.61 415.19,180.61 415.86,180.61 416.53,180.61 417.20,180.61" fill="none" stroke="#808080" stroke-width="1.45"/>
<polyline points="336.80,189.27 337.47,189.81 338.14,190.39 338.81,191.00 339.48,191.66 340.15,192.35 340.82,193.09 341.49,193.86 342.16,194.68 342.83,195.54 343.50,196.43 344.17,197.36 344.84,198.33 345.51,199.33 346.18,200.37 346.85,201.43 347.52,202.51 348.19,203.62 348.86,204.74 349.53,205.87 350.20,207.01 350.87,208.15 351.54,209.29 352.21,210.42 352.88,211.54 353.55,212.64 354.22,213.72 354.89,214.78 355.56,215.81 356.23,216.81 356.90,217.77 357.57,218.70 358.24,219.59 358.91,220.44 359.58,221.25 360.25,222.02 360.92,222.75 361.59,223.44 362.26,224.09 362.93,224.70 363.60,225.28 364.27,225.81 364.94,226.32 365.61,226.78 366.28,227.22 366.95,227.62 367.62,228.00 368.29,228.35 368.96,228.67 369.63,228.97 370.30,229.24 370.97,229.50 371.64,229.73 372.31,229.95 372.98,230.14 373.65,230.33 374.32,230.49 374.99,230.65 375.66,230.79 376.33,230.92 377.00,231.04 377.67,231.14 378.34,231.24 379.01,231.34 379.68,231.42 380.35,231.50 381.02,231.56 381.69,231.63 382.36,231.69 383.03,231.74 383.70,231.79 384.37,231.83 385.04,231.87 385.71,231.91 386.38,231.95 387.05,231.98 387.72,232.00 388.39,232.03 389.06,232.05 389.73,232.08 390.40,232.10 391.07,232.11 391.74,232.13 392.41,232.14 393.08,232.16 393.75,232.17 394.42,232.18 395.09,232.19 395.76,232.20 396.43,232.21 397.10,232.22 397.77,232.23 398.44,232.23 399.11,232.24 399.78,232.24 400.45,232.25 401.12,232.25 401.79,232.26 402.46,232.26 403.13,232.26 403.80,232.27 404.47,232.27 405.14,232.27 405.81,232.28 406.48,232.28 407.15,232.28 407.82,232.28 408.49,232.28 409.16,232.28 409.83,232.29 410.50,232.29 411.17,232.29 411.84,232.29 412.51,232.29 413.18,232.29 413.85,232.29 414.52,232.29 415.19,232.29 415.86,232.29 416.53,232.29 417.20,232.29" fill="none" stroke="#ff7f00" stroke-width="1.45"/>
<polyline points="336.80,187.39 337.47,187.87 338.14,188.38 338.81,188.92 339.48,189.49 340.15,190.10 340.82,190.74 341.49,191.42 342.16,192.13 342.83,192.88 343.50,193.66 344.17,194.47 344.84,195.32 345.51,196.20 346.18,197.12 346.85,198.06 347.52,199.03 348.19,200.02 348.86,201.04 349.53,202.08 350.20,203.13 350.87,204.19 351.54,205.27 352.21,206.34 352.88,207.42 353.55,208.50 354.22,209.57 354.89,210.63 355.56,211.68 356.23,212.71 356.90,213.72 357.57,214.71 358.24,215.67 358.91,216.60 359.58,217.51 360.25,218.38 360.92,219.22 361.59,220.02 362.26,220.79 362.93,221.53 363.60,222.23 364.27,222.89 364.94,223.52 365.61,224.12 366.28,224.69 366.95,225.22 367.62,225.72 368.29,226.19 368.96,226.63 369.63,227.04 370.30,227.42 370.97,227.78 371.64,228.12 372.31,228.43 372.98,228.72 373.65,228.99 374.32,229.25 374.99,229.48 375.66,229.70 376.33,229.90 377.00,230.08 377.67,230.26 378.34,230.41 379.01,230.56 379.68,230.70 380.35,230.82 381.02,230.94 381.69,231.05 382.36,231.15 383.03,231.24 383.70,231.32 384.37,231.40 385.04,231.47 385.71,231.54 386.38,231.60 387.05,231.66 387.72,231.71 388.39,231.75 389.06,231.80 389.73,231.84 390.40,231.88 391.07,231.91 391.74,231.94 392.41,231.97 393.08,232.00 393.75,232.02 394.42,232.04 395.09,232.06 395.76,232.08 396.43,232.10 397.10,232.12 397.77,232.13 398.44,232.15 399.11,232.16 399.78,232.17 400.45,232.18 401.12,232.19 401.79,232.20 402.46,232.21 403.13,232.21 403.80,232.22 404.47,232.23 405.14,232.23 405.81,232.24 406.48,232.24 407.15,232.25 407.82,232.25 408.49,232.26 409.16,232.26 409.83,232.26 410.50,232.27 411.17,232.27 411.84,232.27 412.51,232.27 413.18,232.28 413.85,232.28 414.52,232.28 415.19,232.28 415.86,232.28 416.53,232.28 417.20,232.29" fill="none" stroke="#0000ff" stroke-width="1.45"/>
<path d="M334.50,180.00L339.10,180.00L336.80,184.37Z" fill="#00c000"/>
<path d="M356.90,184.51V189.78M354.60,184.51H359.20M354.60,189.78H359.20" stroke="#00c000" stroke-width="1" fill="none"/>
<path d="M354.60,184.96L359.20,184.96L356.90,189.33Z" fill="#00c000"/>
<path d="M374.70,181.59L379.30,181.59L377.00,185.96Z" fill="#00c000"/>
<path d="M394.80,181.06L399.40,181.06L397.10,185.43Z" fill="#00c000"/>
<path d="M417.20,176.39V182.72M414.90,176.39H419.50M414.90,182.72H419.50" stroke="#00c000" stroke-width="1" fill="none"/>
<path d="M414.90,177.37L419.50,177.37L417.20,181.74Z" fill="#00c000"/>
<path d="M336.80,178.50V182.72M334.50,178.50H339.10M334.50,182.72H339.10" stroke="#a0a0a0" stroke-width="1" fill="none"/>
<path d="M334.50,182.79L339.10,182.79L336.80,178.42Z" fill="#a0a0a0"/>
<path d="M354.60,185.69L359.20,185.69L356.90,181.32Z" fill="#a0a0a0"/>
<path d="M377.00,176.39V184.83M374.70,176.39H379.30M374.70,184.83H379.30" stroke="#a0a0a0" stroke-width="1" fill="none"/>
<path d="M374.70,182.79L379.30,182.79L377.00,178.42Z" fill="#a0a0a0"/>
<path d="M397.10,177.97V185.35M394.80,177.97H399.40M394.80,185.35H399.40" stroke="#a0a0a0" stroke-width="1" fill="none"/>
<path d="M394.80,183.85L399.40,183.85L397.10,179.48Z" fill="#a0a0a0"/>
<path d="M417.20,173.75V184.30M414.90,173.75H419.50M414.90,184.30H419.50" stroke="#a0a0a0" stroke-width="1" fill="none"/>
<path d="M414.90,181.21L419.50,181.21L417.20,176.84Z" fill="#a0a0a0"/>
<rect x="334.50" y="187.27" width="4.60" height="4.60" fill="#ff7f00"/>
<rect x="354.60" y="215.23" width="4.60" height="4.60" fill="#ff7f00"/>
<rect x="374.70" y="228.42" width="4.60" height="4.60" fill="#ff7f00"/>
<rect x="394.80" y="229.47" width="4.60" height="4.60" fill="#ff7f00"/>
<rect x="414.90" y="229.47" width="4.60" height="4.60" fill="#ff7f00"/>
<path d="M336.80,184.30V192.74M334.50,184.30H339.10M334.50,192.74H339.10" stroke="#0000ff" stroke-width="1" fill="none"/>
<circle cx="336.80" cy="188.52" r="2.30" fill="#0000ff"/>
<path d="M356.90,210.15V215.42M354.60,210.15H359.20M354.60,215.42H359.20" stroke="#0000ff" stroke-width="1" fill="none"/>
<circle cx="356.90" cy="212.78" r="2.30" fill="#0000ff"/>
<circle cx="377.00" cy="229.66" r="2.30" fill="#0000ff"/>
<circle cx="397.10" cy="231.25" r="2.30" fill="#0000ff"/>
<circle cx="417.20" cy="231.77" r="2.30" fill="#0000ff"/>
</g>
<g>
<text transform="translate(507.00,145.10) skewX(0.5)" text-anchor="middle" font-size="9.5" stroke="#111" stroke-width="0.12">AGP-R20</text>
<path d="M460.70,152.20V232.30H555.30" stroke="#000" stroke-width="1.8" fill="none"/>
<path d="M451.90,232.30H460.70" stroke="#000" stroke-width="1.8"/>
<text transform="translate(450.10,235.90) skewX(0.5)" text-anchor="end" font-size="9.8" stroke="#111" stroke-width="0.12">0</text>
<path d="M451.90,205.93H460.70" stroke="#000" stroke-width="1.8"/>
<text transform="translate(450.10,209.53) skewX(0.5)" text-anchor="end" font-size="9.8" stroke="#111" stroke-width="0.12">50</text>
<path d="M451.90,179.55H460.70" stroke="#000" stroke-width="1.8"/>
<text transform="translate(450.10,183.15) skewX(0.5)" text-anchor="end" font-size="9.8" stroke="#111" stroke-width="0.12">100</text>
<path d="M451.90,153.18H460.70" stroke="#000" stroke-width="1.8"/>
<text transform="translate(450.10,156.78) skewX(0.5)" text-anchor="end" font-size="9.8" stroke="#111" stroke-width="0.12">150</text>
<path d="M466.60,232.30V241.90" stroke="#000" stroke-width="1.8"/>
<text transform="translate(466.60,252.80) skewX(0.5)" text-anchor="middle" font-size="9.8" stroke="#111" stroke-width="0.12">10<tspan font-size="6.4" dx="0.5" dy="-3.2" stroke-width="0">-2</tspan></text>
<path d="M486.70,232.30V241.90" stroke="#000" stroke-width="1.8"/>
<text transform="translate(486.70,252.80) skewX(0.5)" text-anchor="middle" font-size="9.8" stroke="#111" stroke-width="0.12">10<tspan font-size="6.4" dx="0.5" dy="-3.2" stroke-width="0">-1</tspan></text>
<path d="M506.80,232.30V241.90" stroke="#000" stroke-width="1.8"/>
<text transform="translate(506.80,252.80) skewX(0.5)" text-anchor="middle" font-size="9.8" stroke="#111" stroke-width="0.12">10<tspan font-size="6.4" dx="0.5" dy="-3.2" stroke-width="0">0</tspan></text>
<path d="M526.90,232.30V241.90" stroke="#000" stroke-width="1.8"/>
<text transform="translate(526.90,252.80) skewX(0.5)" text-anchor="middle" font-size="9.8" stroke="#111" stroke-width="0.12">10<tspan font-size="6.4" dx="0.5" dy="-3.2" stroke-width="0">1</tspan></text>
<path d="M547.00,232.30V241.90" stroke="#000" stroke-width="1.8"/>
<text transform="translate(547.00,252.80) skewX(0.5)" text-anchor="middle" font-size="9.8" stroke="#111" stroke-width="0.12">10<tspan font-size="6.4" dx="0.5" dy="-3.2" stroke-width="0">2</tspan></text>
<circle cx="466.90" cy="206.12" r="1.15" fill="#000"/>
<circle cx="472.94" cy="206.12" r="1.15" fill="#000"/>
<circle cx="478.98" cy="206.12" r="1.15" fill="#000"/>
<circle cx="485.02" cy="206.12" r="1.15" fill="#000"/>
<circle cx="491.06" cy="206.12" r="1.15" fill="#000"/>
<circle cx="497.10" cy="206.12" r="1.15" fill="#000"/>
<circle cx="503.14" cy="206.12" r="1.15" fill="#000"/>
<circle cx="509.18" cy="206.12" r="1.15" fill="#000"/>
<circle cx="515.22" cy="206.12" r="1.15" fill="#000"/>
<circle cx="521.26" cy="206.12" r="1.15" fill="#000"/>
<circle cx="527.30" cy="206.12" r="1.15" fill="#000"/>
<circle cx="533.34" cy="206.12" r="1.15" fill="#000"/>
<circle cx="539.38" cy="206.12" r="1.15" fill="#000"/>
<circle cx="545.42" cy="206.12" r="1.15" fill="#000"/>
<circle cx="551.46" cy="206.12" r="1.15" fill="#000"/>
<polyline points="466.60,179.55 467.27,179.55 467.94,179.55 468.61,179.55 469.28,179.55 469.95,179.55 470.62,179.55 471.29,179.55 471.96,179.55 472.63,179.55 473.30,179.55 473.97,179.55 474.64,179.55 475.31,179.55 475.98,179.55 476.65,179.55 477.32,179.55 477.99,179.55 478.66,179.55 479.33,179.55 480.00,179.55 480.67,179.55 481.34,179.55 482.01,179.55 482.68,179.55 483.35,179.55 484.02,179.55 484.69,179.55 485.36,179.55 486.03,179.55 486.70,179.55 487.37,179.55 488.04,179.55 488.71,179.55 489.38,179.55 490.05,179.55 490.72,179.55 491.39,179.55 492.06,179.55 492.73,179.55 493.40,179.55 494.07,179.55 494.74,179.55 495.41,179.55 496.08,179.55 496.75,179.55 497.42,179.55 498.09,179.55 498.76,179.55 499.43,179.55 500.10,179.55 500.77,179.55 501.44,179.55 502.11,179.55 502.78,179.55 503.45,179.55 504.12,179.55 504.79,179.55 505.46,179.55 506.13,179.55 506.80,179.55 507.47,179.55 508.14,179.55 508.81,179.55 509.48,179.55 510.15,179.55 510.82,179.55 511.49,179.55 512.16,179.55 512.83,179.55 513.50,179.55 514.17,179.55 514.84,179.55 515.51,179.55 516.18,179.55 516.85,179.55 517.52,179.55 518.19,179.55 518.86,179.55 519.53,179.55 520.20,179.55 520.87,179.55 521.54,179.55 522.21,179.55 522.88,179.55 523.55,179.55 524.22,179.55 524.89,179.55 525.56,179.55 526.23,179.55 526.90,179.55 527.57,179.55 528.24,179.55 528.91,179.55 529.58,179.55 530.25,179.55 530.92,179.55 531.59,179.55 532.26,179.55 532.93,179.55 533.60,179.55 534.27,179.55 534.94,179.55 535.61,179.55 536.28,179.55 536.95,179.55 537.62,179.55 538.29,179.55 538.96,179.55 539.63,179.55 540.30,179.55 540.97,179.55 541.64,179.55 542.31,179.55 542.98,179.55 543.65,179.55 544.32,179.55 544.99,179.55 545.66,179.55 546.33,179.55 547.00,179.55" fill="none" stroke="#00c000" stroke-width="1.45"/>
<polyline points="466.60,179.55 467.27,179.55 467.94,179.55 468.61,179.55 469.28,179.55 469.95,179.55 470.62,179.55 471.29,179.55 471.96,179.55 472.63,179.55 473.30,179.55 473.97,179.55 474.64,179.55 475.31,179.55 475.98,179.55 476.65,179.55 477.32,179.55 477.99,179.55 478.66,179.55 479.33,179.55 480.00,179.55 480.67,179.55 481.34,179.55 482.01,179.55 482.68,179.55 483.35,179.55 484.02,179.55 484.69,179.55 485.36,179.55 486.03,179.55 486.70,179.55 487.37,179.55 488.04,179.55 488.71,179.55 489.38,179.55 490.05,179.55 490.72,179.55 491.39,179.55 492.06,179.55 492.73,179.55 493.40,179.55 494.07,179.55 494.74,179.55 495.41,179.55 496.08,179.55 496.75,179.55 497.42,179.55 498.09,179.55 498.76,179.55 499.43,179.55 500.10,179.55 500.77,179.55 501.44,179.55 502.11,179.55 502.78,179.55 503.45,179.55 504.12,179.55 504.79,179.55 505.46,179.55 506.13,179.55 506.80,179.55 507.47,179.55 508.14,179.55 508.81,179.55 509.48,179.55 510.15,179.55 510.82,179.55 511.49,179.55 512.16,179.55 512.83,179.55 513.50,179.55 514.17,179.55 514.84,179.55 515.51,179.55 516.18,179.55 516.85,179.55 517.52,179.55 518.19,179.55 518.86,179.55 519.53,179.55 520.20,179.55 520.87,179.55 521.54,179.55 522.21,179.55 522.88,179.55 523.55,179.55 524.22,179.55 524.89,179.55 525.56,179.55 526.23,179.55 526.90,179.55 527.57,179.55 528.24,179.55 528.91,179.55 529.58,179.55 530.25,179.55 530.92,179.55 531.59,179.55 532.26,179.55 532.93,179.55 533.60,179.55 534.27,179.55 534.94,179.55 535.61,179.55 536.28,179.55 536.95,179.55 537.62,179.55 538.29,179.55 538.96,179.55 539.63,179.55 540.30,179.55 540.97,179.55 541.64,179.55 542.31,179.55 542.98,179.55 543.65,179.55 544.32,179.55 544.99,179.55 545.66,179.55 546.33,179.55 547.00,179.55" fill="none" stroke="#808080" stroke-width="1.45"/>
<polyline points="466.60,189.02 467.27,189.43 467.94,189.87 468.61,190.33 469.28,190.83 469.95,191.35 470.62,191.91 471.29,192.50 471.96,193.12 472.63,193.77 473.30,194.46 473.97,195.18 474.64,195.93 475.31,196.72 475.98,197.53 476.65,198.38 477.32,199.26 477.99,200.16 478.66,201.09 479.33,202.04 480.00,203.01 480.67,204.00 481.34,205.00 482.01,206.02 482.68,207.04 483.35,208.06 484.02,209.08 484.69,210.10 485.36,211.12 486.03,212.12 486.70,213.11 487.37,214.08 488.04,215.03 488.71,215.95 489.38,216.86 490.05,217.73 490.72,218.58 491.39,219.39 492.06,220.18 492.73,220.93 493.40,221.65 494.07,222.33 494.74,222.98 495.41,223.60 496.08,224.19 496.75,224.74 497.42,225.27 498.09,225.76 498.76,226.22 499.43,226.66 500.10,227.07 500.77,227.45 501.44,227.80 502.11,228.14 502.78,228.45 503.45,228.74 504.12,229.00 504.79,229.25 505.46,229.49 506.13,229.70 506.80,229.90 507.47,230.09 508.14,230.26 508.81,230.42 509.48,230.57 510.15,230.70 510.82,230.83 511.49,230.94 512.16,231.05 512.83,231.15 513.50,231.24 514.17,231.32 514.84,231.40 515.51,231.47 516.18,231.54 516.85,231.60 517.52,231.66 518.19,231.71 518.86,231.75 519.53,231.80 520.20,231.84 520.87,231.88 521.54,231.91 522.21,231.94 522.88,231.97 523.55,232.00 524.22,232.02 524.89,232.04 525.56,232.06 526.23,232.08 526.90,232.10 527.57,232.12 528.24,232.13 528.91,232.14 529.58,232.16 530.25,232.17 530.92,232.18 531.59,232.19 532.26,232.20 532.93,232.21 533.60,232.21 534.27,232.22 534.94,232.23 535.61,232.23 536.28,232.24 536.95,232.24 537.62,232.25 538.29,232.25 538.96,232.26 539.63,232.26 540.30,232.26 540.97,232.27 541.64,232.27 542.31,232.27 542.98,232.27 543.65,232.28 544.32,232.28 544.99,232.28 545.66,232.28 546.33,232.28 547.00,232.28" fill="none" stroke="#ff7f00" stroke-width="1.45"/>
<polyline points="466.60,179.85 467.27,179.97 467.94,180.11 468.61,180.27 469.28,180.45 469.95,180.66 470.62,180.89 471.29,181.15 471.96,181.46 472.63,181.80 473.30,182.18 473.97,182.62 474.64,183.11 475.31,183.67 475.98,184.29 476.65,184.98 477.32,185.75 477.99,186.61 478.66,187.55 479.33,188.59 480.00,189.72 480.67,190.95 481.34,192.28 482.01,193.70 482.68,195.21 483.35,196.81 484.02,198.48 484.69,200.22 485.36,202.00 486.03,203.82 486.70,205.66 487.37,207.50 488.04,209.32 488.71,211.10 489.38,212.84 490.05,214.51 490.72,216.11 491.39,217.62 492.06,219.05 492.73,220.37 493.40,221.60 494.07,222.74 494.74,223.77 495.41,224.72 496.08,225.57 496.75,226.34 497.42,227.04 498.09,227.66 498.76,228.21 499.43,228.70 500.10,229.14 500.77,229.52 501.44,229.87 502.11,230.17 502.78,230.43 503.45,230.67 504.12,230.87 504.79,231.05 505.46,231.21 506.13,231.35 506.80,231.47 507.47,231.57 508.14,231.67 508.81,231.75 509.48,231.82 510.15,231.88 510.82,231.93 511.49,231.98 512.16,232.02 512.83,232.06 513.50,232.09 514.17,232.12 514.84,232.14 515.51,232.16 516.18,232.18 516.85,232.19 517.52,232.21 518.19,232.22 518.86,232.23 519.53,232.24 520.20,232.25 520.87,232.25 521.54,232.26 522.21,232.26 522.88,232.27 523.55,232.27 524.22,232.28 524.89,232.28 525.56,232.28 526.23,232.28 526.90,232.29 527.57,232.29 528.24,232.29 528.91,232.29 529.58,232.29 530.25,232.29 530.92,232.29 531.59,232.29 532.26,232.30 532.93,232.30 533.60,232.30 534.27,232.30 534.94,232.30 535.61,232.30 536.28,232.30 536.95,232.30 537.62,232.30 538.29,232.30 538.96,232.30 539.63,232.30 540.30,232.30 540.97,232.30 541.64,232.30 542.31,232.30 542.98,232.30 543.65,232.30 544.32,232.30 544.99,232.30 545.66,232.30 546.33,232.30 547.00,232.30" fill="none" stroke="#0000ff" stroke-width="1.45"/>
<path d="M466.60,166.36V183.24M464.30,166.36H468.90M464.30,183.24H468.90" stroke="#00c000" stroke-width="1" fill="none"/>
<path d="M464.30,172.62L468.90,172.62L466.60,176.99Z" fill="#00c000"/>
<path d="M486.70,173.22V186.94M484.40,173.22H489.00M484.40,186.94H489.00" stroke="#00c000" stroke-width="1" fill="none"/>
<path d="M484.40,177.89L489.00,177.89L486.70,182.26Z" fill="#00c000"/>
<path d="M506.80,175.33V181.66M504.50,175.33H509.10M504.50,181.66H509.10" stroke="#00c000" stroke-width="1" fill="none"/>
<path d="M504.50,176.31L509.10,176.31L506.80,180.68Z" fill="#00c000"/>
<path d="M526.90,164.25V176.91M524.60,164.25H529.20M524.60,176.91H529.20" stroke="#00c000" stroke-width="1" fill="none"/>
<path d="M524.60,168.40L529.20,168.40L526.90,172.77Z" fill="#00c000"/>
<path d="M547.00,169.53V186.41M544.70,169.53H549.30M544.70,186.41H549.30" stroke="#00c000" stroke-width="1" fill="none"/>
<path d="M544.70,175.78L549.30,175.78L547.00,180.15Z" fill="#00c000"/>
<path d="M486.70,175.86V184.30M484.40,175.86H489.00M484.40,184.30H489.00" stroke="#a0a0a0" stroke-width="1" fill="none"/>
<path d="M484.40,182.26L489.00,182.26L486.70,177.89Z" fill="#a0a0a0"/>
<path d="M506.80,172.69V183.24M504.50,172.69H509.10M504.50,183.24H509.10" stroke="#a0a0a0" stroke-width="1" fill="none"/>
<path d="M504.50,180.15L509.10,180.15L506.80,175.78Z" fill="#a0a0a0"/>
<path d="M526.90,171.64V180.08M524.60,171.64H529.20M524.60,180.08H529.20" stroke="#a0a0a0" stroke-width="1" fill="none"/>
<path d="M524.60,178.04L529.20,178.04L526.90,173.67Z" fill="#a0a0a0"/>
<path d="M544.70,178.04L549.30,178.04L547.00,173.67Z" fill="#a0a0a0"/>
<path d="M466.60,184.83V190.10M464.30,184.83H468.90M464.30,190.10H468.90" stroke="#ff7f00" stroke-width="1" fill="none"/>
<rect x="464.30" y="185.16" width="4.60" height="4.60" fill="#ff7f00"/>
<rect x="484.40" y="209.43" width="4.60" height="4.60" fill="#ff7f00"/>
<rect x="504.50" y="225.78" width="4.60" height="4.60" fill="#ff7f00"/>
<rect x="524.60" y="229.47" width="4.60" height="4.60" fill="#ff7f00"/>
<rect x="544.70" y="229.47" width="4.60" height="4.60" fill="#ff7f00"/>
<path d="M466.60,174.80V180.08M464.30,174.80H468.90M464.30,180.08H468.90" stroke="#0000ff" stroke-width="1" fill="none"/>
<circle cx="466.60" cy="177.44" r="2.30" fill="#0000ff"/>
<circle cx="486.70" cy="205.40" r="2.30" fill="#0000ff"/>
<circle cx="506.80" cy="228.61" r="2.30" fill="#0000ff"/>
<circle cx="526.90" cy="230.19" r="2.30" fill="#0000ff"/>
<circle cx="547.00" cy="231.25" r="2.30" fill="#0000ff"/>
</g>
<g>
<text transform="translate(636.80,145.10) skewX(0.5)" text-anchor="middle" font-size="9.5" stroke="#111" stroke-width="0.12">AGP-R22</text>
<path d="M590.50,152.20V232.30H685.10" stroke="#000" stroke-width="1.8" fill="none"/>
<path d="M581.70,232.30H590.50" stroke="#000" stroke-width="1.8"/>
<text transform="translate(579.90,235.90) skewX(0.5)" text-anchor="end" font-size="9.8" stroke="#111" stroke-width="0.12">0</text>
<path d="M581.70,205.93H590.50" stroke="#000" stroke-width="1.8"/>
<text transform="translate(579.90,209.53) skewX(0.5)" text-anchor="end" font-size="9.8" stroke="#111" stroke-width="0.12">50</text>
<path d="M581.70,179.55H590.50" stroke="#000" stroke-width="1.8"/>
<text transform="translate(579.90,183.15) skewX(0.5)" text-anchor="end" font-size="9.8" stroke="#111" stroke-width="0.12">100</text>
<path d="M581.70,153.18H590.50" stroke="#000" stroke-width="1.8"/>
<text transform="translate(579.90,156.78) skewX(0.5)" text-anchor="end" font-size="9.8" stroke="#111" stroke-width="0.12">150</text>
<path d="M596.40,232.30V241.90" stroke="#000" stroke-width="1.8"/>
<text transform="translate(596.40,252.80) skewX(0.5)" text-anchor="middle" font-size="9.8" stroke="#111" stroke-width="0.12">10<tspan font-size="6.4" dx="0.5" dy="-3.2" stroke-width="0">-2</tspan></text>
<path d="M616.50,232.30V241.90" stroke="#000" stroke-width="1.8"/>
<text transform="translate(616.50,252.80) skewX(0.5)" text-anchor="middle" font-size="9.8" stroke="#111" stroke-width="0.12">10<tspan font-size="6.4" dx="0.5" dy="-3.2" stroke-width="0">-1</tspan></text>
<path d="M636.60,232.30V241.90" stroke="#000" stroke-width="1.8"/>
<text transform="translate(636.60,252.80) skewX(0.5)" text-anchor="middle" font-size="9.8" stroke="#111" stroke-width="0.12">10<tspan font-size="6.4" dx="0.5" dy="-3.2" stroke-width="0">0</tspan></text>
<path d="M656.70,232.30V241.90" stroke="#000" stroke-width="1.8"/>
<text transform="translate(656.70,252.80) skewX(0.5)" text-anchor="middle" font-size="9.8" stroke="#111" stroke-width="0.12">10<tspan font-size="6.4" dx="0.5" dy="-3.2" stroke-width="0">1</tspan></text>
<path d="M676.80,232.30V241.90" stroke="#000" stroke-width="1.8"/>
<text transform="translate(676.80,252.80) skewX(0.5)" text-anchor="middle" font-size="9.8" stroke="#111" stroke-width="0.12">10<tspan font-size="6.4" dx="0.5" dy="-3.2" stroke-width="0">2</tspan></text>
<circle cx="596.70" cy="206.12" r="1.15" fill="#000"/>
<circle cx="602.74" cy="206.12" r="1.15" fill="#000"/>
<circle cx="608.78" cy="206.12" r="1.15" fill="#000"/>
<circle cx="614.82" cy="206.12" r="1.15" fill="#000"/>
<circle cx="620.86" cy="206.12" r="1.15" fill="#000"/>
<circle cx="626.90" cy="206.12" r="1.15" fill="#000"/>
<circle cx="632.94" cy="206.12" r="1.15" fill="#000"/>
<circle cx="638.98" cy="206.12" r="1.15" fill="#000"/>
<circle cx="645.02" cy="206.12" r="1.15" fill="#000"/>
<circle cx="651.06" cy="206.12" r="1.15" fill="#000"/>
<circle cx="657.10" cy="206.12" r="1.15" fill="#000"/>
<circle cx="663.14" cy="206.12" r="1.15" fill="#000"/>
<circle cx="669.18" cy="206.12" r="1.15" fill="#000"/>
<circle cx="675.22" cy="206.12" r="1.15" fill="#000"/>
<circle cx="681.26" cy="206.12" r="1.15" fill="#000"/>
<polyline points="596.40,179.55 597.07,179.55 597.74,179.55 598.41,179.55 599.08,179.55 599.75,179.55 600.42,179.55 601.09,179.55 601.76,179.55 602.43,179.55 603.10,179.55 603.77,179.55 604.44,179.55 605.11,179.55 605.78,179.55 606.45,179.55 607.12,179.55 607.79,179.55 608.46,179.55 609.13,179.55 609.80,179.55 610.47,179.55 611.14,179.55 611.81,179.55 612.48,179.55 613.15,179.55 613.82,179.55 614.49,179.55 615.16,179.55 615.83,179.55 616.50,179.55 617.17,179.55 617.84,179.55 618.51,179.55 619.18,179.55 619.85,179.55 620.52,179.55 621.19,179.55 621.86,179.55 622.53,179.55 623.20,179.55 623.87,179.55 624.54,179.55 625.21,179.55 625.88,179.55 626.55,179.55 627.22,179.55 627.89,179.55 628.56,179.55 629.23,179.55 629.90,179.55 630.57,179.55 631.24,179.55 631.91,179.55 632.58,179.55 633.25,179.55 633.92,179.55 634.59,179.55 635.26,179.55 635.93,179.55 636.60,179.55 637.27,179.55 637.94,179.55 638.61,179.55 639.28,179.55 639.95,179.55 640.62,179.55 641.29,179.55 641.96,179.55 642.63,179.55 643.30,179.55 643.97,179.55 644.64,179.55 645.31,179.55 645.98,179.55 646.65,179.55 647.32,179.55 647.99,179.55 648.66,179.55 649.33,179.55 650.00,179.55 650.67,179.55 651.34,179.55 652.01,179.55 652.68,179.55 653.35,179.55 654.02,179.55 654.69,179.55 655.36,179.55 656.03,179.55 656.70,179.55 657.37,179.55 658.04,179.55 658.71,179.55 659.38,179.55 660.05,179.55 660.72,179.55 661.39,179.55 662.06,179.55 662.73,179.55 663.40,179.55 664.07,179.55 664.74,179.55 665.41,179.55 666.08,179.55 666.75,179.55 667.42,179.55 668.09,179.55 668.76,179.55 669.43,179.55 670.10,179.55 670.77,179.55 671.44,179.55 672.11,179.55 672.78,179.55 673.45,179.55 674.12,179.55 674.79,179.55 675.46,179.55 676.13,179.55 676.80,179.55" fill="none" stroke="#00c000" stroke-width="1.45"/>
<polyline points="596.40,179.55 597.07,179.55 597.74,179.55 598.41,179.55 599.08,179.55 599.75,179.55 600.42,179.55 601.09,179.55 601.76,179.55 602.43,179.55 603.10,179.55 603.77,179.55 604.44,179.55 605.11,179.55 605.78,179.55 606.45,179.55 607.12,179.55 607.79,179.55 608.46,179.55 609.13,179.55 609.80,179.55 610.47,179.55 611.14,179.55 611.81,179.55 612.48,179.55 613.15,179.55 613.82,179.55 614.49,179.55 615.16,179.55 615.83,179.55 616.50,179.55 617.17,179.55 617.84,179.55 618.51,179.55 619.18,179.55 619.85,179.55 620.52,179.55 621.19,179.55 621.86,179.55 622.53,179.55 623.20,179.55 623.87,179.55 624.54,179.55 625.21,179.55 625.88,179.55 626.55,179.55 627.22,179.55 627.89,179.55 628.56,179.55 629.23,179.55 629.90,179.55 630.57,179.55 631.24,179.55 631.91,179.55 632.58,179.55 633.25,179.55 633.92,179.55 634.59,179.55 635.26,179.55 635.93,179.55 636.60,179.55 637.27,179.55 637.94,179.55 638.61,179.55 639.28,179.55 639.95,179.55 640.62,179.55 641.29,179.55 641.96,179.55 642.63,179.55 643.30,179.55 643.97,179.55 644.64,179.55 645.31,179.55 645.98,179.55 646.65,179.55 647.32,179.55 647.99,179.55 648.66,179.55 649.33,179.55 650.00,179.55 650.67,179.55 651.34,179.55 652.01,179.55 652.68,179.55 653.35,179.55 654.02,179.55 654.69,179.55 655.36,179.55 656.03,179.55 656.70,179.55 657.37,179.55 658.04,179.55 658.71,179.55 659.38,179.55 660.05,179.55 660.72,179.55 661.39,179.55 662.06,179.55 662.73,179.55 663.40,179.55 664.07,179.55 664.74,179.55 665.41,179.55 666.08,179.55 666.75,179.55 667.42,179.55 668.09,179.55 668.76,179.55 669.43,179.55 670.10,179.55 670.77,179.55 671.44,179.55 672.11,179.55 672.78,179.55 673.45,179.55 674.12,179.55 674.79,179.55 675.46,179.55 676.13,179.55 676.80,179.55" fill="none" stroke="#808080" stroke-width="1.45"/>
<polyline points="596.40,190.64 597.07,191.25 597.74,191.90 598.41,192.60 599.08,193.35 599.75,194.14 600.42,194.97 601.09,195.86 601.76,196.78 602.43,197.76 603.10,198.77 603.77,199.82 604.44,200.91 605.11,202.03 605.78,203.18 606.45,204.36 607.12,205.55 607.79,206.75 608.46,207.96 609.13,209.17 609.80,210.37 610.47,211.57 611.14,212.74 611.81,213.89 612.48,215.02 613.15,216.11 613.82,217.17 614.49,218.19 615.16,219.17 615.83,220.10 616.50,220.99 617.17,221.83 617.84,222.63 618.51,223.38 619.18,224.08 619.85,224.74 620.52,225.36 621.19,225.93 621.86,226.46 622.53,226.95 623.20,227.41 623.87,227.83 624.54,228.22 625.21,228.58 625.88,228.91 626.55,229.21 627.22,229.49 627.89,229.74 628.56,229.97 629.23,230.18 629.90,230.37 630.57,230.55 631.24,230.71 631.91,230.86 632.58,230.99 633.25,231.11 633.92,231.22 634.59,231.32 635.26,231.41 635.93,231.50 636.60,231.57 637.27,231.64 637.94,231.70 638.61,231.76 639.28,231.81 639.95,231.86 640.62,231.90 641.29,231.94 641.96,231.97 642.63,232.00 643.30,232.03 643.97,232.05 644.64,232.08 645.31,232.10 645.98,232.12 646.65,232.14 647.32,232.15 647.99,232.16 648.66,232.18 649.33,232.19 650.00,232.20 650.67,232.21 651.34,232.22 652.01,232.23 652.68,232.23 653.35,232.24 654.02,232.24 654.69,232.25 655.36,232.25 656.03,232.26 656.70,232.26 657.37,232.27 658.04,232.27 658.71,232.27 659.38,232.28 660.05,232.28 660.72,232.28 661.39,232.28 662.06,232.28 662.73,232.28 663.40,232.29 664.07,232.29 664.74,232.29 665.41,232.29 666.08,232.29 666.75,232.29 667.42,232.29 668.09,232.29 668.76,232.29 669.43,232.29 670.10,232.29 670.77,232.30 671.44,232.30 672.11,232.30 672.78,232.30 673.45,232.30 674.12,232.30 674.79,232.30 675.46,232.30 676.13,232.30 676.80,232.30" fill="none" stroke="#ff7f00" stroke-width="1.45"/>
<polyline points="596.40,185.62 597.07,186.00 597.74,186.43 598.41,186.90 599.08,187.41 599.75,187.98 600.42,188.60 601.09,189.27 601.76,190.00 602.43,190.79 603.10,191.64 603.77,192.55 604.44,193.53 605.11,194.57 605.78,195.68 606.45,196.84 607.12,198.06 607.79,199.34 608.46,200.66 609.13,202.02 609.80,203.41 610.47,204.83 611.14,206.27 611.81,207.71 612.48,209.15 613.15,210.58 613.82,211.98 614.49,213.35 615.16,214.69 615.83,215.98 616.50,217.22 617.17,218.41 617.84,219.53 618.51,220.60 619.18,221.60 619.85,222.54 620.52,223.41 621.19,224.22 621.86,224.97 622.53,225.66 623.20,226.30 623.87,226.88 624.54,227.41 625.21,227.90 625.88,228.34 626.55,228.74 627.22,229.10 627.89,229.43 628.56,229.72 629.23,229.99 629.90,230.23 630.57,230.45 631.24,230.64 631.91,230.82 632.58,230.98 633.25,231.12 633.92,231.24 634.59,231.35 635.26,231.46 635.93,231.55 636.60,231.63 637.27,231.70 637.94,231.76 638.61,231.82 639.28,231.87 639.95,231.92 640.62,231.96 641.29,232.00 641.96,232.03 642.63,232.06 643.30,232.09 643.97,232.11 644.64,232.13 645.31,232.15 645.98,232.16 646.65,232.18 647.32,232.19 647.99,232.20 648.66,232.21 649.33,232.22 650.00,232.23 650.67,232.24 651.34,232.25 652.01,232.25 652.68,232.26 653.35,232.26 654.02,232.27 654.69,232.27 655.36,232.27 656.03,232.28 656.70,232.28 657.37,232.28 658.04,232.28 658.71,232.28 659.38,232.29 660.05,232.29 660.72,232.29 661.39,232.29 662.06,232.29 662.73,232.29 663.40,232.29 664.07,232.29 664.74,232.29 665.41,232.30 666.08,232.30 666.75,232.30 667.42,232.30 668.09,232.30 668.76,232.30 669.43,232.30 670.10,232.30 670.77,232.30 671.44,232.30 672.11,232.30 672.78,232.30 673.45,232.30 674.12,232.30 674.79,232.30 675.46,232.30 676.13,232.30 676.80,232.30" fill="none" stroke="#0000ff" stroke-width="1.45"/>
<path d="M594.10,174.73L598.70,174.73L596.40,179.10Z" fill="#00c000"/>
<path d="M616.50,173.75V180.08M614.20,173.75H618.80M614.20,180.08H618.80" stroke="#00c000" stroke-width="1" fill="none"/>
<path d="M614.20,174.73L618.80,174.73L616.50,179.10Z" fill="#00c000"/>
<path d="M636.60,179.02V185.35M634.30,179.02H638.90M634.30,185.35H638.90" stroke="#00c000" stroke-width="1" fill="none"/>
<path d="M634.30,180.00L638.90,180.00L636.60,184.37Z" fill="#00c000"/>
<path d="M654.40,177.89L659.00,177.89L656.70,182.26Z" fill="#00c000"/>
<path d="M674.50,177.89L679.10,177.89L676.80,182.26Z" fill="#00c000"/>
<path d="M596.40,167.95V182.72M594.10,167.95H598.70M594.10,182.72H598.70" stroke="#a0a0a0" stroke-width="1" fill="none"/>
<path d="M594.10,177.52L598.70,177.52L596.40,173.15Z" fill="#a0a0a0"/>
<path d="M614.20,181.74L618.80,181.74L616.50,177.37Z" fill="#a0a0a0"/>
<path d="M634.30,178.57L638.90,178.57L636.60,174.20Z" fill="#a0a0a0"/>
<path d="M656.70,170.06V179.55M654.40,170.06H659.00M654.40,179.55H659.00" stroke="#a0a0a0" stroke-width="1" fill="none"/>
<path d="M654.40,176.99L659.00,176.99L656.70,172.62Z" fill="#a0a0a0"/>
<path d="M676.80,164.78V176.39M674.50,164.78H679.10M674.50,176.39H679.10" stroke="#a0a0a0" stroke-width="1" fill="none"/>
<path d="M674.50,172.77L679.10,172.77L676.80,168.40Z" fill="#a0a0a0"/>
<path d="M596.40,186.94V193.27M594.10,186.94H598.70M594.10,193.27H598.70" stroke="#ff7f00" stroke-width="1" fill="none"/>
<rect x="594.10" y="187.80" width="4.60" height="4.60" fill="#ff7f00"/>
<rect x="614.20" y="214.18" width="4.60" height="4.60" fill="#ff7f00"/>
<rect x="634.30" y="229.47" width="4.60" height="4.60" fill="#ff7f00"/>
<rect x="654.40" y="229.47" width="4.60" height="4.60" fill="#ff7f00"/>
<rect x="674.50" y="229.47" width="4.60" height="4.60" fill="#ff7f00"/>
<path d="M596.40,181.66V185.88M594.10,181.66H598.70M594.10,185.88H598.70" stroke="#0000ff" stroke-width="1" fill="none"/>
<circle cx="596.40" cy="183.77" r="2.30" fill="#0000ff"/>
<path d="M616.50,208.56V213.84M614.20,208.56H618.80M614.20,213.84H618.80" stroke="#0000ff" stroke-width="1" fill="none"/>
<circle cx="616.50" cy="211.20" r="2.30" fill="#0000ff"/>
<circle cx="636.60" cy="229.66" r="2.30" fill="#0000ff"/>
<circle cx="656.70" cy="231.25" r="2.30" fill="#0000ff"/>
<circle cx="676.80" cy="231.77" r="2.30" fill="#0000ff"/>
</g>
<g>
<text transform="translate(117.40,272.60) skewX(0.5)" text-anchor="middle" font-size="9.5" stroke="#111" stroke-width="0.12">MR78</text>
<path d="M71.10,279.70V359.80H165.70" stroke="#000" stroke-width="1.8" fill="none"/>
<path d="M62.30,359.80H71.10" stroke="#000" stroke-width="1.8"/>
<text transform="translate(60.50,363.40) skewX(0.5)" text-anchor="end" font-size="9.8" stroke="#111" stroke-width="0.12">0</text>
<path d="M62.30,333.43H71.10" stroke="#000" stroke-width="1.8"/>
<text transform="translate(60.50,337.03) skewX(0.5)" text-anchor="end" font-size="9.8" stroke="#111" stroke-width="0.12">50</text>
<path d="M62.30,307.05H71.10" stroke="#000" stroke-width="1.8"/>
<text transform="translate(60.50,310.65) skewX(0.5)" text-anchor="end" font-size="9.8" stroke="#111" stroke-width="0.12">100</text>
<path d="M62.30,280.68H71.10" stroke="#000" stroke-width="1.8"/>
<text transform="translate(60.50,284.28) skewX(0.5)" text-anchor="end" font-size="9.8" stroke="#111" stroke-width="0.12">150</text>
<path d="M77.00,359.80V369.40" stroke="#000" stroke-width="1.8"/>
<text transform="translate(77.00,380.30) skewX(0.5)" text-anchor="middle" font-size="9.8" stroke="#111" stroke-width="0.12">10<tspan font-size="6.4" dx="0.5" dy="-3.2" stroke-width="0">-2</tspan></text>
<path d="M97.10,359.80V369.40" stroke="#000" stroke-width="1.8"/>
<text transform="translate(97.10,380.30) skewX(0.5)" text-anchor="middle" font-size="9.8" stroke="#111" stroke-width="0.12">10<tspan font-size="6.4" dx="0.5" dy="-3.2" stroke-width="0">-1</tspan></text>
<path d="M117.20,359.80V369.40" stroke="#000" stroke-width="1.8"/>
<text transform="translate(117.20,380.30) skewX(0.5)" text-anchor="middle" font-size="9.8" stroke="#111" stroke-width="0.12">10<tspan font-size="6.4" dx="0.5" dy="-3.2" stroke-width="0">0</tspan></text>
<path d="M137.30,359.80V369.40" stroke="#000" stroke-width="1.8"/>
<text transform="translate(137.30,380.30) skewX(0.5)" text-anchor="middle" font-size="9.8" stroke="#111" stroke-width="0.12">10<tspan font-size="6.4" dx="0.5" dy="-3.2" stroke-width="0">1</tspan></text>
<path d="M157.40,359.80V369.40" stroke="#000" stroke-width="1.8"/>
<text transform="translate(157.40,380.30) skewX(0.5)" text-anchor="middle" font-size="9.8" stroke="#111" stroke-width="0.12">10<tspan font-size="6.4" dx="0.5" dy="-3.2" stroke-width="0">2</tspan></text>
<circle cx="77.30" cy="333.62" r="1.15" fill="#000"/>
<circle cx="83.34" cy="333.62" r="1.15" fill="#000"/>
<circle cx="89.38" cy="333.62" r="1.15" fill="#000"/>
<circle cx="95.42" cy="333.62" r="1.15" fill="#000"/>
<circle cx="101.46" cy="333.62" r="1.15" fill="#000"/>
<circle cx="107.50" cy="333.62" r="1.15" fill="#000"/>
<circle cx="113.54" cy="333.62" r="1.15" fill="#000"/>
<circle cx="119.58" cy="333.62" r="1.15" fill="#000"/>
<circle cx="125.62" cy="333.62" r="1.15" fill="#000"/>
<circle cx="131.66" cy="333.62" r="1.15" fill="#000"/>
<circle cx="137.70" cy="333.62" r="1.15" fill="#000"/>
<circle cx="143.74" cy="333.62" r="1.15" fill="#000"/>
<circle cx="149.78" cy="333.62" r="1.15" fill="#000"/>
<circle cx="155.82" cy="333.62" r="1.15" fill="#000"/>
<circle cx="161.86" cy="333.62" r="1.15" fill="#000"/>
<polyline points="77.00,307.05 77.67,307.06 78.34,307.06 79.01,307.07 79.68,307.08 80.35,307.08 81.02,307.09 81.69,307.10 82.36,307.10 83.03,307.11 83.70,307.12 84.37,307.12 85.04,307.13 85.71,307.14 86.38,307.14 87.05,307.15 87.72,307.16 88.39,307.16 89.06,307.17 89.73,307.18 90.40,307.18 91.07,307.19 91.74,307.20 92.41,307.20 93.08,307.21 93.75,307.21 94.42,307.22 95.09,307.23 95.76,307.23 96.43,307.24 97.10,307.25 97.77,307.25 98.44,307.26 99.11,307.27 99.78,307.27 100.45,307.28 101.12,307.29 101.79,307.29 102.46,307.30 103.13,307.31 103.80,307.31 104.47,307.32 105.14,307.33 105.81,307.33 106.48,307.34 107.15,307.35 107.82,307.35 108.49,307.36 109.16,307.37 109.83,307.37 110.50,307.38 111.17,307.39 111.84,307.39 112.51,307.40 113.18,307.41 113.85,307.41 114.52,307.42 115.19,307.43 115.86,307.43 116.53,307.44 117.20,307.45 117.87,307.45 118.54,307.46 119.21,307.47 119.88,307.47 120.55,307.48 121.22,307.49 121.89,307.49 122.56,307.50 123.23,307.50 123.90,307.51 124.57,307.52 125.24,307.52 125.91,307.53 126.58,307.54 127.25,307.54 127.92,307.55 128.59,307.56 129.26,307.56 129.93,307.57 130.60,307.58 131.27,307.58 131.94,307.59 132.61,307.60 133.28,307.60 133.95,307.61 134.62,307.62 135.29,307.62 135.96,307.63 136.63,307.64 137.30,307.64 137.97,307.65 138.64,307.66 139.31,307.66 139.98,307.67 140.65,307.68 141.32,307.68 141.99,307.69 142.66,307.70 143.33,307.70 144.00,307.71 144.67,307.72 145.34,307.72 146.01,307.73 146.68,307.74 147.35,307.74 148.02,307.75 148.69,307.76 149.36,307.76 150.03,307.77 150.70,307.78 151.37,307.78 152.04,307.79 152.71,307.80 153.38,307.80 154.05,307.81 154.72,307.81 155.39,307.82 156.06,307.83 156.73,307.83 157.40,307.84" fill="none" stroke="#00c000" stroke-width="1.45"/>
<polyline points="77.00,307.44 77.67,307.47 78.34,307.50 79.01,307.53 79.68,307.57 80.35,307.60 81.02,307.64 81.69,307.68 82.36,307.73 83.03,307.78 83.70,307.83 84.37,307.88 85.04,307.94 85.71,308.00 86.38,308.07 87.05,308.14 87.72,308.22 88.39,308.30 89.06,308.39 89.73,308.48 90.40,308.58 91.07,308.68 91.74,308.80 92.41,308.92 93.08,309.04 93.75,309.18 94.42,309.33 95.09,309.48 95.76,309.65 96.43,309.82 97.10,310.01 97.77,310.21 98.44,310.42 99.11,310.65 99.78,310.89 100.45,311.14 101.12,311.41 101.79,311.69 102.46,311.99 103.13,312.31 103.80,312.65 104.47,313.00 105.14,313.38 105.81,313.77 106.48,314.19 107.15,314.62 107.82,315.08 108.49,315.57 109.16,316.07 109.83,316.60 110.50,317.15 111.17,317.73 111.84,318.33 112.51,318.95 113.18,319.60 113.85,320.27 114.52,320.97 115.19,321.69 115.86,322.43 116.53,323.19 117.20,323.98 117.87,324.78 118.54,325.60 119.21,326.44 119.88,327.30 120.55,328.17 121.22,329.05 121.89,329.94 122.56,330.84 123.23,331.74 123.90,332.65 124.57,333.56 125.24,334.47 125.91,335.38 126.58,336.28 127.25,337.18 127.92,338.07 128.59,338.94 129.26,339.81 129.93,340.66 130.60,341.49 131.27,342.31 131.94,343.11 132.61,343.88 133.28,344.64 133.95,345.38 134.62,346.09 135.29,346.78 135.96,347.44 136.63,348.09 137.30,348.70 137.97,349.30 138.64,349.87 139.31,350.41 139.98,350.93 140.65,351.43 141.32,351.90 141.99,352.36 142.66,352.79 143.33,353.20 144.00,353.59 144.67,353.96 145.34,354.30 146.01,354.64 146.68,354.95 147.35,355.24 148.02,355.52 148.69,355.79 149.36,356.04 150.03,356.27 150.70,356.49 151.37,356.70 152.04,356.89 152.71,357.08 153.38,357.25 154.05,357.41 154.72,357.57 155.39,357.71 156.06,357.84 156.73,357.97 157.40,358.09" fill="none" stroke="#808080" stroke-width="1.45"/>
<polyline points="77.00,313.07 77.67,313.23 78.34,313.40 79.01,313.58 79.68,313.77 80.35,313.97 81.02,314.18 81.69,314.41 82.36,314.65 83.03,314.91 83.70,315.18 84.37,315.47 85.04,315.77 85.71,316.09 86.38,316.43 87.05,316.78 87.72,317.16 88.39,317.56 89.06,317.97 89.73,318.41 90.40,318.86 91.07,319.34 91.74,319.84 92.41,320.37 93.08,320.91 93.75,321.48 94.42,322.07 95.09,322.69 95.76,323.32 96.43,323.98 97.10,324.66 97.77,325.35 98.44,326.07 99.11,326.81 99.78,327.56 100.45,328.34 101.12,329.12 101.79,329.92 102.46,330.74 103.13,331.56 103.80,332.39 104.47,333.23 105.14,334.07 105.81,334.92 106.48,335.77 107.15,336.61 107.82,337.46 108.49,338.29 109.16,339.12 109.83,339.95 110.50,340.76 111.17,341.55 111.84,342.34 112.51,343.11 113.18,343.86 113.85,344.59 114.52,345.31 115.19,346.00 115.86,346.68 116.53,347.33 117.20,347.96 117.87,348.57 118.54,349.16 119.21,349.72 119.88,350.27 120.55,350.79 121.22,351.28 121.89,351.76 122.56,352.21 123.23,352.64 123.90,353.06 124.57,353.45 125.24,353.82 125.91,354.17 126.58,354.51 127.25,354.83 127.92,355.13 128.59,355.41 129.26,355.68 129.93,355.93 130.60,356.17 131.27,356.40 131.94,356.61 132.61,356.81 133.28,357.00 133.95,357.17 134.62,357.34 135.29,357.50 135.96,357.64 136.63,357.78 137.30,357.91 137.97,358.03 138.64,358.15 139.31,358.25 139.98,358.35 140.65,358.45 141.32,358.54 141.99,358.62 142.66,358.70 143.33,358.77 144.00,358.84 144.67,358.90 145.34,358.96 146.01,359.01 146.68,359.06 147.35,359.11 148.02,359.16 148.69,359.20 149.36,359.24 150.03,359.28 150.70,359.31 151.37,359.34 152.04,359.37 152.71,359.40 153.38,359.43 154.05,359.45 154.72,359.48 155.39,359.50 156.06,359.52 156.73,359.54 157.40,359.55" fill="none" stroke="#ff7f00" stroke-width="1.45"/>
<polyline points="77.00,307.55 77.67,307.59 78.34,307.64 79.01,307.69 79.68,307.74 80.35,307.80 81.02,307.87 81.69,307.94 82.36,308.02 83.03,308.10 83.70,308.19 84.37,308.29 85.04,308.39 85.71,308.51 86.38,308.63 87.05,308.77 87.72,308.91 88.39,309.07 89.06,309.24 89.73,309.43 90.40,309.63 91.07,309.84 91.74,310.07 92.41,310.32 93.08,310.59 93.75,310.88 94.42,311.19 95.09,311.53 95.76,311.89 96.43,312.27 97.10,312.68 97.77,313.12 98.44,313.59 99.11,314.09 99.78,314.62 100.45,315.18 101.12,315.78 101.79,316.41 102.46,317.08 103.13,317.78 103.80,318.52 104.47,319.30 105.14,320.11 105.81,320.96 106.48,321.84 107.15,322.75 107.82,323.70 108.49,324.68 109.16,325.68 109.83,326.71 110.50,327.76 111.17,328.83 111.84,329.92 112.51,331.02 113.18,332.13 113.85,333.24 114.52,334.35 115.19,335.46 115.86,336.57 116.53,337.66 117.20,338.73 117.87,339.79 118.54,340.83 119.21,341.84 119.88,342.83 120.55,343.79 121.22,344.71 121.89,345.60 122.56,346.46 123.23,347.29 123.90,348.07 124.57,348.83 125.24,349.54 125.91,350.22 126.58,350.87 127.25,351.48 127.92,352.05 128.59,352.59 129.26,353.10 129.93,353.58 130.60,354.03 131.27,354.45 131.94,354.84 132.61,355.21 133.28,355.55 133.95,355.87 134.62,356.16 135.29,356.44 135.96,356.70 136.63,356.93 137.30,357.15 137.97,357.36 138.64,357.55 139.31,357.72 139.98,357.88 140.65,358.03 141.32,358.17 141.99,358.30 142.66,358.42 143.33,358.53 144.00,358.63 144.67,358.72 145.34,358.81 146.01,358.89 146.68,358.96 147.35,359.03 148.02,359.09 148.69,359.15 149.36,359.20 150.03,359.25 150.70,359.29 151.37,359.33 152.04,359.37 152.71,359.40 153.38,359.44 154.05,359.46 154.72,359.49 155.39,359.52 156.06,359.54 156.73,359.56 157.40,359.58" fill="none" stroke="#0000ff" stroke-width="1.45"/>
<path d="M74.70,304.87L79.30,304.87L77.00,309.24Z" fill="#00c000"/>
<path d="M97.10,302.83V309.16M94.80,302.83H99.40M94.80,309.16H99.40" stroke="#00c000" stroke-width="1" fill="none"/>
<path d="M94.80,303.81L99.40,303.81L97.10,308.18Z" fill="#00c000"/>
<path d="M117.20,305.47V311.80M114.90,305.47H119.50M114.90,311.80H119.50" stroke="#00c000" stroke-width="1" fill="none"/>
<path d="M114.90,306.45L119.50,306.45L117.20,310.82Z" fill="#00c000"/>
<path d="M135.00,308.03L139.60,308.03L137.30,312.40Z" fill="#00c000"/>
<path d="M155.10,303.81L159.70,303.81L157.40,308.18Z" fill="#00c000"/>
<path d="M74.70,309.76L79.30,309.76L77.00,305.39Z" fill="#a0a0a0"/>
<path d="M117.20,320.76V333.43M114.90,320.76H119.50M114.90,333.43H119.50" stroke="#a0a0a0" stroke-width="1" fill="none"/>
<path d="M114.90,329.28L119.50,329.28L117.20,324.91Z" fill="#a0a0a0"/>
<path d="M135.00,350.91L139.60,350.91L137.30,346.54Z" fill="#a0a0a0"/>
<path d="M155.10,359.88L159.70,359.88L157.40,355.50Z" fill="#a0a0a0"/>
<path d="M77.00,311.27V317.60M74.70,311.27H79.30M74.70,317.60H79.30" stroke="#ff7f00" stroke-width="1" fill="none"/>
<rect x="74.70" y="312.13" width="4.60" height="4.60" fill="#ff7f00"/>
<path d="M97.10,318.13V329.73M94.80,318.13H99.40M94.80,329.73H99.40" stroke="#ff7f00" stroke-width="1" fill="none"/>
<rect x="94.80" y="321.63" width="4.60" height="4.60" fill="#ff7f00"/>
<rect x="114.90" y="341.68" width="4.60" height="4.60" fill="#ff7f00"/>
<rect x="135.00" y="353.81" width="4.60" height="4.60" fill="#ff7f00"/>
<rect x="155.10" y="356.18" width="4.60" height="4.60" fill="#ff7f00"/>
<circle cx="77.00" cy="308.63" r="2.30" fill="#0000ff"/>
<circle cx="97.10" cy="315.49" r="2.30" fill="#0000ff"/>
<circle cx="117.20" cy="338.17" r="2.30" fill="#0000ff"/>
<circle cx="137.30" cy="356.11" r="2.30" fill="#0000ff"/>
<circle cx="157.40" cy="358.48" r="2.30" fill="#0000ff"/>
</g>
<path d="M202.1,302.70H225.7" stroke="#0000ff" stroke-width="2.0"/>
<circle cx="214.00" cy="302.70" r="2.10" fill="#0000ff"/>
<text transform="translate(237.30,306.70) skewX(0.5)" font-size="9.8" stroke="#111" stroke-width="0.12">VSVΔG*MARV-Angola</text>
<path d="M202.1,321.83H225.7" stroke="#ff7f00" stroke-width="2.0"/>
<rect x="211.90" y="319.73" width="4.20" height="4.20" fill="#ff7f00"/>
<text transform="translate(237.30,325.83) skewX(0.5)" font-size="9.8" stroke="#111" stroke-width="0.12">VSVΔG*MARV-Musoke</text>
<path d="M202.1,340.96H225.7" stroke="#808080" stroke-width="2.0"/>
<path d="M211.90,342.95L216.10,342.95L214.00,338.96Z" fill="#a0a0a0"/>
<text transform="translate(237.30,344.96) skewX(0.5)" font-size="9.8" stroke="#111" stroke-width="0.12">VSVΔG*RAVV</text>
<path d="M202.1,360.09H225.7" stroke="#00c000" stroke-width="2.0"/>
<path d="M211.90,358.09L216.10,358.09L214.00,362.08Z" fill="#00c000"/>
<text transform="translate(237.30,364.09) skewX(0.5)" font-size="9.8" stroke="#111" stroke-width="0.12">VSVΔG*EBOV</text>
<text transform="translate(376.80,274.10) skewX(0.5)" text-anchor="middle" font-size="9.9" stroke="#111" stroke-width="0.12">Ab concentration (μg/mL)</text>
<text transform="translate(24.10,195.30) rotate(-90) skewX(0.5)" text-anchor="middle" font-size="9.9" stroke="#111" stroke-width="0.12">% Infectivity</text>
<text transform="translate(1.60,5.40) skewX(0.5)" font-size="9.5" font-weight="bold" stroke="#111" stroke-width="0.12">a</text>
<text transform="translate(117.50,410.50) skewX(0.5)" text-anchor="middle" font-size="9.6" stroke="#111" stroke-width="0.12">vs AGP-R7</text>
<polyline points="78.04,462.73 93.15,461.94 108.26,462.73 123.38,463.52 138.49,463.52 153.60,469.06" fill="none" stroke="#a8a8a8" stroke-width="1.3" stroke-linejoin="round"/>
<path d="M75.64,465.01L80.44,465.01L78.04,460.45Z" fill="#999999"/>
<path d="M90.75,464.22L95.55,464.22L93.15,459.66Z" fill="#999999"/>
<path d="M105.86,465.01L110.66,465.01L108.26,460.45Z" fill="#999999"/>
<path d="M120.98,465.80L125.78,465.80L123.38,461.24Z" fill="#999999"/>
<path d="M136.09,465.80L140.89,465.80L138.49,461.24Z" fill="#999999"/>
<path d="M151.20,471.34L156.00,471.34L153.60,466.78Z" fill="#999999"/>
<polyline points="78.04,461.94 93.15,461.94 108.26,461.94 123.38,461.54 138.49,460.75 153.60,460.75" fill="none" stroke="#555555" stroke-width="1.7" stroke-linejoin="round"/>
<path d="M75.24,459.28L80.84,459.28L78.04,464.60Z" fill="#333333"/>
<path d="M90.35,459.28L95.95,459.28L93.15,464.60Z" fill="#333333"/>
<path d="M105.46,459.28L111.06,459.28L108.26,464.60Z" fill="#333333"/>
<path d="M120.58,458.88L126.18,458.88L123.38,464.20Z" fill="#333333"/>
<path d="M135.69,458.09L141.29,458.09L138.49,463.41Z" fill="#333333"/>
<path d="M150.80,458.09L156.40,458.09L153.60,463.41Z" fill="#333333"/>
<polyline points="78.04,463.52 93.15,467.08 108.26,467.87 123.38,463.91 138.49,461.15 153.60,465.50" fill="none" stroke="#2afafa" stroke-width="1.05" stroke-linejoin="round"/>
<rect x="75.24" y="460.72" width="5.60" height="5.60" fill="#1ef5f5"/>
<rect x="90.35" y="464.28" width="5.60" height="5.60" fill="#1ef5f5"/>
<rect x="105.46" y="465.07" width="5.60" height="5.60" fill="#1ef5f5"/>
<rect x="120.58" y="461.11" width="5.60" height="5.60" fill="#1ef5f5"/>
<rect x="135.69" y="458.35" width="5.60" height="5.60" fill="#1ef5f5"/>
<rect x="150.80" y="462.70" width="5.60" height="5.60" fill="#1ef5f5"/>
<polyline points="78.04,461.94 93.15,465.50 108.26,463.52 123.38,458.77 138.49,456.40 153.60,457.19" fill="none" stroke="#3a3aff" stroke-width="1.05" stroke-linejoin="round"/>
<circle cx="78.04" cy="461.94" r="2.30" fill="#0000ff"/>
<circle cx="93.15" cy="465.50" r="2.30" fill="#0000ff"/>
<circle cx="108.26" cy="463.52" r="2.30" fill="#0000ff"/>
<circle cx="123.38" cy="458.77" r="2.30" fill="#0000ff"/>
<circle cx="138.49" cy="456.40" r="2.30" fill="#0000ff"/>
<circle cx="153.60" cy="457.19" r="2.30" fill="#0000ff"/>
<polyline points="78.04,460.75 93.15,458.77 108.26,461.15 123.38,459.17 138.49,459.17 153.60,461.94" fill="none" stroke="#22b822" stroke-width="1.45" stroke-linejoin="round"/>
<path d="M75.64,458.47L80.44,458.47L78.04,463.03Z" fill="#00a800"/>
<path d="M90.75,456.49L95.55,456.49L93.15,461.05Z" fill="#00a800"/>
<path d="M105.86,458.87L110.66,458.87L108.26,463.43Z" fill="#00a800"/>
<path d="M120.98,456.89L125.78,456.89L123.38,461.45Z" fill="#00a800"/>
<path d="M136.09,456.89L140.89,456.89L138.49,461.45Z" fill="#00a800"/>
<path d="M151.20,459.66L156.00,459.66L153.60,464.22Z" fill="#00a800"/>
<polyline points="78.04,460.75 93.15,459.96 108.26,461.15 123.38,459.96 138.49,459.96 153.60,462.33" fill="none" stroke="#1ef51e" stroke-width="1.4" stroke-linejoin="round"/>
<path d="M78.04,458.45L80.34,460.75L78.04,463.05L75.74,460.75Z" fill="#00f000"/>
<path d="M93.15,457.66L95.45,459.96L93.15,462.26L90.85,459.96Z" fill="#00f000"/>
<path d="M108.26,458.85L110.56,461.15L108.26,463.45L105.96,461.15Z" fill="#00f000"/>
<path d="M123.38,457.66L125.68,459.96L123.38,462.26L121.08,459.96Z" fill="#00f000"/>
<path d="M138.49,457.66L140.79,459.96L138.49,462.26L136.19,459.96Z" fill="#00f000"/>
<path d="M153.60,460.03L155.90,462.33L153.60,464.63L151.30,462.33Z" fill="#00f000"/>
<polyline points="78.04,461.54 93.15,461.94 108.26,462.73 123.38,463.91 138.49,473.80 153.60,483.29" fill="none" stroke="#ff9530" stroke-width="1.55" stroke-linejoin="round"/>
<path d="M75.54,463.92L80.54,463.92L78.04,459.17Z" fill="#ff8000"/>
<path d="M90.65,464.31L95.65,464.31L93.15,459.56Z" fill="#ff8000"/>
<path d="M105.76,465.10L110.76,465.10L108.26,460.35Z" fill="#ff8000"/>
<path d="M120.88,466.29L125.88,466.29L123.38,461.54Z" fill="#ff8000"/>
<path d="M135.99,476.18L140.99,476.18L138.49,471.43Z" fill="#ff8000"/>
<path d="M151.10,485.67L156.10,485.67L153.60,480.92Z" fill="#ff8000"/>
<polyline points="78.04,461.54 93.15,461.94 108.26,462.73 123.38,469.06 138.49,478.94 153.60,490.02" fill="none" stroke="#ff70a6" stroke-width="1.15" stroke-linejoin="round"/>
<rect x="75.89" y="459.39" width="4.30" height="4.30" fill="#f05f96"/>
<rect x="91.00" y="459.79" width="4.30" height="4.30" fill="#f05f96"/>
<rect x="106.11" y="460.58" width="4.30" height="4.30" fill="#f05f96"/>
<rect x="121.23" y="466.91" width="4.30" height="4.30" fill="#f05f96"/>
<rect x="136.34" y="476.79" width="4.30" height="4.30" fill="#f05f96"/>
<rect x="151.45" y="487.87" width="4.30" height="4.30" fill="#f05f96"/>
<polyline points="78.04,462.73 93.15,461.54 108.26,466.29 123.38,475.78 138.49,488.44 153.60,495.16" fill="none" stroke="#ff0d0d" stroke-width="1.5" stroke-linejoin="round"/>
<circle cx="78.04" cy="462.73" r="2.15" fill="#ff0000"/>
<circle cx="93.15" cy="461.54" r="2.15" fill="#ff0000"/>
<circle cx="108.26" cy="466.29" r="2.15" fill="#ff0000"/>
<circle cx="123.38" cy="475.78" r="2.15" fill="#ff0000"/>
<circle cx="138.49" cy="488.44" r="2.15" fill="#ff0000"/>
<circle cx="153.60" cy="495.16" r="2.15" fill="#ff0000"/>
<path d="M71.00,420.30V500.30H165.30" stroke="#000" stroke-width="1.8" fill="none"/>
<path d="M62.20,500.30H71.00" stroke="#000" stroke-width="1.8"/>
<text transform="translate(60.40,503.90) skewX(0.5)" text-anchor="end" font-size="9.8" stroke="#111" stroke-width="0.12">0.0</text>
<path d="M62.20,480.53H71.00" stroke="#000" stroke-width="1.8"/>
<text transform="translate(60.40,484.13) skewX(0.5)" text-anchor="end" font-size="9.8" stroke="#111" stroke-width="0.12">0.5</text>
<path d="M62.20,460.75H71.00" stroke="#000" stroke-width="1.8"/>
<text transform="translate(60.40,464.35) skewX(0.5)" text-anchor="end" font-size="9.8" stroke="#111" stroke-width="0.12">1.0</text>
<path d="M62.20,440.98H71.00" stroke="#000" stroke-width="1.8"/>
<text transform="translate(60.40,444.58) skewX(0.5)" text-anchor="end" font-size="9.8" stroke="#111" stroke-width="0.12">1.5</text>
<path d="M62.20,421.20H71.00" stroke="#000" stroke-width="1.8"/>
<text transform="translate(60.40,424.80) skewX(0.5)" text-anchor="end" font-size="9.8" stroke="#111" stroke-width="0.12">2.0</text>
<path d="M78.30,500.30V509.50" stroke="#000" stroke-width="1.8"/>
<text transform="translate(78.30,520.60) skewX(0.5)" text-anchor="middle" font-size="9.8" stroke="#111" stroke-width="0.12">10<tspan font-size="6.4" dx="0.5" dy="-2.4" stroke-width="0">-2</tspan></text>
<path d="M103.40,500.30V509.50" stroke="#000" stroke-width="1.8"/>
<text transform="translate(103.40,520.60) skewX(0.5)" text-anchor="middle" font-size="9.8" stroke="#111" stroke-width="0.12">10<tspan font-size="6.4" dx="0.5" dy="-2.4" stroke-width="0">-1</tspan></text>
<path d="M128.50,500.30V509.50" stroke="#000" stroke-width="1.8"/>
<text transform="translate(128.50,520.60) skewX(0.5)" text-anchor="middle" font-size="9.8" stroke="#111" stroke-width="0.12">10<tspan font-size="6.4" dx="0.5" dy="-2.4" stroke-width="0">0</tspan></text>
<path d="M153.60,500.30V509.50" stroke="#000" stroke-width="1.8"/>
<text transform="translate(153.60,520.60) skewX(0.5)" text-anchor="middle" font-size="9.8" stroke="#111" stroke-width="0.12">10<tspan font-size="6.4" dx="0.5" dy="-2.4" stroke-width="0">1</tspan></text>
<text transform="translate(249.50,410.50) skewX(0.5)" text-anchor="middle" font-size="9.6" stroke="#111" stroke-width="0.12">vs AGP-R12</text>
<polyline points="210.04,444.93 225.15,444.93 240.26,444.14 255.38,445.72 270.49,443.35 285.60,446.91" fill="none" stroke="#a8a8a8" stroke-width="1.3" stroke-linejoin="round"/>
<path d="M207.64,447.21L212.44,447.21L210.04,442.65Z" fill="#999999"/>
<path d="M222.75,447.21L227.55,447.21L225.15,442.65Z" fill="#999999"/>
<path d="M237.86,446.42L242.66,446.42L240.26,441.86Z" fill="#999999"/>
<path d="M252.98,448.00L257.78,448.00L255.38,443.44Z" fill="#999999"/>
<path d="M268.09,445.63L272.89,445.63L270.49,441.07Z" fill="#999999"/>
<path d="M283.20,449.19L288.00,449.19L285.60,444.63Z" fill="#999999"/>
<polyline points="210.04,449.28 225.15,450.07 240.26,448.49 255.38,451.26 270.49,444.14 285.60,446.91" fill="none" stroke="#555555" stroke-width="1.7" stroke-linejoin="round"/>
<path d="M207.24,446.62L212.84,446.62L210.04,451.94Z" fill="#333333"/>
<path d="M222.35,447.41L227.95,447.41L225.15,452.73Z" fill="#333333"/>
<path d="M237.46,445.83L243.06,445.83L240.26,451.15Z" fill="#333333"/>
<path d="M252.58,448.60L258.18,448.60L255.38,453.92Z" fill="#333333"/>
<path d="M267.69,441.48L273.29,441.48L270.49,446.80Z" fill="#333333"/>
<path d="M282.80,444.25L288.40,444.25L285.60,449.57Z" fill="#333333"/>
<polyline points="210.04,444.14 225.15,446.12 240.26,447.70 255.38,454.42 270.49,446.91 285.60,450.07" fill="none" stroke="#2afafa" stroke-width="1.05" stroke-linejoin="round"/>
<rect x="207.24" y="441.34" width="5.60" height="5.60" fill="#1ef5f5"/>
<rect x="222.35" y="443.32" width="5.60" height="5.60" fill="#1ef5f5"/>
<rect x="237.46" y="444.90" width="5.60" height="5.60" fill="#1ef5f5"/>
<rect x="252.58" y="451.62" width="5.60" height="5.60" fill="#1ef5f5"/>
<rect x="267.69" y="444.11" width="5.60" height="5.60" fill="#1ef5f5"/>
<rect x="282.80" y="447.27" width="5.60" height="5.60" fill="#1ef5f5"/>
<polyline points="210.04,446.91 225.15,446.91 240.26,446.12 255.38,447.70 270.49,441.77 285.60,444.93" fill="none" stroke="#3a3aff" stroke-width="1.05" stroke-linejoin="round"/>
<circle cx="210.04" cy="446.91" r="2.30" fill="#0000ff"/>
<circle cx="225.15" cy="446.91" r="2.30" fill="#0000ff"/>
<circle cx="240.26" cy="446.12" r="2.30" fill="#0000ff"/>
<circle cx="255.38" cy="447.70" r="2.30" fill="#0000ff"/>
<circle cx="270.49" cy="441.77" r="2.30" fill="#0000ff"/>
<circle cx="285.60" cy="444.93" r="2.30" fill="#0000ff"/>
<polyline points="210.04,448.49 225.15,448.49 240.26,444.93 255.38,446.91 270.49,442.16 285.60,449.28" fill="none" stroke="#22b822" stroke-width="1.45" stroke-linejoin="round"/>
<path d="M207.64,446.21L212.44,446.21L210.04,450.77Z" fill="#00a800"/>
<path d="M222.75,446.21L227.55,446.21L225.15,450.77Z" fill="#00a800"/>
<path d="M237.86,442.65L242.66,442.65L240.26,447.21Z" fill="#00a800"/>
<path d="M252.98,444.63L257.78,444.63L255.38,449.19Z" fill="#00a800"/>
<path d="M268.09,439.88L272.89,439.88L270.49,444.44Z" fill="#00a800"/>
<path d="M283.20,447.00L288.00,447.00L285.60,451.56Z" fill="#00a800"/>
<polyline points="210.04,432.67 225.15,441.77 240.26,444.53 255.38,441.77 270.49,440.58 285.60,437.42" fill="none" stroke="#1ef51e" stroke-width="1.4" stroke-linejoin="round"/>
<path d="M210.04,430.37L212.34,432.67L210.04,434.97L207.74,432.67Z" fill="#00f000"/>
<path d="M225.15,439.47L227.45,441.77L225.15,444.07L222.85,441.77Z" fill="#00f000"/>
<path d="M240.26,442.23L242.56,444.53L240.26,446.83L237.96,444.53Z" fill="#00f000"/>
<path d="M255.38,439.47L257.68,441.77L255.38,444.07L253.08,441.77Z" fill="#00f000"/>
<path d="M270.49,438.28L272.79,440.58L270.49,442.88L268.19,440.58Z" fill="#00f000"/>
<path d="M285.60,435.12L287.90,437.42L285.60,439.72L283.30,437.42Z" fill="#00f000"/>
<polyline points="210.04,443.35 225.15,440.98 240.26,442.95 255.38,450.07 270.49,463.12 285.60,478.15" fill="none" stroke="#ff9530" stroke-width="1.55" stroke-linejoin="round"/>
<path d="M207.54,445.72L212.54,445.72L210.04,440.97Z" fill="#ff8000"/>
<path d="M222.65,443.35L227.65,443.35L225.15,438.60Z" fill="#ff8000"/>
<path d="M237.76,445.33L242.76,445.33L240.26,440.58Z" fill="#ff8000"/>
<path d="M252.88,452.45L257.88,452.45L255.38,447.70Z" fill="#ff8000"/>
<path d="M267.99,465.50L272.99,465.50L270.49,460.75Z" fill="#ff8000"/>
<path d="M283.10,480.53L288.10,480.53L285.60,475.78Z" fill="#ff8000"/>
<polyline points="210.04,447.30 225.15,446.51 240.26,450.47 255.38,458.77 270.49,469.85 285.60,486.46" fill="none" stroke="#ff70a6" stroke-width="1.15" stroke-linejoin="round"/>
<rect x="207.89" y="445.15" width="4.30" height="4.30" fill="#f05f96"/>
<rect x="223.00" y="444.36" width="4.30" height="4.30" fill="#f05f96"/>
<rect x="238.11" y="448.32" width="4.30" height="4.30" fill="#f05f96"/>
<rect x="253.23" y="456.62" width="4.30" height="4.30" fill="#f05f96"/>
<rect x="268.34" y="467.70" width="4.30" height="4.30" fill="#f05f96"/>
<rect x="283.45" y="484.31" width="4.30" height="4.30" fill="#f05f96"/>
<polyline points="210.04,451.65 225.15,452.05 240.26,455.61 255.38,474.20 270.49,486.85 285.60,495.16" fill="none" stroke="#ff0d0d" stroke-width="1.5" stroke-linejoin="round"/>
<circle cx="210.04" cy="451.65" r="2.15" fill="#ff0000"/>
<circle cx="225.15" cy="452.05" r="2.15" fill="#ff0000"/>
<circle cx="240.26" cy="455.61" r="2.15" fill="#ff0000"/>
<circle cx="255.38" cy="474.20" r="2.15" fill="#ff0000"/>
<circle cx="270.49" cy="486.85" r="2.15" fill="#ff0000"/>
<circle cx="285.60" cy="495.16" r="2.15" fill="#ff0000"/>
<path d="M203.00,420.30V500.30H297.30" stroke="#000" stroke-width="1.8" fill="none"/>
<path d="M194.20,500.30H203.00" stroke="#000" stroke-width="1.8"/>
<text transform="translate(192.40,503.90) skewX(0.5)" text-anchor="end" font-size="9.8" stroke="#111" stroke-width="0.12">0.0</text>
<path d="M194.20,480.53H203.00" stroke="#000" stroke-width="1.8"/>
<text transform="translate(192.40,484.13) skewX(0.5)" text-anchor="end" font-size="9.8" stroke="#111" stroke-width="0.12">0.5</text>
<path d="M194.20,460.75H203.00" stroke="#000" stroke-width="1.8"/>
<text transform="translate(192.40,464.35) skewX(0.5)" text-anchor="end" font-size="9.8" stroke="#111" stroke-width="0.12">1.0</text>
<path d="M194.20,440.98H203.00" stroke="#000" stroke-width="1.8"/>
<text transform="translate(192.40,444.58) skewX(0.5)" text-anchor="end" font-size="9.8" stroke="#111" stroke-width="0.12">1.5</text>
<path d="M194.20,421.20H203.00" stroke="#000" stroke-width="1.8"/>
<text transform="translate(192.40,424.80) skewX(0.5)" text-anchor="end" font-size="9.8" stroke="#111" stroke-width="0.12">2.0</text>
<path d="M210.30,500.30V509.50" stroke="#000" stroke-width="1.8"/>
<text transform="translate(210.30,520.60) skewX(0.5)" text-anchor="middle" font-size="9.8" stroke="#111" stroke-width="0.12">10<tspan font-size="6.4" dx="0.5" dy="-2.4" stroke-width="0">-2</tspan></text>
<path d="M235.40,500.30V509.50" stroke="#000" stroke-width="1.8"/>
<text transform="translate(235.40,520.60) skewX(0.5)" text-anchor="middle" font-size="9.8" stroke="#111" stroke-width="0.12">10<tspan font-size="6.4" dx="0.5" dy="-2.4" stroke-width="0">-1</tspan></text>
<path d="M260.50,500.30V509.50" stroke="#000" stroke-width="1.8"/>
<text transform="translate(260.50,520.60) skewX(0.5)" text-anchor="middle" font-size="9.8" stroke="#111" stroke-width="0.12">10<tspan font-size="6.4" dx="0.5" dy="-2.4" stroke-width="0">0</tspan></text>
<path d="M285.60,500.30V509.50" stroke="#000" stroke-width="1.8"/>
<text transform="translate(285.60,520.60) skewX(0.5)" text-anchor="middle" font-size="9.8" stroke="#111" stroke-width="0.12">10<tspan font-size="6.4" dx="0.5" dy="-2.4" stroke-width="0">1</tspan></text>
<text transform="translate(379.50,410.50) skewX(0.5)" text-anchor="middle" font-size="9.6" stroke="#111" stroke-width="0.12">vs AGP-R17</text>
<polyline points="340.04,453.63 355.15,451.26 370.26,455.61 385.38,458.38 400.49,461.15 415.60,461.15" fill="none" stroke="#a8a8a8" stroke-width="1.3" stroke-linejoin="round"/>
<path d="M337.64,455.91L342.44,455.91L340.04,451.35Z" fill="#999999"/>
<path d="M352.75,453.54L357.55,453.54L355.15,448.98Z" fill="#999999"/>
<path d="M367.86,457.89L372.66,457.89L370.26,453.33Z" fill="#999999"/>
<path d="M382.98,460.66L387.78,460.66L385.38,456.10Z" fill="#999999"/>
<path d="M398.09,463.43L402.89,463.43L400.49,458.87Z" fill="#999999"/>
<path d="M413.20,463.43L418.00,463.43L415.60,458.87Z" fill="#999999"/>
<polyline points="340.04,446.91 355.15,448.49 370.26,454.42 385.38,455.61 400.49,455.61 415.60,456.40" fill="none" stroke="#555555" stroke-width="1.7" stroke-linejoin="round"/>
<path d="M337.24,444.25L342.84,444.25L340.04,449.57Z" fill="#333333"/>
<path d="M352.35,445.83L357.95,445.83L355.15,451.15Z" fill="#333333"/>
<path d="M367.46,451.76L373.06,451.76L370.26,457.08Z" fill="#333333"/>
<path d="M382.58,452.95L388.18,452.95L385.38,458.27Z" fill="#333333"/>
<path d="M397.69,452.95L403.29,452.95L400.49,458.27Z" fill="#333333"/>
<path d="M412.80,453.74L418.40,453.74L415.60,459.06Z" fill="#333333"/>
<polyline points="340.04,455.21 355.15,450.47 370.26,455.21 385.38,454.82 400.49,454.42 415.60,454.42" fill="none" stroke="#2afafa" stroke-width="1.05" stroke-linejoin="round"/>
<rect x="337.24" y="452.41" width="5.60" height="5.60" fill="#1ef5f5"/>
<rect x="352.35" y="447.67" width="5.60" height="5.60" fill="#1ef5f5"/>
<rect x="367.46" y="452.41" width="5.60" height="5.60" fill="#1ef5f5"/>
<rect x="382.58" y="452.02" width="5.60" height="5.60" fill="#1ef5f5"/>
<rect x="397.69" y="451.62" width="5.60" height="5.60" fill="#1ef5f5"/>
<rect x="412.80" y="451.62" width="5.60" height="5.60" fill="#1ef5f5"/>
<polyline points="340.04,452.84 355.15,448.88 370.26,451.65 385.38,449.68 400.49,447.30 415.60,446.91" fill="none" stroke="#3a3aff" stroke-width="1.05" stroke-linejoin="round"/>
<circle cx="340.04" cy="452.84" r="2.30" fill="#0000ff"/>
<circle cx="355.15" cy="448.88" r="2.30" fill="#0000ff"/>
<circle cx="370.26" cy="451.65" r="2.30" fill="#0000ff"/>
<circle cx="385.38" cy="449.68" r="2.30" fill="#0000ff"/>
<circle cx="400.49" cy="447.30" r="2.30" fill="#0000ff"/>
<circle cx="415.60" cy="446.91" r="2.30" fill="#0000ff"/>
<polyline points="340.04,454.03 355.15,452.84 370.26,454.82 385.38,452.05 400.49,451.65 415.60,451.26" fill="none" stroke="#22b822" stroke-width="1.45" stroke-linejoin="round"/>
<path d="M337.64,451.75L342.44,451.75L340.04,456.31Z" fill="#00a800"/>
<path d="M352.75,450.56L357.55,450.56L355.15,455.12Z" fill="#00a800"/>
<path d="M367.86,452.54L372.66,452.54L370.26,457.10Z" fill="#00a800"/>
<path d="M382.98,449.77L387.78,449.77L385.38,454.33Z" fill="#00a800"/>
<path d="M398.09,449.37L402.89,449.37L400.49,453.93Z" fill="#00a800"/>
<path d="M413.20,448.98L418.00,448.98L415.60,453.54Z" fill="#00a800"/>
<polyline points="340.04,454.42 355.15,452.84 370.26,455.21 385.38,454.42 400.49,456.40 415.60,453.24" fill="none" stroke="#1ef51e" stroke-width="1.4" stroke-linejoin="round"/>
<path d="M340.04,452.12L342.34,454.42L340.04,456.72L337.74,454.42Z" fill="#00f000"/>
<path d="M355.15,450.54L357.45,452.84L355.15,455.14L352.85,452.84Z" fill="#00f000"/>
<path d="M370.26,452.91L372.56,455.21L370.26,457.51L367.96,455.21Z" fill="#00f000"/>
<path d="M385.38,452.12L387.68,454.42L385.38,456.72L383.08,454.42Z" fill="#00f000"/>
<path d="M400.49,454.10L402.79,456.40L400.49,458.70L398.19,456.40Z" fill="#00f000"/>
<path d="M415.60,450.94L417.90,453.24L415.60,455.54L413.30,453.24Z" fill="#00f000"/>
<polyline points="340.04,450.07 355.15,448.09 370.26,454.42 385.38,456.80 400.49,469.45 415.60,478.15" fill="none" stroke="#ff9530" stroke-width="1.55" stroke-linejoin="round"/>
<path d="M337.54,452.45L342.54,452.45L340.04,447.70Z" fill="#ff8000"/>
<path d="M352.65,450.47L357.65,450.47L355.15,445.72Z" fill="#ff8000"/>
<path d="M367.76,456.80L372.76,456.80L370.26,452.05Z" fill="#ff8000"/>
<path d="M382.88,459.17L387.88,459.17L385.38,454.42Z" fill="#ff8000"/>
<path d="M397.99,471.83L402.99,471.83L400.49,467.08Z" fill="#ff8000"/>
<path d="M413.10,480.53L418.10,480.53L415.60,475.78Z" fill="#ff8000"/>
<polyline points="340.04,451.26 355.15,453.24 370.26,458.38 385.38,463.91 400.49,476.57 415.60,488.04" fill="none" stroke="#ff70a6" stroke-width="1.15" stroke-linejoin="round"/>
<rect x="337.89" y="449.11" width="4.30" height="4.30" fill="#f05f96"/>
<rect x="353.00" y="451.09" width="4.30" height="4.30" fill="#f05f96"/>
<rect x="368.11" y="456.23" width="4.30" height="4.30" fill="#f05f96"/>
<rect x="383.23" y="461.76" width="4.30" height="4.30" fill="#f05f96"/>
<rect x="398.34" y="474.42" width="4.30" height="4.30" fill="#f05f96"/>
<rect x="413.45" y="485.89" width="4.30" height="4.30" fill="#f05f96"/>
<polyline points="340.04,458.38 355.15,455.61 370.26,462.33 385.38,469.45 400.49,488.83 415.60,495.95" fill="none" stroke="#ff0d0d" stroke-width="1.5" stroke-linejoin="round"/>
<circle cx="340.04" cy="458.38" r="2.15" fill="#ff0000"/>
<circle cx="355.15" cy="455.61" r="2.15" fill="#ff0000"/>
<circle cx="370.26" cy="462.33" r="2.15" fill="#ff0000"/>
<circle cx="385.38" cy="469.45" r="2.15" fill="#ff0000"/>
<circle cx="400.49" cy="488.83" r="2.15" fill="#ff0000"/>
<circle cx="415.60" cy="495.95" r="2.15" fill="#ff0000"/>
<path d="M333.00,420.30V500.30H427.30" stroke="#000" stroke-width="1.8" fill="none"/>
<path d="M324.20,500.30H333.00" stroke="#000" stroke-width="1.8"/>
<text transform="translate(322.40,503.90) skewX(0.5)" text-anchor="end" font-size="9.8" stroke="#111" stroke-width="0.12">0.0</text>
<path d="M324.20,480.53H333.00" stroke="#000" stroke-width="1.8"/>
<text transform="translate(322.40,484.13) skewX(0.5)" text-anchor="end" font-size="9.8" stroke="#111" stroke-width="0.12">0.5</text>
<path d="M324.20,460.75H333.00" stroke="#000" stroke-width="1.8"/>
<text transform="translate(322.40,464.35) skewX(0.5)" text-anchor="end" font-size="9.8" stroke="#111" stroke-width="0.12">1.0</text>
<path d="M324.20,440.98H333.00" stroke="#000" stroke-width="1.8"/>
<text transform="translate(322.40,444.58) skewX(0.5)" text-anchor="end" font-size="9.8" stroke="#111" stroke-width="0.12">1.5</text>
<path d="M324.20,421.20H333.00" stroke="#000" stroke-width="1.8"/>
<text transform="translate(322.40,424.80) skewX(0.5)" text-anchor="end" font-size="9.8" stroke="#111" stroke-width="0.12">2.0</text>
<path d="M340.30,500.30V509.50" stroke="#000" stroke-width="1.8"/>
<text transform="translate(340.30,520.60) skewX(0.5)" text-anchor="middle" font-size="9.8" stroke="#111" stroke-width="0.12">10<tspan font-size="6.4" dx="0.5" dy="-2.4" stroke-width="0">-2</tspan></text>
<path d="M365.40,500.30V509.50" stroke="#000" stroke-width="1.8"/>
<text transform="translate(365.40,520.60) skewX(0.5)" text-anchor="middle" font-size="9.8" stroke="#111" stroke-width="0.12">10<tspan font-size="6.4" dx="0.5" dy="-2.4" stroke-width="0">-1</tspan></text>
<path d="M390.50,500.30V509.50" stroke="#000" stroke-width="1.8"/>
<text transform="translate(390.50,520.60) skewX(0.5)" text-anchor="middle" font-size="9.8" stroke="#111" stroke-width="0.12">10<tspan font-size="6.4" dx="0.5" dy="-2.4" stroke-width="0">0</tspan></text>
<path d="M415.60,500.30V509.50" stroke="#000" stroke-width="1.8"/>
<text transform="translate(415.60,520.60) skewX(0.5)" text-anchor="middle" font-size="9.8" stroke="#111" stroke-width="0.12">10<tspan font-size="6.4" dx="0.5" dy="-2.4" stroke-width="0">1</tspan></text>
<text transform="translate(506.60,410.50) skewX(0.5)" text-anchor="middle" font-size="9.6" stroke="#111" stroke-width="0.12">vs MR78</text>
<polyline points="467.14,457.19 482.25,459.56 497.36,463.91 512.48,475.38 527.59,483.69 542.70,487.64" fill="none" stroke="#a8a8a8" stroke-width="1.3" stroke-linejoin="round"/>
<path d="M464.74,459.47L469.54,459.47L467.14,454.91Z" fill="#999999"/>
<path d="M479.85,461.84L484.65,461.84L482.25,457.28Z" fill="#999999"/>
<path d="M494.96,466.19L499.76,466.19L497.36,461.63Z" fill="#999999"/>
<path d="M510.08,477.66L514.88,477.66L512.48,473.10Z" fill="#999999"/>
<path d="M525.19,485.97L529.99,485.97L527.59,481.41Z" fill="#999999"/>
<path d="M540.30,489.92L545.10,489.92L542.70,485.36Z" fill="#999999"/>
<polyline points="467.14,455.21 482.25,458.77 497.36,461.15 512.48,471.43 527.59,481.32 542.70,486.06" fill="none" stroke="#555555" stroke-width="1.7" stroke-linejoin="round"/>
<path d="M464.34,452.55L469.94,452.55L467.14,457.87Z" fill="#333333"/>
<path d="M479.45,456.11L485.05,456.11L482.25,461.43Z" fill="#333333"/>
<path d="M494.56,458.49L500.16,458.49L497.36,463.81Z" fill="#333333"/>
<path d="M509.68,468.77L515.28,468.77L512.48,474.09Z" fill="#333333"/>
<path d="M524.79,478.66L530.39,478.66L527.59,483.98Z" fill="#333333"/>
<path d="M539.90,483.40L545.50,483.40L542.70,488.72Z" fill="#333333"/>
<polyline points="467.14,448.49 482.25,457.19 497.36,459.96 512.48,463.91 527.59,465.10 542.70,463.12" fill="none" stroke="#2afafa" stroke-width="1.05" stroke-linejoin="round"/>
<rect x="464.34" y="445.69" width="5.60" height="5.60" fill="#1ef5f5"/>
<rect x="479.45" y="454.39" width="5.60" height="5.60" fill="#1ef5f5"/>
<rect x="494.56" y="457.16" width="5.60" height="5.60" fill="#1ef5f5"/>
<rect x="509.68" y="461.11" width="5.60" height="5.60" fill="#1ef5f5"/>
<rect x="524.79" y="462.30" width="5.60" height="5.60" fill="#1ef5f5"/>
<rect x="539.90" y="460.32" width="5.60" height="5.60" fill="#1ef5f5"/>
<polyline points="467.14,450.86 482.25,457.19 497.36,458.77 512.48,463.12 527.59,466.68 542.70,462.33" fill="none" stroke="#3a3aff" stroke-width="1.05" stroke-linejoin="round"/>
<circle cx="467.14" cy="450.86" r="2.30" fill="#0000ff"/>
<circle cx="482.25" cy="457.19" r="2.30" fill="#0000ff"/>
<circle cx="497.36" cy="458.77" r="2.30" fill="#0000ff"/>
<circle cx="512.48" cy="463.12" r="2.30" fill="#0000ff"/>
<circle cx="527.59" cy="466.68" r="2.30" fill="#0000ff"/>
<circle cx="542.70" cy="462.33" r="2.30" fill="#0000ff"/>
<polyline points="467.14,450.07 482.25,454.42 497.36,454.82 512.48,457.19 527.59,458.77 542.70,462.33" fill="none" stroke="#22b822" stroke-width="1.45" stroke-linejoin="round"/>
<path d="M464.74,447.79L469.54,447.79L467.14,452.35Z" fill="#00a800"/>
<path d="M479.85,452.14L484.65,452.14L482.25,456.70Z" fill="#00a800"/>
<path d="M494.96,452.54L499.76,452.54L497.36,457.10Z" fill="#00a800"/>
<path d="M510.08,454.91L514.88,454.91L512.48,459.47Z" fill="#00a800"/>
<path d="M525.19,456.49L529.99,456.49L527.59,461.05Z" fill="#00a800"/>
<path d="M540.30,460.05L545.10,460.05L542.70,464.61Z" fill="#00a800"/>
<polyline points="467.14,449.28 482.25,455.21 497.36,454.82 512.48,457.59 527.59,459.17 542.70,462.33" fill="none" stroke="#1ef51e" stroke-width="1.4" stroke-linejoin="round"/>
<path d="M467.14,446.98L469.44,449.28L467.14,451.58L464.84,449.28Z" fill="#00f000"/>
<path d="M482.25,452.91L484.55,455.21L482.25,457.51L479.95,455.21Z" fill="#00f000"/>
<path d="M497.36,452.52L499.66,454.82L497.36,457.12L495.06,454.82Z" fill="#00f000"/>
<path d="M512.48,455.29L514.78,457.59L512.48,459.89L510.18,457.59Z" fill="#00f000"/>
<path d="M527.59,456.87L529.89,459.17L527.59,461.47L525.29,459.17Z" fill="#00f000"/>
<path d="M542.70,460.03L545.00,462.33L542.70,464.63L540.40,462.33Z" fill="#00f000"/>
<polyline points="467.14,451.65 482.25,455.61 497.36,451.65 512.48,455.61 527.59,455.21 542.70,457.19" fill="none" stroke="#ff9530" stroke-width="1.55" stroke-linejoin="round"/>
<path d="M464.64,454.03L469.64,454.03L467.14,449.28Z" fill="#ff8000"/>
<path d="M479.75,457.98L484.75,457.98L482.25,453.23Z" fill="#ff8000"/>
<path d="M494.86,454.03L499.86,454.03L497.36,449.28Z" fill="#ff8000"/>
<path d="M509.98,457.98L514.98,457.98L512.48,453.23Z" fill="#ff8000"/>
<path d="M525.09,457.59L530.09,457.59L527.59,452.84Z" fill="#ff8000"/>
<path d="M540.20,459.57L545.20,459.57L542.70,454.82Z" fill="#ff8000"/>
<polyline points="467.14,454.82 482.25,458.77 497.36,457.19 512.48,453.24 527.59,456.40 542.70,457.59" fill="none" stroke="#ff70a6" stroke-width="1.15" stroke-linejoin="round"/>
<rect x="464.99" y="452.67" width="4.30" height="4.30" fill="#f05f96"/>
<rect x="480.10" y="456.62" width="4.30" height="4.30" fill="#f05f96"/>
<rect x="495.21" y="455.04" width="4.30" height="4.30" fill="#f05f96"/>
<rect x="510.33" y="451.09" width="4.30" height="4.30" fill="#f05f96"/>
<rect x="525.44" y="454.25" width="4.30" height="4.30" fill="#f05f96"/>
<rect x="540.55" y="455.44" width="4.30" height="4.30" fill="#f05f96"/>
<polyline points="467.14,462.33 482.25,455.61 497.36,455.21 512.48,458.77 527.59,459.56 542.70,458.77" fill="none" stroke="#ff0d0d" stroke-width="1.5" stroke-linejoin="round"/>
<circle cx="467.14" cy="462.33" r="2.15" fill="#ff0000"/>
<circle cx="482.25" cy="455.61" r="2.15" fill="#ff0000"/>
<circle cx="497.36" cy="455.21" r="2.15" fill="#ff0000"/>
<circle cx="512.48" cy="458.77" r="2.15" fill="#ff0000"/>
<circle cx="527.59" cy="459.56" r="2.15" fill="#ff0000"/>
<circle cx="542.70" cy="458.77" r="2.15" fill="#ff0000"/>
<path d="M460.10,420.30V500.30H554.40" stroke="#000" stroke-width="1.8" fill="none"/>
<path d="M451.30,500.30H460.10" stroke="#000" stroke-width="1.8"/>
<text transform="translate(449.50,503.90) skewX(0.5)" text-anchor="end" font-size="9.8" stroke="#111" stroke-width="0.12">0.0</text>
<path d="M451.30,480.53H460.10" stroke="#000" stroke-width="1.8"/>
<text transform="translate(449.50,484.13) skewX(0.5)" text-anchor="end" font-size="9.8" stroke="#111" stroke-width="0.12">0.5</text>
<path d="M451.30,460.75H460.10" stroke="#000" stroke-width="1.8"/>
<text transform="translate(449.50,464.35) skewX(0.5)" text-anchor="end" font-size="9.8" stroke="#111" stroke-width="0.12">1.0</text>
<path d="M451.30,440.98H460.10" stroke="#000" stroke-width="1.8"/>
<text transform="translate(449.50,444.58) skewX(0.5)" text-anchor="end" font-size="9.8" stroke="#111" stroke-width="0.12">1.5</text>
<path d="M451.30,421.20H460.10" stroke="#000" stroke-width="1.8"/>
<text transform="translate(449.50,424.80) skewX(0.5)" text-anchor="end" font-size="9.8" stroke="#111" stroke-width="0.12">2.0</text>
<path d="M467.40,500.30V509.50" stroke="#000" stroke-width="1.8"/>
<text transform="translate(467.40,520.60) skewX(0.5)" text-anchor="middle" font-size="9.8" stroke="#111" stroke-width="0.12">10<tspan font-size="6.4" dx="0.5" dy="-2.4" stroke-width="0">-2</tspan></text>
<path d="M492.50,500.30V509.50" stroke="#000" stroke-width="1.8"/>
<text transform="translate(492.50,520.60) skewX(0.5)" text-anchor="middle" font-size="9.8" stroke="#111" stroke-width="0.12">10<tspan font-size="6.4" dx="0.5" dy="-2.4" stroke-width="0">-1</tspan></text>
<path d="M517.60,500.30V509.50" stroke="#000" stroke-width="1.8"/>
<text transform="translate(517.60,520.60) skewX(0.5)" text-anchor="middle" font-size="9.8" stroke="#111" stroke-width="0.12">10<tspan font-size="6.4" dx="0.5" dy="-2.4" stroke-width="0">0</tspan></text>
<path d="M542.70,500.30V509.50" stroke="#000" stroke-width="1.8"/>
<text transform="translate(542.70,520.60) skewX(0.5)" text-anchor="middle" font-size="9.8" stroke="#111" stroke-width="0.12">10<tspan font-size="6.4" dx="0.5" dy="-2.4" stroke-width="0">1</tspan></text>
<text transform="translate(117.20,540.50) skewX(0.5)" text-anchor="middle" font-size="9.6" stroke="#111" stroke-width="0.12">vs AGP-R4</text>
<polyline points="77.74,582.44 92.85,575.72 107.96,586.40 123.08,585.21 138.19,587.19 153.30,593.52" fill="none" stroke="#a8a8a8" stroke-width="1.3" stroke-linejoin="round"/>
<path d="M75.34,584.72L80.14,584.72L77.74,580.16Z" fill="#999999"/>
<path d="M90.45,578.00L95.25,578.00L92.85,573.44Z" fill="#999999"/>
<path d="M105.56,588.68L110.36,588.68L107.96,584.12Z" fill="#999999"/>
<path d="M120.68,587.49L125.48,587.49L123.08,582.93Z" fill="#999999"/>
<path d="M135.79,589.47L140.59,589.47L138.19,584.91Z" fill="#999999"/>
<path d="M150.90,595.80L155.70,595.80L153.30,591.24Z" fill="#999999"/>
<polyline points="77.74,589.56 92.85,587.98 107.96,586.40 123.08,584.42 138.19,585.61 153.30,593.91" fill="none" stroke="#555555" stroke-width="1.7" stroke-linejoin="round"/>
<path d="M74.94,586.90L80.54,586.90L77.74,592.22Z" fill="#333333"/>
<path d="M90.05,585.32L95.65,585.32L92.85,590.64Z" fill="#333333"/>
<path d="M105.16,583.74L110.76,583.74L107.96,589.06Z" fill="#333333"/>
<path d="M120.28,581.76L125.88,581.76L123.08,587.08Z" fill="#333333"/>
<path d="M135.39,582.95L140.99,582.95L138.19,588.27Z" fill="#333333"/>
<path d="M150.50,591.25L156.10,591.25L153.30,596.57Z" fill="#333333"/>
<polyline points="77.74,587.19 92.85,592.33 107.96,599.06 123.08,611.32 138.19,618.43 153.30,620.81" fill="none" stroke="#2afafa" stroke-width="1.05" stroke-linejoin="round"/>
<rect x="74.94" y="584.39" width="5.60" height="5.60" fill="#1ef5f5"/>
<rect x="90.05" y="589.53" width="5.60" height="5.60" fill="#1ef5f5"/>
<rect x="105.16" y="596.26" width="5.60" height="5.60" fill="#1ef5f5"/>
<rect x="120.28" y="608.52" width="5.60" height="5.60" fill="#1ef5f5"/>
<rect x="135.39" y="615.63" width="5.60" height="5.60" fill="#1ef5f5"/>
<rect x="150.50" y="618.01" width="5.60" height="5.60" fill="#1ef5f5"/>
<polyline points="77.74,592.33 92.85,598.26 107.96,602.62 123.08,616.85 138.19,623.58 153.30,624.76" fill="none" stroke="#3a3aff" stroke-width="1.05" stroke-linejoin="round"/>
<circle cx="77.74" cy="592.33" r="2.30" fill="#0000ff"/>
<circle cx="92.85" cy="598.26" r="2.30" fill="#0000ff"/>
<circle cx="107.96" cy="602.62" r="2.30" fill="#0000ff"/>
<circle cx="123.08" cy="616.85" r="2.30" fill="#0000ff"/>
<circle cx="138.19" cy="623.58" r="2.30" fill="#0000ff"/>
<circle cx="153.30" cy="624.76" r="2.30" fill="#0000ff"/>
<polyline points="77.74,588.77 92.85,588.38 107.96,593.12 123.08,600.64 138.19,612.90 153.30,619.62" fill="none" stroke="#22b822" stroke-width="1.45" stroke-linejoin="round"/>
<path d="M75.34,586.49L80.14,586.49L77.74,591.05Z" fill="#00a800"/>
<path d="M90.45,586.10L95.25,586.10L92.85,590.66Z" fill="#00a800"/>
<path d="M105.56,590.84L110.36,590.84L107.96,595.40Z" fill="#00a800"/>
<path d="M120.68,598.36L125.48,598.36L123.08,602.92Z" fill="#00a800"/>
<path d="M135.79,610.62L140.59,610.62L138.19,615.18Z" fill="#00a800"/>
<path d="M150.90,617.34L155.70,617.34L153.30,621.90Z" fill="#00a800"/>
<polyline points="77.74,593.12 92.85,601.03 107.96,594.70 123.08,601.03 138.19,612.11 153.30,617.25" fill="none" stroke="#1ef51e" stroke-width="1.4" stroke-linejoin="round"/>
<path d="M77.74,590.82L80.04,593.12L77.74,595.42L75.44,593.12Z" fill="#00f000"/>
<path d="M92.85,598.73L95.15,601.03L92.85,603.33L90.55,601.03Z" fill="#00f000"/>
<path d="M107.96,592.40L110.26,594.70L107.96,597.00L105.66,594.70Z" fill="#00f000"/>
<path d="M123.08,598.73L125.38,601.03L123.08,603.33L120.78,601.03Z" fill="#00f000"/>
<path d="M138.19,609.81L140.49,612.11L138.19,614.41L135.89,612.11Z" fill="#00f000"/>
<path d="M153.30,614.95L155.60,617.25L153.30,619.55L151.00,617.25Z" fill="#00f000"/>
<polyline points="77.74,593.52 92.85,593.91 107.96,589.56 123.08,586.40 138.19,590.75 153.30,597.08" fill="none" stroke="#ff9530" stroke-width="1.55" stroke-linejoin="round"/>
<path d="M75.24,595.89L80.24,595.89L77.74,591.14Z" fill="#ff8000"/>
<path d="M90.35,596.29L95.35,596.29L92.85,591.54Z" fill="#ff8000"/>
<path d="M105.46,591.94L110.46,591.94L107.96,587.19Z" fill="#ff8000"/>
<path d="M120.58,588.77L125.58,588.77L123.08,584.02Z" fill="#ff8000"/>
<path d="M135.69,593.12L140.69,593.12L138.19,588.38Z" fill="#ff8000"/>
<path d="M150.80,599.45L155.80,599.45L153.30,594.70Z" fill="#ff8000"/>
<polyline points="77.74,590.75 92.85,591.94 107.96,594.70 123.08,591.54 138.19,593.12 153.30,593.91" fill="none" stroke="#ff70a6" stroke-width="1.15" stroke-linejoin="round"/>
<rect x="75.59" y="588.60" width="4.30" height="4.30" fill="#f05f96"/>
<rect x="90.70" y="589.79" width="4.30" height="4.30" fill="#f05f96"/>
<rect x="105.81" y="592.55" width="4.30" height="4.30" fill="#f05f96"/>
<rect x="120.93" y="589.39" width="4.30" height="4.30" fill="#f05f96"/>
<rect x="136.04" y="590.97" width="4.30" height="4.30" fill="#f05f96"/>
<rect x="151.15" y="591.76" width="4.30" height="4.30" fill="#f05f96"/>
<polyline points="77.74,588.77 92.85,584.42 107.96,584.42 123.08,591.15 138.19,596.68 153.30,590.75" fill="none" stroke="#ff0d0d" stroke-width="1.5" stroke-linejoin="round"/>
<circle cx="77.74" cy="588.77" r="2.15" fill="#ff0000"/>
<circle cx="92.85" cy="584.42" r="2.15" fill="#ff0000"/>
<circle cx="107.96" cy="584.42" r="2.15" fill="#ff0000"/>
<circle cx="123.08" cy="591.15" r="2.15" fill="#ff0000"/>
<circle cx="138.19" cy="596.68" r="2.15" fill="#ff0000"/>
<circle cx="153.30" cy="590.75" r="2.15" fill="#ff0000"/>
<path d="M70.70,550.30V630.30H165.00" stroke="#000" stroke-width="1.8" fill="none"/>
<path d="M61.90,630.30H70.70" stroke="#000" stroke-width="1.8"/>
<text transform="translate(60.10,633.90) skewX(0.5)" text-anchor="end" font-size="9.8" stroke="#111" stroke-width="0.12">0.0</text>
<path d="M61.90,610.52H70.70" stroke="#000" stroke-width="1.8"/>
<text transform="translate(60.10,614.12) skewX(0.5)" text-anchor="end" font-size="9.8" stroke="#111" stroke-width="0.12">0.5</text>
<path d="M61.90,590.75H70.70" stroke="#000" stroke-width="1.8"/>
<text transform="translate(60.10,594.35) skewX(0.5)" text-anchor="end" font-size="9.8" stroke="#111" stroke-width="0.12">1.0</text>
<path d="M61.90,570.97H70.70" stroke="#000" stroke-width="1.8"/>
<text transform="translate(60.10,574.57) skewX(0.5)" text-anchor="end" font-size="9.8" stroke="#111" stroke-width="0.12">1.5</text>
<path d="M61.90,551.20H70.70" stroke="#000" stroke-width="1.8"/>
<text transform="translate(60.10,554.80) skewX(0.5)" text-anchor="end" font-size="9.8" stroke="#111" stroke-width="0.12">2.0</text>
<path d="M78.00,630.30V639.50" stroke="#000" stroke-width="1.8"/>
<text transform="translate(78.00,650.60) skewX(0.5)" text-anchor="middle" font-size="9.8" stroke="#111" stroke-width="0.12">10<tspan font-size="6.4" dx="0.5" dy="-2.4" stroke-width="0">-2</tspan></text>
<path d="M103.10,630.30V639.50" stroke="#000" stroke-width="1.8"/>
<text transform="translate(103.10,650.60) skewX(0.5)" text-anchor="middle" font-size="9.8" stroke="#111" stroke-width="0.12">10<tspan font-size="6.4" dx="0.5" dy="-2.4" stroke-width="0">-1</tspan></text>
<path d="M128.20,630.30V639.50" stroke="#000" stroke-width="1.8"/>
<text transform="translate(128.20,650.60) skewX(0.5)" text-anchor="middle" font-size="9.8" stroke="#111" stroke-width="0.12">10<tspan font-size="6.4" dx="0.5" dy="-2.4" stroke-width="0">0</tspan></text>
<path d="M153.30,630.30V639.50" stroke="#000" stroke-width="1.8"/>
<text transform="translate(153.30,650.60) skewX(0.5)" text-anchor="middle" font-size="9.8" stroke="#111" stroke-width="0.12">10<tspan font-size="6.4" dx="0.5" dy="-2.4" stroke-width="0">1</tspan></text>
<text transform="translate(247.20,540.50) skewX(0.5)" text-anchor="middle" font-size="9.6" stroke="#111" stroke-width="0.12">vs AGP-R5</text>
<polyline points="207.74,588.38 222.85,588.38 237.96,587.19 253.08,589.56 268.19,593.91 283.30,600.64" fill="none" stroke="#a8a8a8" stroke-width="1.3" stroke-linejoin="round"/>
<path d="M205.34,590.66L210.14,590.66L207.74,586.10Z" fill="#999999"/>
<path d="M220.45,590.66L225.25,590.66L222.85,586.10Z" fill="#999999"/>
<path d="M235.56,589.47L240.36,589.47L237.96,584.91Z" fill="#999999"/>
<path d="M250.68,591.84L255.48,591.84L253.08,587.28Z" fill="#999999"/>
<path d="M265.79,596.19L270.59,596.19L268.19,591.63Z" fill="#999999"/>
<path d="M280.90,602.92L285.70,602.92L283.30,598.36Z" fill="#999999"/>
<polyline points="207.74,588.38 222.85,587.98 237.96,587.19 253.08,588.38 268.19,591.54 283.30,597.47" fill="none" stroke="#555555" stroke-width="1.7" stroke-linejoin="round"/>
<path d="M204.94,585.72L210.54,585.72L207.74,591.04Z" fill="#333333"/>
<path d="M220.05,585.32L225.65,585.32L222.85,590.64Z" fill="#333333"/>
<path d="M235.16,584.53L240.76,584.53L237.96,589.85Z" fill="#333333"/>
<path d="M250.28,585.72L255.88,585.72L253.08,591.04Z" fill="#333333"/>
<path d="M265.39,588.88L270.99,588.88L268.19,594.20Z" fill="#333333"/>
<path d="M280.50,594.81L286.10,594.81L283.30,600.13Z" fill="#333333"/>
<polyline points="207.74,589.96 222.85,589.56 237.96,598.26 253.08,614.08 268.19,620.02 283.30,621.99" fill="none" stroke="#2afafa" stroke-width="1.05" stroke-linejoin="round"/>
<rect x="204.94" y="587.16" width="5.60" height="5.60" fill="#1ef5f5"/>
<rect x="220.05" y="586.76" width="5.60" height="5.60" fill="#1ef5f5"/>
<rect x="235.16" y="595.46" width="5.60" height="5.60" fill="#1ef5f5"/>
<rect x="250.28" y="611.28" width="5.60" height="5.60" fill="#1ef5f5"/>
<rect x="265.39" y="617.22" width="5.60" height="5.60" fill="#1ef5f5"/>
<rect x="280.50" y="619.19" width="5.60" height="5.60" fill="#1ef5f5"/>
<polyline points="207.74,585.21 222.85,592.73 237.96,603.41 253.08,616.85 268.19,624.37 283.30,625.16" fill="none" stroke="#3a3aff" stroke-width="1.05" stroke-linejoin="round"/>
<circle cx="207.74" cy="585.21" r="2.30" fill="#0000ff"/>
<circle cx="222.85" cy="592.73" r="2.30" fill="#0000ff"/>
<circle cx="237.96" cy="603.41" r="2.30" fill="#0000ff"/>
<circle cx="253.08" cy="616.85" r="2.30" fill="#0000ff"/>
<circle cx="268.19" cy="624.37" r="2.30" fill="#0000ff"/>
<circle cx="283.30" cy="625.16" r="2.30" fill="#0000ff"/>
<polyline points="207.74,583.24 222.85,585.61 237.96,588.38 253.08,601.82 268.19,613.69 283.30,619.23" fill="none" stroke="#22b822" stroke-width="1.45" stroke-linejoin="round"/>
<path d="M205.34,580.96L210.14,580.96L207.74,585.52Z" fill="#00a800"/>
<path d="M220.45,583.33L225.25,583.33L222.85,587.89Z" fill="#00a800"/>
<path d="M235.56,586.10L240.36,586.10L237.96,590.66Z" fill="#00a800"/>
<path d="M250.68,599.54L255.48,599.54L253.08,604.10Z" fill="#00a800"/>
<path d="M265.79,611.41L270.59,611.41L268.19,615.97Z" fill="#00a800"/>
<path d="M280.90,616.95L285.70,616.95L283.30,621.51Z" fill="#00a800"/>
<polyline points="207.74,585.21 222.85,587.19 237.96,593.91 253.08,602.22 268.19,614.08 283.30,618.43" fill="none" stroke="#1ef51e" stroke-width="1.4" stroke-linejoin="round"/>
<path d="M207.74,582.91L210.04,585.21L207.74,587.51L205.44,585.21Z" fill="#00f000"/>
<path d="M222.85,584.89L225.15,587.19L222.85,589.49L220.55,587.19Z" fill="#00f000"/>
<path d="M237.96,591.61L240.26,593.91L237.96,596.21L235.66,593.91Z" fill="#00f000"/>
<path d="M253.08,599.92L255.38,602.22L253.08,604.52L250.78,602.22Z" fill="#00f000"/>
<path d="M268.19,611.78L270.49,614.08L268.19,616.38L265.89,614.08Z" fill="#00f000"/>
<path d="M283.30,616.13L285.60,618.43L283.30,620.73L281.00,618.43Z" fill="#00f000"/>
<polyline points="207.74,588.38 222.85,587.19 237.96,587.19 253.08,589.17 268.19,589.96 283.30,592.33" fill="none" stroke="#ff9530" stroke-width="1.55" stroke-linejoin="round"/>
<path d="M205.24,590.75L210.24,590.75L207.74,586.00Z" fill="#ff8000"/>
<path d="M220.35,589.57L225.35,589.57L222.85,584.82Z" fill="#ff8000"/>
<path d="M235.46,589.57L240.46,589.57L237.96,584.82Z" fill="#ff8000"/>
<path d="M250.58,591.54L255.58,591.54L253.08,586.79Z" fill="#ff8000"/>
<path d="M265.69,592.33L270.69,592.33L268.19,587.58Z" fill="#ff8000"/>
<path d="M280.80,594.71L285.80,594.71L283.30,589.96Z" fill="#ff8000"/>
<polyline points="207.74,589.56 222.85,588.38 237.96,587.19 253.08,585.21 268.19,589.96 283.30,593.52" fill="none" stroke="#ff70a6" stroke-width="1.15" stroke-linejoin="round"/>
<rect x="205.59" y="587.41" width="4.30" height="4.30" fill="#f05f96"/>
<rect x="220.70" y="586.23" width="4.30" height="4.30" fill="#f05f96"/>
<rect x="235.81" y="585.04" width="4.30" height="4.30" fill="#f05f96"/>
<rect x="250.93" y="583.06" width="4.30" height="4.30" fill="#f05f96"/>
<rect x="266.04" y="587.81" width="4.30" height="4.30" fill="#f05f96"/>
<rect x="281.15" y="591.37" width="4.30" height="4.30" fill="#f05f96"/>
<polyline points="207.74,587.19 222.85,582.44 237.96,586.40 253.08,586.40 268.19,590.75 283.30,585.61" fill="none" stroke="#ff0d0d" stroke-width="1.5" stroke-linejoin="round"/>
<circle cx="207.74" cy="587.19" r="2.15" fill="#ff0000"/>
<circle cx="222.85" cy="582.44" r="2.15" fill="#ff0000"/>
<circle cx="237.96" cy="586.40" r="2.15" fill="#ff0000"/>
<circle cx="253.08" cy="586.40" r="2.15" fill="#ff0000"/>
<circle cx="268.19" cy="590.75" r="2.15" fill="#ff0000"/>
<circle cx="283.30" cy="585.61" r="2.15" fill="#ff0000"/>
<path d="M200.70,550.30V630.30H295.00" stroke="#000" stroke-width="1.8" fill="none"/>
<path d="M191.90,630.30H200.70" stroke="#000" stroke-width="1.8"/>
<text transform="translate(190.10,633.90) skewX(0.5)" text-anchor="end" font-size="9.8" stroke="#111" stroke-width="0.12">0.0</text>
<path d="M191.90,610.52H200.70" stroke="#000" stroke-width="1.8"/>
<text transform="translate(190.10,614.12) skewX(0.5)" text-anchor="end" font-size="9.8" stroke="#111" stroke-width="0.12">0.5</text>
<path d="M191.90,590.75H200.70" stroke="#000" stroke-width="1.8"/>
<text transform="translate(190.10,594.35) skewX(0.5)" text-anchor="end" font-size="9.8" stroke="#111" stroke-width="0.12">1.0</text>
<path d="M191.90,570.97H200.70" stroke="#000" stroke-width="1.8"/>
<text transform="translate(190.10,574.57) skewX(0.5)" text-anchor="end" font-size="9.8" stroke="#111" stroke-width="0.12">1.5</text>
<path d="M191.90,551.20H200.70" stroke="#000" stroke-width="1.8"/>
<text transform="translate(190.10,554.80) skewX(0.5)" text-anchor="end" font-size="9.8" stroke="#111" stroke-width="0.12">2.0</text>
<path d="M208.00,630.30V639.50" stroke="#000" stroke-width="1.8"/>
<text transform="translate(208.00,650.60) skewX(0.5)" text-anchor="middle" font-size="9.8" stroke="#111" stroke-width="0.12">10<tspan font-size="6.4" dx="0.5" dy="-2.4" stroke-width="0">-2</tspan></text>
<path d="M233.10,630.30V639.50" stroke="#000" stroke-width="1.8"/>
<text transform="translate(233.10,650.60) skewX(0.5)" text-anchor="middle" font-size="9.8" stroke="#111" stroke-width="0.12">10<tspan font-size="6.4" dx="0.5" dy="-2.4" stroke-width="0">-1</tspan></text>
<path d="M258.20,630.30V639.50" stroke="#000" stroke-width="1.8"/>
<text transform="translate(258.20,650.60) skewX(0.5)" text-anchor="middle" font-size="9.8" stroke="#111" stroke-width="0.12">10<tspan font-size="6.4" dx="0.5" dy="-2.4" stroke-width="0">0</tspan></text>
<path d="M283.30,630.30V639.50" stroke="#000" stroke-width="1.8"/>
<text transform="translate(283.30,650.60) skewX(0.5)" text-anchor="middle" font-size="9.8" stroke="#111" stroke-width="0.12">10<tspan font-size="6.4" dx="0.5" dy="-2.4" stroke-width="0">1</tspan></text>
<text transform="translate(377.20,540.50) skewX(0.5)" text-anchor="middle" font-size="9.6" stroke="#111" stroke-width="0.12">vs AGP-R11</text>
<polyline points="337.74,559.11 352.85,559.51 367.96,558.32 383.08,558.32 398.19,567.02 413.30,580.47" fill="none" stroke="#a8a8a8" stroke-width="1.3" stroke-linejoin="round"/>
<path d="M335.34,561.39L340.14,561.39L337.74,556.83Z" fill="#999999"/>
<path d="M350.45,561.79L355.25,561.79L352.85,557.23Z" fill="#999999"/>
<path d="M365.56,560.60L370.36,560.60L367.96,556.04Z" fill="#999999"/>
<path d="M380.68,560.60L385.48,560.60L383.08,556.04Z" fill="#999999"/>
<path d="M395.79,569.30L400.59,569.30L398.19,564.74Z" fill="#999999"/>
<path d="M410.90,582.75L415.70,582.75L413.30,578.19Z" fill="#999999"/>
<polyline points="337.74,557.92 352.85,559.51 367.96,555.95 383.08,556.74 398.19,566.62 413.30,576.51" fill="none" stroke="#555555" stroke-width="1.7" stroke-linejoin="round"/>
<path d="M334.94,555.26L340.54,555.26L337.74,560.58Z" fill="#333333"/>
<path d="M350.05,556.85L355.65,556.85L352.85,562.17Z" fill="#333333"/>
<path d="M365.16,553.29L370.76,553.29L367.96,558.61Z" fill="#333333"/>
<path d="M380.28,554.08L385.88,554.08L383.08,559.40Z" fill="#333333"/>
<path d="M395.39,563.96L400.99,563.96L398.19,569.28Z" fill="#333333"/>
<path d="M410.50,573.85L416.10,573.85L413.30,579.17Z" fill="#333333"/>
<polyline points="337.74,560.30 352.85,563.86 367.96,577.30 383.08,593.91 398.19,605.78 413.30,610.92" fill="none" stroke="#2afafa" stroke-width="1.05" stroke-linejoin="round"/>
<rect x="334.94" y="557.50" width="5.60" height="5.60" fill="#1ef5f5"/>
<rect x="350.05" y="561.06" width="5.60" height="5.60" fill="#1ef5f5"/>
<rect x="365.16" y="574.50" width="5.60" height="5.60" fill="#1ef5f5"/>
<rect x="380.28" y="591.11" width="5.60" height="5.60" fill="#1ef5f5"/>
<rect x="395.39" y="602.98" width="5.60" height="5.60" fill="#1ef5f5"/>
<rect x="410.50" y="608.12" width="5.60" height="5.60" fill="#1ef5f5"/>
<polyline points="337.74,563.46 352.85,570.18 367.96,580.07 383.08,602.62 398.19,614.48 413.30,617.25" fill="none" stroke="#3a3aff" stroke-width="1.05" stroke-linejoin="round"/>
<circle cx="337.74" cy="563.46" r="2.30" fill="#0000ff"/>
<circle cx="352.85" cy="570.18" r="2.30" fill="#0000ff"/>
<circle cx="367.96" cy="580.07" r="2.30" fill="#0000ff"/>
<circle cx="383.08" cy="602.62" r="2.30" fill="#0000ff"/>
<circle cx="398.19" cy="614.48" r="2.30" fill="#0000ff"/>
<circle cx="413.30" cy="617.25" r="2.30" fill="#0000ff"/>
<polyline points="337.74,562.27 352.85,559.51 367.96,567.42 383.08,579.28 398.19,596.68 413.30,605.38" fill="none" stroke="#22b822" stroke-width="1.45" stroke-linejoin="round"/>
<path d="M335.34,559.99L340.14,559.99L337.74,564.55Z" fill="#00a800"/>
<path d="M350.45,557.23L355.25,557.23L352.85,561.79Z" fill="#00a800"/>
<path d="M365.56,565.14L370.36,565.14L367.96,569.70Z" fill="#00a800"/>
<path d="M380.68,577.00L385.48,577.00L383.08,581.56Z" fill="#00a800"/>
<path d="M395.79,594.40L400.59,594.40L398.19,598.96Z" fill="#00a800"/>
<path d="M410.90,603.10L415.70,603.10L413.30,607.66Z" fill="#00a800"/>
<polyline points="337.74,562.67 352.85,565.83 367.96,567.02 383.08,579.28 398.19,594.70 413.30,604.20" fill="none" stroke="#1ef51e" stroke-width="1.4" stroke-linejoin="round"/>
<path d="M337.74,560.37L340.04,562.67L337.74,564.97L335.44,562.67Z" fill="#00f000"/>
<path d="M352.85,563.53L355.15,565.83L352.85,568.13L350.55,565.83Z" fill="#00f000"/>
<path d="M367.96,564.72L370.26,567.02L367.96,569.32L365.66,567.02Z" fill="#00f000"/>
<path d="M383.08,576.98L385.38,579.28L383.08,581.58L380.78,579.28Z" fill="#00f000"/>
<path d="M398.19,592.40L400.49,594.70L398.19,597.00L395.89,594.70Z" fill="#00f000"/>
<path d="M413.30,601.90L415.60,604.20L413.30,606.50L411.00,604.20Z" fill="#00f000"/>
<polyline points="337.74,557.13 352.85,555.15 367.96,557.92 383.08,559.51 398.19,566.62 413.30,563.46" fill="none" stroke="#ff9530" stroke-width="1.55" stroke-linejoin="round"/>
<path d="M335.24,559.51L340.24,559.51L337.74,554.76Z" fill="#ff8000"/>
<path d="M350.35,557.53L355.35,557.53L352.85,552.78Z" fill="#ff8000"/>
<path d="M365.46,560.30L370.46,560.30L367.96,555.55Z" fill="#ff8000"/>
<path d="M380.58,561.88L385.58,561.88L383.08,557.13Z" fill="#ff8000"/>
<path d="M395.69,569.00L400.69,569.00L398.19,564.25Z" fill="#ff8000"/>
<path d="M410.80,565.84L415.80,565.84L413.30,561.09Z" fill="#ff8000"/>
<polyline points="337.74,559.11 352.85,561.09 367.96,562.27 383.08,562.67 398.19,566.23 413.30,569.00" fill="none" stroke="#ff70a6" stroke-width="1.15" stroke-linejoin="round"/>
<rect x="335.59" y="556.96" width="4.30" height="4.30" fill="#f05f96"/>
<rect x="350.70" y="558.94" width="4.30" height="4.30" fill="#f05f96"/>
<rect x="365.81" y="560.12" width="4.30" height="4.30" fill="#f05f96"/>
<rect x="380.93" y="560.52" width="4.30" height="4.30" fill="#f05f96"/>
<rect x="396.04" y="564.08" width="4.30" height="4.30" fill="#f05f96"/>
<rect x="411.15" y="566.85" width="4.30" height="4.30" fill="#f05f96"/>
<polyline points="337.74,566.23 352.85,557.53 367.96,557.53 383.08,570.97 398.19,569.79 413.30,568.60" fill="none" stroke="#ff0d0d" stroke-width="1.5" stroke-linejoin="round"/>
<circle cx="337.74" cy="566.23" r="2.15" fill="#ff0000"/>
<circle cx="352.85" cy="557.53" r="2.15" fill="#ff0000"/>
<circle cx="367.96" cy="557.53" r="2.15" fill="#ff0000"/>
<circle cx="383.08" cy="570.97" r="2.15" fill="#ff0000"/>
<circle cx="398.19" cy="569.79" r="2.15" fill="#ff0000"/>
<circle cx="413.30" cy="568.60" r="2.15" fill="#ff0000"/>
<path d="M330.70,550.30V630.30H425.00" stroke="#000" stroke-width="1.8" fill="none"/>
<path d="M321.90,630.30H330.70" stroke="#000" stroke-width="1.8"/>
<text transform="translate(320.10,633.90) skewX(0.5)" text-anchor="end" font-size="9.8" stroke="#111" stroke-width="0.12">0.0</text>
<path d="M321.90,610.52H330.70" stroke="#000" stroke-width="1.8"/>
<text transform="translate(320.10,614.12) skewX(0.5)" text-anchor="end" font-size="9.8" stroke="#111" stroke-width="0.12">0.5</text>
<path d="M321.90,590.75H330.70" stroke="#000" stroke-width="1.8"/>
<text transform="translate(320.10,594.35) skewX(0.5)" text-anchor="end" font-size="9.8" stroke="#111" stroke-width="0.12">1.0</text>
<path d="M321.90,570.97H330.70" stroke="#000" stroke-width="1.8"/>
<text transform="translate(320.10,574.57) skewX(0.5)" text-anchor="end" font-size="9.8" stroke="#111" stroke-width="0.12">1.5</text>
<path d="M321.90,551.20H330.70" stroke="#000" stroke-width="1.8"/>
<text transform="translate(320.10,554.80) skewX(0.5)" text-anchor="end" font-size="9.8" stroke="#111" stroke-width="0.12">2.0</text>
<path d="M338.00,630.30V639.50" stroke="#000" stroke-width="1.8"/>
<text transform="translate(338.00,650.60) skewX(0.5)" text-anchor="middle" font-size="9.8" stroke="#111" stroke-width="0.12">10<tspan font-size="6.4" dx="0.5" dy="-2.4" stroke-width="0">-2</tspan></text>
<path d="M363.10,630.30V639.50" stroke="#000" stroke-width="1.8"/>
<text transform="translate(363.10,650.60) skewX(0.5)" text-anchor="middle" font-size="9.8" stroke="#111" stroke-width="0.12">10<tspan font-size="6.4" dx="0.5" dy="-2.4" stroke-width="0">-1</tspan></text>
<path d="M388.20,630.30V639.50" stroke="#000" stroke-width="1.8"/>
<text transform="translate(388.20,650.60) skewX(0.5)" text-anchor="middle" font-size="9.8" stroke="#111" stroke-width="0.12">10<tspan font-size="6.4" dx="0.5" dy="-2.4" stroke-width="0">0</tspan></text>
<path d="M413.30,630.30V639.50" stroke="#000" stroke-width="1.8"/>
<text transform="translate(413.30,650.60) skewX(0.5)" text-anchor="middle" font-size="9.8" stroke="#111" stroke-width="0.12">10<tspan font-size="6.4" dx="0.5" dy="-2.4" stroke-width="0">1</tspan></text>
<text transform="translate(507.00,540.50) skewX(0.5)" text-anchor="middle" font-size="9.6" stroke="#111" stroke-width="0.12">vs AGP-R20</text>
<polyline points="467.54,562.67 482.65,558.71 497.76,565.44 512.88,574.14 527.99,568.21 543.10,578.88" fill="none" stroke="#a8a8a8" stroke-width="1.3" stroke-linejoin="round"/>
<path d="M465.14,564.95L469.94,564.95L467.54,560.39Z" fill="#999999"/>
<path d="M480.25,560.99L485.05,560.99L482.65,556.43Z" fill="#999999"/>
<path d="M495.36,567.72L500.16,567.72L497.76,563.16Z" fill="#999999"/>
<path d="M510.48,576.42L515.28,576.42L512.88,571.86Z" fill="#999999"/>
<path d="M525.59,570.49L530.39,570.49L527.99,565.93Z" fill="#999999"/>
<path d="M540.70,581.16L545.50,581.16L543.10,576.61Z" fill="#999999"/>
<polyline points="467.54,562.67 482.65,555.95 497.76,562.27 512.88,570.97 527.99,572.16 543.10,578.88" fill="none" stroke="#555555" stroke-width="1.7" stroke-linejoin="round"/>
<path d="M464.74,560.01L470.34,560.01L467.54,565.33Z" fill="#333333"/>
<path d="M479.85,553.29L485.45,553.29L482.65,558.61Z" fill="#333333"/>
<path d="M494.96,559.61L500.56,559.61L497.76,564.93Z" fill="#333333"/>
<path d="M510.08,568.31L515.68,568.31L512.88,573.63Z" fill="#333333"/>
<path d="M525.19,569.50L530.79,569.50L527.99,574.82Z" fill="#333333"/>
<path d="M540.30,576.23L545.90,576.23L543.10,581.54Z" fill="#333333"/>
<polyline points="467.54,567.02 482.65,564.65 497.76,577.70 512.88,599.85 527.99,613.29 543.10,616.85" fill="none" stroke="#2afafa" stroke-width="1.05" stroke-linejoin="round"/>
<rect x="464.74" y="564.22" width="5.60" height="5.60" fill="#1ef5f5"/>
<rect x="479.85" y="561.85" width="5.60" height="5.60" fill="#1ef5f5"/>
<rect x="494.96" y="574.90" width="5.60" height="5.60" fill="#1ef5f5"/>
<rect x="510.08" y="597.05" width="5.60" height="5.60" fill="#1ef5f5"/>
<rect x="525.19" y="610.49" width="5.60" height="5.60" fill="#1ef5f5"/>
<rect x="540.30" y="614.05" width="5.60" height="5.60" fill="#1ef5f5"/>
<polyline points="467.54,556.34 482.65,555.95 497.76,579.68 512.88,606.57 527.99,619.23 543.10,622.39" fill="none" stroke="#3a3aff" stroke-width="1.05" stroke-linejoin="round"/>
<circle cx="467.54" cy="556.34" r="2.30" fill="#0000ff"/>
<circle cx="482.65" cy="555.95" r="2.30" fill="#0000ff"/>
<circle cx="497.76" cy="579.68" r="2.30" fill="#0000ff"/>
<circle cx="512.88" cy="606.57" r="2.30" fill="#0000ff"/>
<circle cx="527.99" cy="619.23" r="2.30" fill="#0000ff"/>
<circle cx="543.10" cy="622.39" r="2.30" fill="#0000ff"/>
<polyline points="467.54,551.60 482.65,556.74 497.76,569.00 512.88,582.84 527.99,601.43 543.10,612.90" fill="none" stroke="#22b822" stroke-width="1.45" stroke-linejoin="round"/>
<path d="M465.14,549.32L469.94,549.32L467.54,553.88Z" fill="#00a800"/>
<path d="M480.25,554.46L485.05,554.46L482.65,559.02Z" fill="#00a800"/>
<path d="M495.36,566.72L500.16,566.72L497.76,571.28Z" fill="#00a800"/>
<path d="M510.48,580.56L515.28,580.56L512.88,585.12Z" fill="#00a800"/>
<path d="M525.59,599.15L530.39,599.15L527.99,603.71Z" fill="#00a800"/>
<path d="M540.70,610.62L545.50,610.62L543.10,615.18Z" fill="#00a800"/>
<polyline points="467.54,551.60 482.65,551.60 497.76,558.71 512.88,573.35 527.99,597.47 543.10,608.55" fill="none" stroke="#1ef51e" stroke-width="1.4" stroke-linejoin="round"/>
<path d="M467.54,549.30L469.84,551.60L467.54,553.90L465.24,551.60Z" fill="#00f000"/>
<path d="M482.65,549.30L484.95,551.60L482.65,553.90L480.35,551.60Z" fill="#00f000"/>
<path d="M497.76,556.41L500.06,558.71L497.76,561.01L495.46,558.71Z" fill="#00f000"/>
<path d="M512.88,571.05L515.18,573.35L512.88,575.65L510.58,573.35Z" fill="#00f000"/>
<path d="M527.99,595.17L530.29,597.47L527.99,599.77L525.69,597.47Z" fill="#00f000"/>
<path d="M543.10,606.25L545.40,608.55L543.10,610.85L540.80,608.55Z" fill="#00f000"/>
<polyline points="467.54,563.86 482.65,553.18 497.76,557.92 512.88,560.69 527.99,563.86 543.10,577.70" fill="none" stroke="#ff9530" stroke-width="1.55" stroke-linejoin="round"/>
<path d="M465.04,566.23L470.04,566.23L467.54,561.48Z" fill="#ff8000"/>
<path d="M480.15,555.55L485.15,555.55L482.65,550.80Z" fill="#ff8000"/>
<path d="M495.26,560.30L500.26,560.30L497.76,555.55Z" fill="#ff8000"/>
<path d="M510.38,563.07L515.38,563.07L512.88,558.32Z" fill="#ff8000"/>
<path d="M525.49,566.23L530.49,566.23L527.99,561.48Z" fill="#ff8000"/>
<path d="M540.60,580.07L545.60,580.07L543.10,575.32Z" fill="#ff8000"/>
<polyline points="467.54,553.97 482.65,562.27 497.76,566.62 512.88,562.67 527.99,573.35 543.10,579.28" fill="none" stroke="#ff70a6" stroke-width="1.15" stroke-linejoin="round"/>
<rect x="465.39" y="551.82" width="4.30" height="4.30" fill="#f05f96"/>
<rect x="480.50" y="560.12" width="4.30" height="4.30" fill="#f05f96"/>
<rect x="495.61" y="564.47" width="4.30" height="4.30" fill="#f05f96"/>
<rect x="510.73" y="560.52" width="4.30" height="4.30" fill="#f05f96"/>
<rect x="525.84" y="571.20" width="4.30" height="4.30" fill="#f05f96"/>
<rect x="540.95" y="577.13" width="4.30" height="4.30" fill="#f05f96"/>
<polyline points="467.54,565.04 482.65,557.13 497.76,561.88 512.88,563.86 527.99,580.07 543.10,583.24" fill="none" stroke="#ff0d0d" stroke-width="1.5" stroke-linejoin="round"/>
<circle cx="467.54" cy="565.04" r="2.15" fill="#ff0000"/>
<circle cx="482.65" cy="557.13" r="2.15" fill="#ff0000"/>
<circle cx="497.76" cy="561.88" r="2.15" fill="#ff0000"/>
<circle cx="512.88" cy="563.86" r="2.15" fill="#ff0000"/>
<circle cx="527.99" cy="580.07" r="2.15" fill="#ff0000"/>
<circle cx="543.10" cy="583.24" r="2.15" fill="#ff0000"/>
<path d="M460.50,550.30V630.30H554.80" stroke="#000" stroke-width="1.8" fill="none"/>
<path d="M451.70,630.30H460.50" stroke="#000" stroke-width="1.8"/>
<text transform="translate(449.90,633.90) skewX(0.5)" text-anchor="end" font-size="9.8" stroke="#111" stroke-width="0.12">0.0</text>
<path d="M451.70,610.52H460.50" stroke="#000" stroke-width="1.8"/>
<text transform="translate(449.90,614.12) skewX(0.5)" text-anchor="end" font-size="9.8" stroke="#111" stroke-width="0.12">0.5</text>
<path d="M451.70,590.75H460.50" stroke="#000" stroke-width="1.8"/>
<text transform="translate(449.90,594.35) skewX(0.5)" text-anchor="end" font-size="9.8" stroke="#111" stroke-width="0.12">1.0</text>
<path d="M451.70,570.97H460.50" stroke="#000" stroke-width="1.8"/>
<text transform="translate(449.90,574.57) skewX(0.5)" text-anchor="end" font-size="9.8" stroke="#111" stroke-width="0.12">1.5</text>
<path d="M451.70,551.20H460.50" stroke="#000" stroke-width="1.8"/>
<text transform="translate(449.90,554.80) skewX(0.5)" text-anchor="end" font-size="9.8" stroke="#111" stroke-width="0.12">2.0</text>
<path d="M467.80,630.30V639.50" stroke="#000" stroke-width="1.8"/>
<text transform="translate(467.80,650.60) skewX(0.5)" text-anchor="middle" font-size="9.8" stroke="#111" stroke-width="0.12">10<tspan font-size="6.4" dx="0.5" dy="-2.4" stroke-width="0">-2</tspan></text>
<path d="M492.90,630.30V639.50" stroke="#000" stroke-width="1.8"/>
<text transform="translate(492.90,650.60) skewX(0.5)" text-anchor="middle" font-size="9.8" stroke="#111" stroke-width="0.12">10<tspan font-size="6.4" dx="0.5" dy="-2.4" stroke-width="0">-1</tspan></text>
<path d="M518.00,630.30V639.50" stroke="#000" stroke-width="1.8"/>
<text transform="translate(518.00,650.60) skewX(0.5)" text-anchor="middle" font-size="9.8" stroke="#111" stroke-width="0.12">10<tspan font-size="6.4" dx="0.5" dy="-2.4" stroke-width="0">0</tspan></text>
<path d="M543.10,630.30V639.50" stroke="#000" stroke-width="1.8"/>
<text transform="translate(543.10,650.60) skewX(0.5)" text-anchor="middle" font-size="9.8" stroke="#111" stroke-width="0.12">10<tspan font-size="6.4" dx="0.5" dy="-2.4" stroke-width="0">1</tspan></text>
<path d="M572.3,449.45H594.9" stroke="#ff0d0d" stroke-width="1.5"/>
<circle cx="583.70" cy="449.45" r="2.15" fill="#ff0000"/>
<text transform="translate(606.50,453.05) skewX(0.5)" font-size="9.75" stroke="#111" stroke-width="0.12">AGP-R7</text>
<path d="M572.3,468.62H594.9" stroke="#ff70a6" stroke-width="1.15"/>
<rect x="581.55" y="466.47" width="4.30" height="4.30" fill="#f05f96"/>
<text transform="translate(606.50,472.22) skewX(0.5)" font-size="9.75" stroke="#111" stroke-width="0.12">AGP-R12</text>
<path d="M572.3,487.79H594.9" stroke="#ff9530" stroke-width="1.55"/>
<path d="M581.20,490.16L586.20,490.16L583.70,485.41Z" fill="#ff8000"/>
<text transform="translate(606.50,491.39) skewX(0.5)" font-size="9.75" stroke="#111" stroke-width="0.12">AGP-R17</text>
<path d="M572.3,506.96H594.9" stroke="#44c044" stroke-width="1.8"/>
<path d="M581.30,504.68L586.10,504.68L583.70,509.24Z" fill="#00a800"/>
<text transform="translate(606.50,510.56) skewX(0.5)" font-size="9.75" stroke="#111" stroke-width="0.12">AGP-R4</text>
<path d="M572.3,526.13H594.9" stroke="#1ef51e" stroke-width="1.4"/>
<path d="M583.70,523.83L586.00,526.13L583.70,528.43L581.40,526.13Z" fill="#00f000"/>
<text transform="translate(606.50,529.73) skewX(0.5)" font-size="9.75" stroke="#111" stroke-width="0.12">AGP-R5</text>
<path d="M572.3,545.30H594.9" stroke="#3a3aff" stroke-width="1.05"/>
<circle cx="583.70" cy="545.30" r="2.30" fill="#0000ff"/>
<text transform="translate(606.50,548.90) skewX(0.5)" font-size="9.75" stroke="#111" stroke-width="0.12">AGP-R11</text>
<path d="M572.3,564.47H594.9" stroke="#2afafa" stroke-width="1.05"/>
<rect x="580.90" y="561.67" width="5.60" height="5.60" fill="#1ef5f5"/>
<text transform="translate(606.50,568.07) skewX(0.5)" font-size="9.75" stroke="#111" stroke-width="0.12">AGP-R20</text>
<path d="M572.3,583.64H594.9" stroke="#a8a8a8" stroke-width="1.3"/>
<path d="M581.30,585.92L586.10,585.92L583.70,581.36Z" fill="#999999"/>
<text transform="translate(606.50,587.24) skewX(0.5)" font-size="9.75" stroke="#111" stroke-width="0.12">MR78</text>
<path d="M572.3,602.81H594.9" stroke="#555555" stroke-width="1.7"/>
<path d="M580.90,600.15L586.50,600.15L583.70,605.47Z" fill="#333333"/>
<text transform="translate(606.50,606.41) skewX(0.5)" font-size="9.75" stroke="#111" stroke-width="0.12">MR191</text>
<text transform="translate(321.90,678.00) skewX(0.5)" text-anchor="middle" font-size="9.9" stroke="#111" stroke-width="0.12">Ab concentration (μg/mL)</text>
<text transform="translate(27.70,530.40) rotate(-90) skewX(0.5)" text-anchor="middle" font-size="10.0" stroke="#111" stroke-width="0.12">OD<tspan font-size="6.8" dy="2.4">450</tspan><tspan dy="-2.4"> nm</tspan></text>
<text transform="translate(2.60,395.90) skewX(0.5)" font-size="9.5" font-weight="bold" stroke="#111" stroke-width="0.12">b</text>
</svg></body></html>
